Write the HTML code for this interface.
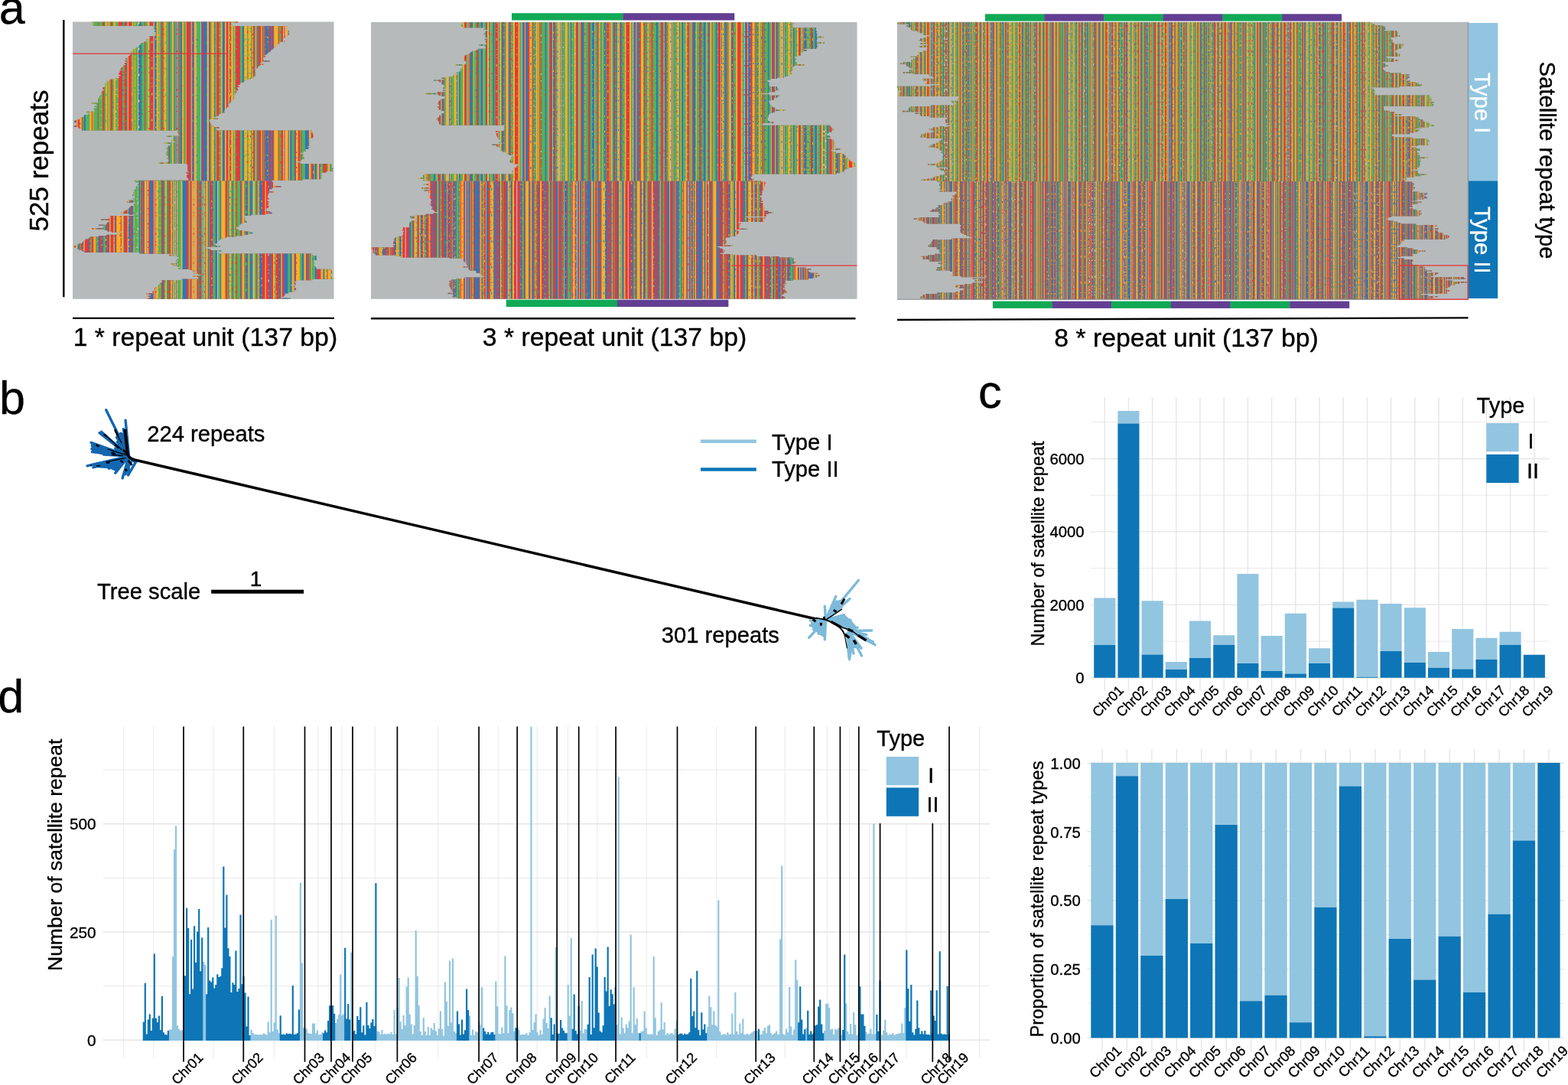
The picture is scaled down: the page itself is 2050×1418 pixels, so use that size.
<!DOCTYPE html>
<html lang="en">
<head>
<meta charset="utf-8">
<title>Satellite repeat types</title>
<style>
html,body{margin:0;padding:0;background:#fff;}
body{width:2050px;height:1418px;overflow:hidden;}
svg{display:block;font-family:'Liberation Sans', Arial, Helvetica, sans-serif;}
text{stroke-width:.35px;}
</style>
</head>
<body>
<svg width="2050" height="1418" viewBox="0 0 2050 1418">
<g>
<rect x="95" y="28.5" width="341.5" height="362.3" fill="#b6babb"/>
<clipPath id="al1"><path d="M120.3 28.3L120.3 29.8L122 29.8L122 31.2L120.8 31.2L120.8 32.7L122.3 32.7L122.3 34.1L200.6 34.1L200.6 35.6L201.3 35.6L201.3 37L200.8 37L200.8 38.5L203.7 38.5L203.7 39.9L202.1 39.9L202.1 41.4L203.6 41.4L203.6 42.8L203.8 42.8L203.8 44.3L202.9 44.3L202.9 45.7L203.2 45.7L203.2 47.2L195 47.2L195 48.6L196.1 48.6L196.1 50.1L194.4 50.1L194.4 51.5L191.5 51.5L191.5 53L194.3 53L194.3 54.4L188.1 54.4L188.1 55.9L184.6 55.9L184.6 57.3L184.2 57.3L184.2 58.8L182.3 58.8L182.3 60.2L181.6 60.2L181.6 61.7L177.7 61.7L177.7 63.1L175.9 63.1L175.9 64.6L174 64.6L174 66L173.1 66L173.1 67.5L171.9 67.5L171.9 68.9L172.6 68.9L172.6 70.4L170.8 70.4L170.8 71.8L169.5 71.8L169.5 73.3L167.3 73.3L167.3 74.7L166.8 74.7L166.8 76.2L163.9 76.2L163.9 77.6L166.6 77.6L166.6 79.1L163.5 79.1L163.5 80.5L165.6 80.5L165.6 82L162.8 82L162.8 83.4L163.9 83.4L163.9 84.9L160.9 84.9L160.9 86.3L161.1 86.3L161.1 87.8L159.1 87.8L159.1 89.2L157.5 89.2L157.5 90.7L159.6 90.7L159.6 92.1L156.8 92.1L156.8 93.6L156.7 93.6L156.7 95L155.4 95L155.4 96.5L155.7 96.5L155.7 97.9L157.5 97.9L157.5 99.4L155.2 99.4L155.2 100.8L155.9 100.8L155.9 102.3L149.6 102.3L149.6 103.7L143.2 103.7L143.2 105.2L141.9 105.2L141.9 106.6L139.3 106.6L139.3 108.1L137.6 108.1L137.6 109.5L138.3 109.5L138.3 111L137.2 111L137.2 112.4L137.1 112.4L137.1 113.9L134.4 113.9L134.4 115.3L134.6 115.3L134.6 116.8L136.2 116.8L136.2 118.2L134.3 118.2L134.3 119.7L132.4 119.7L132.4 121.1L132.8 121.1L132.8 122.6L133.1 122.6L133.1 124L131.3 124L131.3 125.5L130.1 125.5L130.1 126.9L129.6 126.9L129.6 128.4L128.8 128.4L128.8 129.8L128 129.8L128 131.3L128.3 131.3L128.3 132.7L128.6 132.7L128.6 134.2L120.2 134.2L120.2 135.6L125.4 135.6L125.4 137.1L127 137.1L127 138.5L123.7 138.5L123.7 140L125.9 140L125.9 141.4L122.7 141.4L122.7 142.9L123.2 142.9L123.2 144.3L124.1 144.3L124.1 145.8L113.3 145.8L113.3 147.2L118.1 147.2L118.1 148.7L114.9 148.7L114.9 150.1L110.4 150.1L110.4 151.6L109.5 151.6L109.5 153L105.3 153L105.3 154.5L104.1 154.5L104.1 155.9L101.4 155.9L101.4 157.4L97.5 157.4L97.5 158.8L97.3 158.8L97.3 160.3L99.9 160.3L99.9 161.7L100 161.7L100 163.2L99.1 163.2L99.1 164.6L96.8 164.6L96.8 166.1L102.5 166.1L102.5 167.5L104.6 167.5L104.6 169L106.9 169L106.9 170.4L233.2 170.4L233.2 171.9L232 171.9L232 173.3L233.7 173.3L233.7 174.8L233.2 174.8L233.2 176.2L234.9 176.2L234.9 177.7L217.6 177.7L217.6 179.1L227.4 179.1L227.4 180.6L226.8 180.6L226.8 182L225.2 182L225.2 183.5L224.5 183.5L224.5 184.9L229.3 184.9L229.3 186.4L214.7 186.4L214.7 187.8L223.1 187.8L223.1 189.3L222.3 189.3L222.3 190.7L219.5 190.7L219.5 192.2L219.7 192.2L219.7 193.6L217.7 193.6L217.7 195.1L219 195.1L219 196.5L218.3 196.5L218.3 198L218.4 198L218.4 199.4L217.3 199.4L217.3 200.9L216.9 200.9L216.9 202.3L218.5 202.3L218.5 203.8L219.6 203.8L219.6 205.2L220.3 205.2L220.3 206.7L218.4 206.7L218.4 208.1L220.5 208.1L220.5 209.6L220.9 209.6L220.9 211L219.6 211L219.6 212.5L207.9 212.5L207.9 213.9L244.6 213.9L244.6 215.4L246.2 215.4L246.2 216.8L245.2 216.8L245.2 218.3L245.6 218.3L245.6 219.7L245.1 219.7L245.1 221.2L246.6 221.2L246.6 222.6L244.9 222.6L244.9 224.1L246.9 224.1L246.9 225.5L243.7 225.5L243.7 227L246.5 227L246.5 228.4L244.4 228.4L244.4 229.9L244.3 229.9L244.3 231.3L244.8 231.3L244.8 232.8L246.1 232.8L246.1 234.2L246.8 234.2L246.8 235.7L175.5 235.7L175.5 237.1L177.1 237.1L177.1 238.6L181.9 238.6L181.9 240L180.5 240L180.5 241.5L179.8 241.5L179.8 242.9L178.6 242.9L178.6 244.4L177.2 244.4L177.2 245.8L178.2 245.8L178.2 247.3L175.9 247.3L175.9 248.7L175.3 248.7L175.3 250.2L175.2 250.2L175.2 251.6L174.2 251.6L174.2 253.1L174.8 253.1L174.8 254.5L173.3 254.5L173.3 256L176.1 256L176.1 257.4L175.8 257.4L175.8 258.9L173.7 258.9L173.7 260.3L175.8 260.3L175.8 261.8L167.6 261.8L167.6 263.2L166.2 263.2L166.2 264.7L177.3 264.7L177.3 266.1L174.9 266.1L174.9 267.6L175.2 267.6L175.2 269L170.9 269L170.9 270.5L169.3 270.5L169.3 271.9L168.2 271.9L168.2 273.4L166.2 273.4L166.2 274.8L163.8 274.8L163.8 276.3L161.5 276.3L161.5 277.7L158.4 277.7L158.4 279.2L168.6 279.2L168.6 280.6L175.7 280.6L175.7 282.1L143.5 282.1L143.5 283.5L144.5 283.5L144.5 285L142.5 285L142.5 286.4L132.3 286.4L132.3 287.9L142.7 287.9L142.7 289.3L142.8 289.3L142.8 290.8L139.9 290.8L139.9 292.2L139.2 292.2L139.2 293.7L129 293.7L129 295.1L135.8 295.1L135.8 296.6L134.8 296.6L134.8 298L120.6 298L120.6 299.5L136 299.5L136 300.9L140.4 300.9L140.4 302.4L146.2 302.4L146.2 303.8L156.4 303.8L156.4 305.3L153.8 305.3L153.8 306.7L139.4 306.7L139.4 308.2L129.3 308.2L129.3 309.6L117.3 309.6L117.3 311.1L115.8 311.1L115.8 312.5L111.8 312.5L111.8 314L110.3 314L110.3 315.4L108.4 315.4L108.4 316.9L107.3 316.9L107.3 318.3L102.8 318.3L102.8 319.8L99.6 319.8L99.6 321.2L97.1 321.2L97.1 322.7L97.4 322.7L97.4 324.1L100.2 324.1L100.2 325.6L103 325.6L103 327L107.5 327L107.5 328.5L110.5 328.5L110.5 329.9L182.5 329.9L182.5 331.4L231.3 331.4L231.3 332.8L221.3 332.8L221.3 334.3L231.5 334.3L231.5 335.7L233.7 335.7L233.7 337.2L234.5 337.2L234.5 338.6L231.5 338.6L231.5 340.1L230.2 340.1L230.2 341.5L232.2 341.5L232.2 343L230.5 343L230.5 344.4L223.5 344.4L223.5 345.9L226.5 345.9L226.5 347.3L231.9 347.3L231.9 348.8L236.2 348.8L236.2 350.2L233.1 350.2L233.1 351.7L247.8 351.7L247.8 353.1L251.4 353.1L251.4 354.6L256.8 354.6L256.8 356L252.9 356L252.9 357.5L259 357.5L259 358.9L262.7 358.9L262.7 360.4L252.1 360.4L252.1 361.8L259.2 361.8L259.2 363.3L259 363.3L259 364.7L237.3 364.7L237.3 366.2L211.7 366.2L211.7 367.6L212.1 367.6L212.1 369.1L210.5 369.1L210.5 370.5L208.9 370.5L208.9 372L207.5 372L207.5 373.4L206.5 373.4L206.5 374.9L203.8 374.9L203.8 376.3L202 376.3L202 377.8L201.9 377.8L201.9 379.2L202.3 379.2L202.3 380.7L199.5 380.7L199.5 382.1L200 382.1L200 383.6L191.1 383.6L191.1 385L197.2 385L197.2 386.5L192.5 386.5L192.5 387.9L196.1 387.9L196.1 389.4L192.5 389.4L192.5 390.8L379.8 390.8L379.8 389.4L367.9 389.4L367.9 387.9L370.9 387.9L370.9 386.5L372.2 386.5L372.2 385L372.3 385L372.3 383.6L377.2 383.6L377.2 382.1L384.5 382.1L384.5 380.7L382.1 380.7L382.1 379.2L386.7 379.2L386.7 377.8L387.2 377.8L387.2 376.3L384.5 376.3L384.5 374.9L385.6 374.9L385.6 373.4L380.3 373.4L380.3 372L386.6 372L386.6 370.5L386.2 370.5L386.2 369.1L385 369.1L385 367.6L387.3 367.6L387.3 366.2L408.4 366.2L408.4 364.7L435.5 364.7L435.5 363.3L434.5 363.3L434.5 361.8L432.9 361.8L432.9 360.4L432.9 360.4L432.9 358.9L432.6 358.9L432.6 357.5L434.5 357.5L434.5 356L435 356L435 354.6L433.4 354.6L433.4 353.1L432.2 353.1L432.2 351.7L413.7 351.7L413.7 350.2L412.8 350.2L412.8 348.8L411.7 348.8L411.7 347.3L410 347.3L410 345.9L411 345.9L411 344.4L410.2 344.4L410.2 343L410.5 343L410.5 341.5L410.2 341.5L410.2 340.1L413.6 340.1L413.6 338.6L413.6 338.6L413.6 337.2L413.6 337.2L413.6 335.7L413.6 335.7L413.6 334.3L408.9 334.3L408.9 332.8L407.6 332.8L407.6 331.4L285.8 331.4L285.8 329.9L283.3 329.9L283.3 328.5L289.7 328.5L289.7 327L275.3 327L275.3 325.6L268.9 325.6L268.9 324.1L268.6 324.1L268.6 322.7L288.1 322.7L288.1 321.2L281.9 321.2L281.9 319.8L280.2 319.8L280.2 318.3L283.7 318.3L283.7 316.9L284.8 316.9L284.8 315.4L285.4 315.4L285.4 314L287.7 314L287.7 312.5L291.7 312.5L291.7 311.1L295.9 311.1L295.9 309.6L308.9 309.6L308.9 308.2L318.5 308.2L318.5 306.7L325.2 306.7L325.2 305.3L330.6 305.3L330.6 303.8L326.4 303.8L326.4 302.4L319.5 302.4L319.5 300.9L312.1 300.9L312.1 299.5L308.8 299.5L308.8 298L308.9 298L308.9 296.6L312.3 296.6L312.3 295.1L312.9 295.1L312.9 293.7L314.4 293.7L314.4 292.2L318.3 292.2L318.3 290.8L322.5 290.8L322.5 289.3L321.7 289.3L321.7 287.9L320.1 287.9L320.1 286.4L320.2 286.4L320.2 285L320 285L320 283.5L317.7 283.5L317.7 282.1L328.3 282.1L328.3 280.6L347.6 280.6L347.6 279.2L355.8 279.2L355.8 277.7L353.2 277.7L353.2 276.3L348.7 276.3L348.7 274.8L346 274.8L346 273.4L348.5 273.4L348.5 271.9L350.4 271.9L350.4 270.5L351.5 270.5L351.5 269L349.9 269L349.9 267.6L350.8 267.6L350.8 266.1L351.3 266.1L351.3 264.7L351.7 264.7L351.7 263.2L349.6 263.2L349.6 261.8L349.3 261.8L349.3 260.3L352 260.3L352 258.9L350.2 258.9L350.2 257.4L349.4 257.4L349.4 256L350.2 256L350.2 254.5L350.4 254.5L350.4 253.1L351.7 253.1L351.7 251.6L358.7 251.6L358.7 250.2L352.1 250.2L352.1 248.7L351.9 248.7L351.9 247.3L355.2 247.3L355.2 245.8L357.4 245.8L357.4 244.4L367.9 244.4L367.9 242.9L358.2 242.9L358.2 241.5L356.7 241.5L356.7 240L357.2 240L357.2 238.6L356.2 238.6L356.2 237.1L355.3 237.1L355.3 235.7L395.6 235.7L395.6 234.2L419.7 234.2L419.7 232.8L420.2 232.8L420.2 231.3L419.4 231.3L419.4 229.9L420.8 229.9L420.8 228.4L419.4 228.4L419.4 227L420.7 227L420.7 225.5L426.8 225.5L426.8 224.1L434.6 224.1L434.6 222.6L433.8 222.6L433.8 221.2L435.3 221.2L435.3 219.7L433.3 219.7L433.3 218.3L433.8 218.3L433.8 216.8L433.8 216.8L433.8 215.4L432.7 215.4L432.7 213.9L393.1 213.9L393.1 212.5L387.7 212.5L387.7 211L392.8 211L392.8 209.6L394.7 209.6L394.7 208.1L397.4 208.1L397.4 206.7L397.8 206.7L397.8 205.2L395.8 205.2L395.8 203.8L396.3 203.8L396.3 202.3L396.2 202.3L396.2 200.9L393.4 200.9L393.4 199.4L396.8 199.4L396.8 198L399.5 198L399.5 196.5L399.2 196.5L399.2 195.1L403 195.1L403 193.6L404.4 193.6L404.4 192.2L402.3 192.2L402.3 190.7L404.8 190.7L404.8 189.3L404.4 189.3L404.4 187.8L404.6 187.8L404.6 186.4L405.2 186.4L405.2 184.9L403.7 184.9L403.7 183.5L405.1 183.5L405.1 182L406 182L406 180.6L408.9 180.6L408.9 179.1L409.8 179.1L409.8 177.7L409.9 177.7L409.9 176.2L409.1 176.2L409.1 174.8L408.5 174.8L408.5 173.3L406.3 173.3L406.3 171.9L407.3 171.9L407.3 170.4L283.3 170.4L283.3 169L282.4 169L282.4 167.5L286.9 167.5L286.9 166.1L279.3 166.1L279.3 164.6L276.2 164.6L276.2 163.2L276.1 163.2L276.1 161.7L274.9 161.7L274.9 160.3L274.3 160.3L274.3 158.8L273.2 158.8L273.2 157.4L274 157.4L274 155.9L285 155.9L285 154.5L279 154.5L279 153L282.5 153L282.5 151.6L285.9 151.6L285.9 150.1L286.6 150.1L286.6 148.7L288.9 148.7L288.9 147.2L293.4 147.2L293.4 145.8L292.4 145.8L292.4 144.3L293.9 144.3L293.9 142.9L294.8 142.9L294.8 141.4L296.9 141.4L296.9 140L298.4 140L298.4 138.5L299 138.5L299 137.1L298.1 137.1L298.1 135.6L300.4 135.6L300.4 134.2L301.6 134.2L301.6 132.7L301.8 132.7L301.8 131.3L304.6 131.3L304.6 129.8L305.2 129.8L305.2 128.4L307 128.4L307 126.9L305.4 126.9L305.4 125.5L305.5 125.5L305.5 124L307.3 124L307.3 122.6L308.1 122.6L308.1 121.1L309.5 121.1L309.5 119.7L308.1 119.7L308.1 118.2L311.2 118.2L311.2 116.8L310.8 116.8L310.8 115.3L309.8 115.3L309.8 113.9L312.8 113.9L312.8 112.4L310.8 112.4L310.8 111L313.5 111L313.5 109.5L314.7 109.5L314.7 108.1L318.3 108.1L318.3 106.6L319.6 106.6L319.6 105.2L322.3 105.2L322.3 103.7L327.5 103.7L327.5 102.3L331.3 102.3L331.3 100.8L331.4 100.8L331.4 99.4L334.5 99.4L334.5 97.9L334.5 97.9L334.5 96.5L334.1 96.5L334.1 95L334.5 95L334.5 93.6L334 93.6L334 92.1L334.4 92.1L334.4 90.7L333 90.7L333 89.2L337 89.2L337 87.8L337.5 87.8L337.5 86.3L339.6 86.3L339.6 84.9L344.4 84.9L344.4 83.4L340.2 83.4L340.2 82L342.6 82L342.6 80.5L352.5 80.5L352.5 79.1L344.5 79.1L344.5 77.6L343.7 77.6L343.7 76.2L343.8 76.2L343.8 74.7L347 74.7L347 73.3L345.6 73.3L345.6 71.8L348.2 71.8L348.2 70.4L349.9 70.4L349.9 68.9L351.7 68.9L351.7 67.5L353.7 67.5L353.7 66L354.9 66L354.9 64.6L357.1 64.6L357.1 63.1L360 63.1L360 61.7L358.9 61.7L358.9 60.2L360.6 60.2L360.6 58.8L362.6 58.8L362.6 57.3L365.3 57.3L365.3 55.9L364.9 55.9L364.9 54.4L372.8 54.4L372.8 53L369.9 53L369.9 51.5L369.7 51.5L369.7 50.1L373.7 50.1L373.7 48.6L374.2 48.6L374.2 47.2L375.5 47.2L375.5 45.7L378.5 45.7L378.5 44.3L378.1 44.3L378.1 42.8L376.6 42.8L376.6 41.4L378.2 41.4L378.2 39.9L375.6 39.9L375.6 38.5L375.1 38.5L375.1 37L374.4 37L374.4 35.6L375.7 35.6L375.7 34.1L304.4 34.1L304.4 32.7L302.3 32.7L302.3 31.2L302 31.2L302 29.8L311.1 29.8L311.1 28.3z"/></clipPath>
<g clip-path="url(#al1)">
<rect x="95" y="28.5" width="341.5" height="208.1" fill="#9d8858"/>
<path fill="#2d77be" d="M95 28.5h3.91v208.1h-3.91zM109.34 28.5h2.61v208.1h-2.61zM165.39 28.5h1.3v208.1h-1.3zM181.03 28.5h3.91v208.1h-3.91zM195.36 28.5h1.3v208.1h-1.3zM209.7 28.5h1.3v208.1h-1.3zM218.83 28.5h2.61v208.1h-2.61zM222.74 28.5h1.3v208.1h-1.3zM226.65 28.5h1.3v208.1h-1.3zM239.68 28.5h1.3v208.1h-1.3zM263.14 28.5h6.52v208.1h-6.52zM272.27 28.5h1.3v208.1h-1.3zM297.03 28.5h3.91v208.1h-3.91zM307.46 28.5h1.3v208.1h-1.3zM316.58 28.5h2.61v208.1h-2.61zM332.23 28.5h1.3v208.1h-1.3zM337.44 28.5h1.3v208.1h-1.3zM346.56 28.5h3.91v208.1h-3.91zM351.78 28.5h2.61v208.1h-2.61zM355.69 28.5h1.3v208.1h-1.3zM376.54 28.5h1.3v208.1h-1.3zM379.15 28.5h2.61v208.1h-2.61zM385.67 28.5h1.3v208.1h-1.3zM398.7 28.5h5.21v208.1h-5.21zM409.13 28.5h1.3v208.1h-1.3zM411.73 28.5h2.61v208.1h-2.61zM431.29 28.5h1.3v208.1h-1.3zM433.89 28.5h1.3v208.1h-1.3z"/>
<path fill="#ec353b" d="M98.91 28.5h1.3v208.1h-1.3zM101.52 28.5h2.61v208.1h-2.61zM106.73 28.5h1.3v208.1h-1.3zM119.77 28.5h1.3v208.1h-1.3zM127.59 28.5h1.3v208.1h-1.3zM134.1 28.5h2.61v208.1h-2.61zM144.53 28.5h2.61v208.1h-2.61zM154.96 28.5h5.21v208.1h-5.21zM162.78 28.5h2.61v208.1h-2.61zM167.99 28.5h3.91v208.1h-3.91zM188.85 28.5h1.3v208.1h-1.3zM196.67 28.5h3.91v208.1h-3.91zM234.47 28.5h1.3v208.1h-1.3zM242.29 28.5h5.21v208.1h-5.21zM269.66 28.5h1.3v208.1h-1.3zM276.18 28.5h3.91v208.1h-3.91zM287.91 28.5h2.61v208.1h-2.61zM293.12 28.5h1.3v208.1h-1.3zM300.94 28.5h1.3v208.1h-1.3zM308.76 28.5h5.21v208.1h-5.21zM330.92 28.5h1.3v208.1h-1.3zM336.14 28.5h1.3v208.1h-1.3zM338.74 28.5h2.61v208.1h-2.61zM342.65 28.5h1.3v208.1h-1.3zM345.26 28.5h1.3v208.1h-1.3zM350.47 28.5h1.3v208.1h-1.3zM354.38 28.5h1.3v208.1h-1.3zM356.99 28.5h1.3v208.1h-1.3zM363.51 28.5h1.3v208.1h-1.3zM367.42 28.5h2.61v208.1h-2.61zM371.33 28.5h1.3v208.1h-1.3zM384.36 28.5h1.3v208.1h-1.3zM389.58 28.5h2.61v208.1h-2.61zM393.49 28.5h1.3v208.1h-1.3zM406.52 28.5h2.61v208.1h-2.61zM416.95 28.5h1.3v208.1h-1.3zM422.16 28.5h5.21v208.1h-5.21z"/>
<path fill="#fbae25" d="M100.21 28.5h1.3v208.1h-1.3zM104.12 28.5h2.61v208.1h-2.61zM117.16 28.5h2.61v208.1h-2.61zM121.07 28.5h1.3v208.1h-1.3zM138.01 28.5h2.61v208.1h-2.61zM141.92 28.5h1.3v208.1h-1.3zM148.44 28.5h2.61v208.1h-2.61zM166.69 28.5h1.3v208.1h-1.3zM173.21 28.5h1.3v208.1h-1.3zM175.81 28.5h1.3v208.1h-1.3zM179.72 28.5h1.3v208.1h-1.3zM192.76 28.5h2.61v208.1h-2.61zM200.58 28.5h1.3v208.1h-1.3zM204.49 28.5h1.3v208.1h-1.3zM208.4 28.5h1.3v208.1h-1.3zM211.01 28.5h2.61v208.1h-2.61zM216.22 28.5h1.3v208.1h-1.3zM224.04 28.5h2.61v208.1h-2.61zM227.95 28.5h3.91v208.1h-3.91zM235.77 28.5h2.61v208.1h-2.61zM240.98 28.5h1.3v208.1h-1.3zM251.41 28.5h5.21v208.1h-5.21zM270.96 28.5h1.3v208.1h-1.3zM273.57 28.5h2.61v208.1h-2.61zM280.09 28.5h1.3v208.1h-1.3zM285.3 28.5h1.3v208.1h-1.3zM294.43 28.5h2.61v208.1h-2.61zM302.25 28.5h2.61v208.1h-2.61zM306.16 28.5h1.3v208.1h-1.3zM319.19 28.5h3.91v208.1h-3.91zM324.4 28.5h3.91v208.1h-3.91zM329.62 28.5h1.3v208.1h-1.3zM333.53 28.5h1.3v208.1h-1.3zM341.35 28.5h1.3v208.1h-1.3zM358.29 28.5h5.21v208.1h-5.21zM370.02 28.5h1.3v208.1h-1.3zM373.94 28.5h2.61v208.1h-2.61zM377.85 28.5h1.3v208.1h-1.3zM386.97 28.5h2.61v208.1h-2.61zM403.91 28.5h2.61v208.1h-2.61zM414.34 28.5h1.3v208.1h-1.3zM428.68 28.5h2.61v208.1h-2.61z"/>
<path fill="#4db65a" d="M108.03 28.5h1.3v208.1h-1.3zM111.94 28.5h5.21v208.1h-5.21zM122.37 28.5h5.21v208.1h-5.21zM128.89 28.5h5.21v208.1h-5.21zM136.71 28.5h1.3v208.1h-1.3zM140.62 28.5h1.3v208.1h-1.3zM143.23 28.5h1.3v208.1h-1.3zM147.14 28.5h1.3v208.1h-1.3zM151.05 28.5h3.91v208.1h-3.91zM160.17 28.5h2.61v208.1h-2.61zM171.9 28.5h1.3v208.1h-1.3zM174.51 28.5h1.3v208.1h-1.3zM177.12 28.5h2.61v208.1h-2.61zM184.94 28.5h3.91v208.1h-3.91zM190.15 28.5h2.61v208.1h-2.61zM201.88 28.5h2.61v208.1h-2.61zM205.79 28.5h2.61v208.1h-2.61zM213.61 28.5h2.61v208.1h-2.61zM217.52 28.5h1.3v208.1h-1.3zM221.43 28.5h1.3v208.1h-1.3zM231.86 28.5h2.61v208.1h-2.61zM238.38 28.5h1.3v208.1h-1.3zM250.11 28.5h1.3v208.1h-1.3zM256.63 28.5h6.52v208.1h-6.52zM281.39 28.5h3.91v208.1h-3.91zM290.52 28.5h2.61v208.1h-2.61zM304.85 28.5h1.3v208.1h-1.3zM313.98 28.5h2.61v208.1h-2.61zM323.1 28.5h1.3v208.1h-1.3zM328.31 28.5h1.3v208.1h-1.3zM334.83 28.5h1.3v208.1h-1.3zM343.96 28.5h1.3v208.1h-1.3zM364.81 28.5h2.61v208.1h-2.61zM381.76 28.5h2.61v208.1h-2.61zM392.18 28.5h1.3v208.1h-1.3zM394.79 28.5h3.91v208.1h-3.91zM410.43 28.5h1.3v208.1h-1.3zM418.25 28.5h3.91v208.1h-3.91zM427.38 28.5h1.3v208.1h-1.3zM432.59 28.5h1.3v208.1h-1.3zM435.2 28.5h1.3v208.1h-1.3z"/>
<path fill="#8a5a86" d="M247.5 28.5h2.61v208.1h-2.61z"/>
<path fill="#c4c0b4" d="M286.6 28.5h1.3v208.1h-1.3zM372.63 28.5h1.3v208.1h-1.3zM415.65 28.5h1.3v208.1h-1.3z"/>
<path fill="#c4c0b4" d="M201.23 28.5h0.69v208.1h-0.69zM231 28.5h1.23v208.1h-1.23zM253.8 28.5h1.04v208.1h-1.04zM262.09 28.5h0.94v208.1h-0.94zM270.48 28.5h1.04v208.1h-1.04z"/>
<path fill="#2d77be" d="M201.88 28.5h2.86v208.1h-2.86zM210.27 28.5h1.14v208.1h-1.14zM221.13 28.5h1.38v208.1h-1.38zM227.05 28.5h1.53v208.1h-1.53zM229.76 28.5h1.28v208.1h-1.28zM235.69 28.5h2.37v208.1h-2.37zM251.92 28.5h1.93v208.1h-1.93zM262.98 28.5h1.33v208.1h-1.33zM265.89 28.5h4.64v208.1h-4.64zM272.95 28.5h1.04v208.1h-1.04zM279.86 28.5h1.23v208.1h-1.23zM290.57 28.5h3.41v208.1h-3.41z"/>
<path fill="#fbae25" d="M204.69 28.5h2.52v208.1h-2.52zM208.29 28.5h1.14v208.1h-1.14zM214.22 28.5h3.21v208.1h-3.21zM219.4 28.5h0.99v208.1h-0.99zM224.93 28.5h2.17v208.1h-2.17zM238.01 28.5h2.42v208.1h-2.42zM242.55 28.5h1.33v208.1h-1.33zM249.51 28.5h1.48v208.1h-1.48zM254.79 28.5h2.27v208.1h-2.27zM271.47 28.5h1.53v208.1h-1.53zM276.26 28.5h3.65v208.1h-3.65zM282.43 28.5h0.94v208.1h-0.94zM288.6 28.5h2.02v208.1h-2.02zM293.93 28.5h1.88v208.1h-1.88zM298.22 28.5h1.83v208.1h-1.83z"/>
<path fill="#4db65a" d="M207.16 28.5h1.19v208.1h-1.19zM209.38 28.5h0.94v208.1h-0.94zM213.23 28.5h1.04v208.1h-1.04zM217.37 28.5h2.07v208.1h-2.07zM222.46 28.5h2.52v208.1h-2.52zM228.53 28.5h1.28v208.1h-1.28zM232.97 28.5h1.38v208.1h-1.38zM235.04 28.5h0.69v208.1h-0.69zM240.38 28.5h2.22v208.1h-2.22zM257.01 28.5h5.13v208.1h-5.13zM274.93 28.5h1.38v208.1h-1.38zM281.05 28.5h1.43v208.1h-1.43zM286.62 28.5h2.02v208.1h-2.02z"/>
<path fill="#ec353b" d="M211.35 28.5h1.93v208.1h-1.93zM220.34 28.5h0.84v208.1h-0.84zM232.18 28.5h0.84v208.1h-0.84zM234.3 28.5h0.79v208.1h-0.79zM243.83 28.5h3.6v208.1h-3.6zM250.94 28.5h1.04v208.1h-1.04zM264.26 28.5h1.68v208.1h-1.68zM273.94 28.5h1.04v208.1h-1.04zM283.32 28.5h3.36v208.1h-3.36zM295.76 28.5h2.52v208.1h-2.52z"/>
<path fill="#8a5a86" d="M247.38 28.5h2.17v208.1h-2.17z"/>
<path fill="none" stroke="#ec353b" stroke-width="1.3" stroke-dasharray="1.5 6 1 11 2 4 1 17" stroke-dashoffset="4" d="M96.96 28.5v208.1M237.73 28.5v208.1M330.27 28.5v208.1M387.62 28.5v208.1"/>
<path fill="none" stroke="#c9c4b8" stroke-width="1.3" stroke-dasharray="1 4 2 13 1 7 1.5 9" stroke-dashoffset="11" d="M98.26 28.5v208.1M287.26 28.5v208.1"/>
<path fill="none" stroke="#2d77be" stroke-width="1.3" stroke-dasharray="1.5 6 1 11 2 4 1 17" stroke-dashoffset="18" d="M104.78 28.5v208.1M160.82 28.5v208.1M385.01 28.5v208.1"/>
<path fill="none" stroke="#fbae25" stroke-width="1.3" stroke-dasharray="1 4 2 13 1 7 1.5 9" stroke-dashoffset="22" d="M132.15 28.5v208.1M203.84 28.5v208.1"/>
<path fill="none" stroke="#4db65a" stroke-width="1.3" stroke-dasharray="1 3 1 8 3 11 1 6" stroke-dashoffset="21" d="M138.67 28.5v208.1M196.02 28.5v208.1M216.87 28.5v208.1M252.06 28.5v208.1M270.31 28.5v208.1"/>
<path fill="none" stroke="#4db65a" stroke-width="1.3" stroke-dasharray="1.5 12 1 5 1 21 2 7" stroke-dashoffset="20" d="M139.97 28.5v208.1M321.15 28.5v208.1"/>
<path fill="none" stroke="#2d77be" stroke-width="1.3" stroke-dasharray="2 9 1 3 1 16 1 5" stroke-dashoffset="3" d="M147.79 28.5v208.1M327.66 28.5v208.1M418.9 28.5v208.1"/>
<path fill="none" stroke="#c9c4b8" stroke-width="1.3" stroke-dasharray="1.5 12 1 5 1 21 2 7" stroke-dashoffset="26" d="M151.7 28.5v208.1M370.68 28.5v208.1"/>
<path fill="none" stroke="#fbae25" stroke-width="1.3" stroke-dasharray="1.5 6 1 11 2 4 1 17" stroke-dashoffset="0" d="M153 28.5v208.1M349.82 28.5v208.1"/>
<path fill="none" stroke="#fbae25" stroke-width="1.3" stroke-dasharray="2 9 1 3 1 16 1 5" stroke-dashoffset="18" d="M154.31 28.5v208.1M300.29 28.5v208.1"/>
<path fill="none" stroke="#ec353b" stroke-width="1.3" stroke-dasharray="1 4 2 13 1 7 1.5 9" stroke-dashoffset="1" d="M162.13 28.5v208.1M185.59 28.5v208.1"/>
<path fill="none" stroke="#4db65a" stroke-width="1.3" stroke-dasharray="1.5 6 1 11 2 4 1 17" stroke-dashoffset="21" d="M164.73 28.5v208.1M176.46 28.5v208.1M212.96 28.5v208.1M306.81 28.5v208.1M325.06 28.5v208.1M407.17 28.5v208.1"/>
<path fill="none" stroke="#fbae25" stroke-width="1.3" stroke-dasharray="1 3 1 8 3 11 1 6" stroke-dashoffset="22" d="M172.55 28.5v208.1M198.62 28.5v208.1M301.59 28.5v208.1M409.78 28.5v208.1"/>
<path fill="none" stroke="#c9c4b8" stroke-width="1.3" stroke-dasharray="1 3 1 8 3 11 1 6" stroke-dashoffset="13" d="M181.68 28.5v208.1"/>
<path fill="none" stroke="#ec353b" stroke-width="1.3" stroke-dasharray="1.5 12 1 5 1 21 2 7" stroke-dashoffset="4" d="M194.71 28.5v208.1M214.26 28.5v208.1M231.21 28.5v208.1"/>
<path fill="none" stroke="#fbae25" stroke-width="1.3" stroke-dasharray="1.5 12 1 5 1 21 2 7" stroke-dashoffset="25" d="M207.75 28.5v208.1M420.21 28.5v208.1"/>
<path fill="none" stroke="#2d77be" stroke-width="1.3" stroke-dasharray="1.5 12 1 5 1 21 2 7" stroke-dashoffset="19" d="M257.28 28.5v208.1M355.04 28.5v208.1"/>
<path fill="none" stroke="#c9c4b8" stroke-width="1.3" stroke-dasharray="2 9 1 3 1 16 1 5" stroke-dashoffset="1" d="M279.44 28.5v208.1"/>
<path fill="none" stroke="#2d77be" stroke-width="1.3" stroke-dasharray="1 4 2 13 1 7 1.5 9" stroke-dashoffset="22" d="M280.74 28.5v208.1"/>
<path fill="none" stroke="#4db65a" stroke-width="1.3" stroke-dasharray="1 4 2 13 1 7 1.5 9" stroke-dashoffset="9" d="M309.42 28.5v208.1M347.21 28.5v208.1"/>
<path fill="none" stroke="#4db65a" stroke-width="1.3" stroke-dasharray="2 9 1 3 1 16 1 5" stroke-dashoffset="15" d="M319.84 28.5v208.1"/>
<path fill="none" stroke="#ec353b" stroke-width="1.3" stroke-dasharray="1 3 1 8 3 11 1 6" stroke-dashoffset="1" d="M323.75 28.5v208.1M366.77 28.5v208.1"/>
<path fill="none" stroke="#ec353b" stroke-width="1.3" stroke-dasharray="2 9 1 3 1 16 1 5" stroke-dashoffset="22" d="M433.24 28.5v208.1"/>
<rect x="95" y="236.6" width="341.5" height="154.2" fill="#978064"/>
<path fill="#2d77be" d="M95 236.6h2.61v154.2h-2.61zM101.52 236.6h2.61v154.2h-2.61zM108.03 236.6h1.3v154.2h-1.3zM115.85 236.6h1.3v154.2h-1.3zM128.89 236.6h2.61v154.2h-2.61zM134.1 236.6h1.3v154.2h-1.3zM138.01 236.6h1.3v154.2h-1.3zM140.62 236.6h1.3v154.2h-1.3zM149.74 236.6h1.3v154.2h-1.3zM161.48 236.6h1.3v154.2h-1.3zM167.99 236.6h2.61v154.2h-2.61zM171.9 236.6h2.61v154.2h-2.61zM181.03 236.6h3.91v154.2h-3.91zM194.06 236.6h5.21v154.2h-5.21zM203.19 236.6h1.3v154.2h-1.3zM205.79 236.6h1.3v154.2h-1.3zM209.7 236.6h3.91v154.2h-3.91zM218.83 236.6h2.61v154.2h-2.61zM226.65 236.6h1.3v154.2h-1.3zM230.56 236.6h1.3v154.2h-1.3zM234.47 236.6h1.3v154.2h-1.3zM237.07 236.6h6.52v154.2h-6.52zM246.2 236.6h1.3v154.2h-1.3zM252.72 236.6h1.3v154.2h-1.3zM255.32 236.6h1.3v154.2h-1.3zM260.54 236.6h1.3v154.2h-1.3zM267.05 236.6h5.21v154.2h-5.21zM281.39 236.6h2.61v154.2h-2.61zM287.91 236.6h1.3v154.2h-1.3zM298.34 236.6h1.3v154.2h-1.3zM303.55 236.6h1.3v154.2h-1.3zM313.98 236.6h1.3v154.2h-1.3zM321.8 236.6h2.61v154.2h-2.61zM327.01 236.6h2.61v154.2h-2.61zM338.74 236.6h3.91v154.2h-3.91zM351.78 236.6h2.61v154.2h-2.61zM364.81 236.6h2.61v154.2h-2.61zM371.33 236.6h5.21v154.2h-5.21zM379.15 236.6h2.61v154.2h-2.61zM385.67 236.6h1.3v154.2h-1.3zM394.79 236.6h2.61v154.2h-2.61zM400 236.6h1.3v154.2h-1.3zM405.22 236.6h1.3v154.2h-1.3zM411.73 236.6h2.61v154.2h-2.61zM422.16 236.6h1.3v154.2h-1.3zM432.59 236.6h1.3v154.2h-1.3z"/>
<path fill="#ec353b" d="M97.61 236.6h1.3v154.2h-1.3zM105.43 236.6h2.61v154.2h-2.61zM110.64 236.6h5.21v154.2h-5.21zM117.16 236.6h1.3v154.2h-1.3zM119.77 236.6h2.61v154.2h-2.61zM127.59 236.6h1.3v154.2h-1.3zM131.5 236.6h2.61v154.2h-2.61zM139.32 236.6h1.3v154.2h-1.3zM141.92 236.6h1.3v154.2h-1.3zM144.53 236.6h3.91v154.2h-3.91zM151.05 236.6h1.3v154.2h-1.3zM157.56 236.6h1.3v154.2h-1.3zM162.78 236.6h3.91v154.2h-3.91zM170.6 236.6h1.3v154.2h-1.3zM190.15 236.6h2.61v154.2h-2.61zM199.27 236.6h1.3v154.2h-1.3zM204.49 236.6h1.3v154.2h-1.3zM213.61 236.6h1.3v154.2h-1.3zM217.52 236.6h1.3v154.2h-1.3zM224.04 236.6h1.3v154.2h-1.3zM231.86 236.6h1.3v154.2h-1.3zM243.59 236.6h1.3v154.2h-1.3zM251.41 236.6h1.3v154.2h-1.3zM254.02 236.6h1.3v154.2h-1.3zM265.75 236.6h1.3v154.2h-1.3zM272.27 236.6h1.3v154.2h-1.3zM274.87 236.6h2.61v154.2h-2.61zM294.43 236.6h2.61v154.2h-2.61zM308.76 236.6h1.3v154.2h-1.3zM315.28 236.6h1.3v154.2h-1.3zM320.49 236.6h1.3v154.2h-1.3zM334.83 236.6h1.3v154.2h-1.3zM342.65 236.6h3.91v154.2h-3.91zM347.87 236.6h3.91v154.2h-3.91zM354.38 236.6h2.61v154.2h-2.61zM360.9 236.6h3.91v154.2h-3.91zM368.72 236.6h2.61v154.2h-2.61zM384.36 236.6h1.3v154.2h-1.3zM401.31 236.6h2.61v154.2h-2.61zM414.34 236.6h5.21v154.2h-5.21zM427.38 236.6h1.3v154.2h-1.3z"/>
<path fill="#fbae25" d="M98.91 236.6h2.61v154.2h-2.61zM109.34 236.6h1.3v154.2h-1.3zM122.37 236.6h2.61v154.2h-2.61zM143.23 236.6h1.3v154.2h-1.3zM148.44 236.6h1.3v154.2h-1.3zM152.35 236.6h5.21v154.2h-5.21zM158.87 236.6h2.61v154.2h-2.61zM166.69 236.6h1.3v154.2h-1.3zM174.51 236.6h1.3v154.2h-1.3zM184.94 236.6h2.61v154.2h-2.61zM192.76 236.6h1.3v154.2h-1.3zM200.58 236.6h2.61v154.2h-2.61zM216.22 236.6h1.3v154.2h-1.3zM225.34 236.6h1.3v154.2h-1.3zM233.16 236.6h1.3v154.2h-1.3zM235.77 236.6h1.3v154.2h-1.3zM244.9 236.6h1.3v154.2h-1.3zM247.5 236.6h2.61v154.2h-2.61zM256.63 236.6h1.3v154.2h-1.3zM264.45 236.6h1.3v154.2h-1.3zM277.48 236.6h2.61v154.2h-2.61zM289.21 236.6h5.21v154.2h-5.21zM299.64 236.6h2.61v154.2h-2.61zM306.16 236.6h1.3v154.2h-1.3zM316.58 236.6h2.61v154.2h-2.61zM324.4 236.6h1.3v154.2h-1.3zM332.23 236.6h1.3v154.2h-1.3zM337.44 236.6h1.3v154.2h-1.3zM346.56 236.6h1.3v154.2h-1.3zM356.99 236.6h2.61v154.2h-2.61zM367.42 236.6h1.3v154.2h-1.3zM381.76 236.6h2.61v154.2h-2.61zM386.97 236.6h5.21v154.2h-5.21zM397.4 236.6h2.61v154.2h-2.61zM406.52 236.6h1.3v154.2h-1.3zM419.56 236.6h2.61v154.2h-2.61zM424.77 236.6h2.61v154.2h-2.61zM428.68 236.6h3.91v154.2h-3.91zM433.89 236.6h2.61v154.2h-2.61z"/>
<path fill="#4db65a" d="M104.12 236.6h1.3v154.2h-1.3zM118.46 236.6h1.3v154.2h-1.3zM124.98 236.6h2.61v154.2h-2.61zM135.41 236.6h2.61v154.2h-2.61zM175.81 236.6h5.21v154.2h-5.21zM187.54 236.6h2.61v154.2h-2.61zM207.1 236.6h2.61v154.2h-2.61zM214.92 236.6h1.3v154.2h-1.3zM221.43 236.6h2.61v154.2h-2.61zM227.95 236.6h2.61v154.2h-2.61zM257.93 236.6h2.61v154.2h-2.61zM261.84 236.6h2.61v154.2h-2.61zM273.57 236.6h1.3v154.2h-1.3zM280.09 236.6h1.3v154.2h-1.3zM285.3 236.6h2.61v154.2h-2.61zM297.03 236.6h1.3v154.2h-1.3zM302.25 236.6h1.3v154.2h-1.3zM304.85 236.6h1.3v154.2h-1.3zM307.46 236.6h1.3v154.2h-1.3zM310.07 236.6h3.91v154.2h-3.91zM319.19 236.6h1.3v154.2h-1.3zM325.71 236.6h1.3v154.2h-1.3zM329.62 236.6h1.3v154.2h-1.3zM333.53 236.6h1.3v154.2h-1.3zM336.14 236.6h1.3v154.2h-1.3zM359.6 236.6h1.3v154.2h-1.3zM376.54 236.6h2.61v154.2h-2.61zM392.18 236.6h2.61v154.2h-2.61zM403.91 236.6h1.3v154.2h-1.3zM407.82 236.6h3.91v154.2h-3.91zM423.47 236.6h1.3v154.2h-1.3z"/>
<path fill="#c4c0b4" d="M250.11 236.6h1.3v154.2h-1.3zM284 236.6h1.3v154.2h-1.3zM330.92 236.6h1.3v154.2h-1.3z"/>
<path fill="#b9a04a" d="M180 236.6h0.94v154.2h-0.94zM246.29 236.6h2.27v154.2h-2.27z"/>
<path fill="#4db65a" d="M180.89 236.6h1.04v154.2h-1.04zM182.86 236.6h1.63v154.2h-1.63zM191.25 236.6h1.14v154.2h-1.14zM207.05 236.6h4v154.2h-4zM214.21 236.6h1.78v154.2h-1.78zM217.66 236.6h1.53v154.2h-1.53zM220.08 236.6h0.84v154.2h-0.84zM227.29 236.6h1.53v154.2h-1.53zM231.92 236.6h4.15v154.2h-4.15zM238.14 236.6h1.04v154.2h-1.04zM250.24 236.6h1.14v154.2h-1.14zM259.37 236.6h1.04v154.2h-1.04zM263.07 236.6h1.28v154.2h-1.28zM272.94 236.6h1.04v154.2h-1.04zM278.47 236.6h1.58v154.2h-1.58z"/>
<path fill="#2d77be" d="M181.88 236.6h1.04v154.2h-1.04zM186.56 236.6h1.38v154.2h-1.38zM195.94 236.6h4.25v154.2h-4.25zM212.97 236.6h1.28v154.2h-1.28zM219.14 236.6h0.99v154.2h-0.99zM224.92 236.6h1.19v154.2h-1.19zM239.13 236.6h4.99v154.2h-4.99zM258.38 236.6h1.04v154.2h-1.04zM268.25 236.6h1.04v154.2h-1.04zM271.71 236.6h1.28v154.2h-1.28z"/>
<path fill="#ec353b" d="M184.44 236.6h2.17v154.2h-2.17zM187.9 236.6h1.04v154.2h-1.04zM194.22 236.6h1.78v154.2h-1.78zM200.14 236.6h0.89v154.2h-0.89zM202.11 236.6h1.14v154.2h-1.14zM211 236.6h2.02v154.2h-2.02zM220.87 236.6h2.52v154.2h-2.52zM229.85 236.6h1.19v154.2h-1.19zM244.07 236.6h2.27v154.2h-2.27zM248.51 236.6h1.78v154.2h-1.78zM257.15 236.6h1.28v154.2h-1.28zM260.36 236.6h2.76v154.2h-2.76zM273.93 236.6h2.52v154.2h-2.52z"/>
<path fill="#fbae25" d="M188.88 236.6h1.19v154.2h-1.19zM192.34 236.6h1.93v154.2h-1.93zM200.98 236.6h1.19v154.2h-1.19zM204.33 236.6h2.76v154.2h-2.76zM215.93 236.6h1.78v154.2h-1.78zM223.34 236.6h1.63v154.2h-1.63zM226.05 236.6h1.28v154.2h-1.28zM236.76 236.6h1.43v154.2h-1.43zM251.32 236.6h2.17v154.2h-2.17zM255.67 236.6h1.53v154.2h-1.53zM267.02 236.6h1.28v154.2h-1.28zM269.24 236.6h2.52v154.2h-2.52z"/>
<path fill="#c4c0b4" d="M190.02 236.6h1.28v154.2h-1.28zM203.2 236.6h1.19v154.2h-1.19zM230.99 236.6h0.99v154.2h-0.99z"/>
<path fill="#d9b070" d="M228.77 236.6h1.14v154.2h-1.14zM253.45 236.6h2.27v154.2h-2.27z"/>
<path fill="#7fb08a" d="M236.02 236.6h0.79v154.2h-0.79zM264.3 236.6h2.76v154.2h-2.76z"/>
<path fill="#8a5a86" d="M276.4 236.6h2.12v154.2h-2.12z"/>
<path fill="none" stroke="#fbae25" stroke-width="1.3" stroke-dasharray="1 3 1 8 3 11 1 6" stroke-dashoffset="17" d="M108.69 236.6v154.2M117.81 236.6v154.2M128.24 236.6v154.2M224.69 236.6v154.2"/>
<path fill="none" stroke="#2d77be" stroke-width="1.3" stroke-dasharray="1.5 12 1 5 1 21 2 7" stroke-dashoffset="0" d="M111.29 236.6v154.2M186.89 236.6v154.2M408.48 236.6v154.2"/>
<path fill="none" stroke="#2d77be" stroke-width="1.3" stroke-dasharray="1.5 6 1 11 2 4 1 17" stroke-dashoffset="27" d="M115.2 236.6v154.2"/>
<path fill="none" stroke="#ec353b" stroke-width="1.3" stroke-dasharray="1 3 1 8 3 11 1 6" stroke-dashoffset="10" d="M125.63 236.6v154.2M304.2 236.6v154.2M328.97 236.6v154.2"/>
<path fill="none" stroke="#2d77be" stroke-width="1.3" stroke-dasharray="1 3 1 8 3 11 1 6" stroke-dashoffset="12" d="M126.93 236.6v154.2M262.49 236.6v154.2M278.13 236.6v154.2M426.72 236.6v154.2"/>
<path fill="none" stroke="#fbae25" stroke-width="1.3" stroke-dasharray="1 4 2 13 1 7 1.5 9" stroke-dashoffset="22" d="M133.45 236.6v154.2M209.05 236.6v154.2M254.67 236.6v154.2"/>
<path fill="none" stroke="#ec353b" stroke-width="1.3" stroke-dasharray="1.5 12 1 5 1 21 2 7" stroke-dashoffset="21" d="M137.36 236.6v154.2M149.09 236.6v154.2M215.57 236.6v154.2M265.1 236.6v154.2M300.29 236.6v154.2"/>
<path fill="none" stroke="#fbae25" stroke-width="1.3" stroke-dasharray="1.5 12 1 5 1 21 2 7" stroke-dashoffset="16" d="M138.67 236.6v154.2M168.64 236.6v154.2M205.14 236.6v154.2M276.83 236.6v154.2M342 236.6v154.2"/>
<path fill="none" stroke="#2d77be" stroke-width="1.3" stroke-dasharray="1 4 2 13 1 7 1.5 9" stroke-dashoffset="12" d="M145.18 236.6v154.2M156.91 236.6v154.2M416.3 236.6v154.2"/>
<path fill="none" stroke="#c9c4b8" stroke-width="1.3" stroke-dasharray="1.5 6 1 11 2 4 1 17" stroke-dashoffset="21" d="M158.22 236.6v154.2M179.07 236.6v154.2M338.09 236.6v154.2M421.51 236.6v154.2"/>
<path fill="none" stroke="#4db65a" stroke-width="1.3" stroke-dasharray="1 3 1 8 3 11 1 6" stroke-dashoffset="8" d="M167.34 236.6v154.2M184.29 236.6v154.2M321.15 236.6v154.2M322.45 236.6v154.2"/>
<path fill="none" stroke="#4db65a" stroke-width="1.3" stroke-dasharray="1 4 2 13 1 7 1.5 9" stroke-dashoffset="6" d="M173.86 236.6v154.2M339.39 236.6v154.2M365.46 236.6v154.2M430.63 236.6v154.2"/>
<path fill="none" stroke="#ec353b" stroke-width="1.3" stroke-dasharray="2 9 1 3 1 16 1 5" stroke-dashoffset="8" d="M175.16 236.6v154.2M203.84 236.6v154.2M219.48 236.6v154.2M253.37 236.6v154.2M267.71 236.6v154.2M308.11 236.6v154.2M358.95 236.6v154.2M387.62 236.6v154.2"/>
<path fill="none" stroke="#c9c4b8" stroke-width="1.3" stroke-dasharray="1 3 1 8 3 11 1 6" stroke-dashoffset="20" d="M180.38 236.6v154.2M228.6 236.6v154.2M351.12 236.6v154.2"/>
<path fill="none" stroke="#ec353b" stroke-width="1.3" stroke-dasharray="1.5 6 1 11 2 4 1 17" stroke-dashoffset="8" d="M193.41 236.6v154.2"/>
<path fill="none" stroke="#4db65a" stroke-width="1.3" stroke-dasharray="1.5 12 1 5 1 21 2 7" stroke-dashoffset="29" d="M206.44 236.6v154.2M261.19 236.6v154.2M301.59 236.6v154.2"/>
<path fill="none" stroke="#fbae25" stroke-width="1.3" stroke-dasharray="1.5 6 1 11 2 4 1 17" stroke-dashoffset="6" d="M223.39 236.6v154.2M284.65 236.6v154.2M361.55 236.6v154.2"/>
<path fill="none" stroke="#4db65a" stroke-width="1.3" stroke-dasharray="1.5 6 1 11 2 4 1 17" stroke-dashoffset="6" d="M231.21 236.6v154.2"/>
<path fill="none" stroke="#4db65a" stroke-width="1.3" stroke-dasharray="2 9 1 3 1 16 1 5" stroke-dashoffset="26" d="M433.24 236.6v154.2"/>
</g>
</g>
<path d="M95 70.2H298" stroke="#e8333a" stroke-width="1.2" fill="none"/>
<g>
<rect x="485" y="29" width="635.5" height="361.8" fill="#b6babb"/>
<clipPath id="al2"><path d="M604.6 29L604.6 30.4L605.6 30.4L605.6 31.9L602.7 31.9L602.7 33.3L603.6 33.3L603.6 34.8L605.1 34.8L605.1 36.2L634.9 36.2L634.9 37.7L632.3 37.7L632.3 39.1L639.4 39.1L639.4 40.6L634.8 40.6L634.8 42L634.5 42L634.5 43.5L632.5 43.5L632.5 44.9L634.6 44.9L634.6 46.4L634.6 46.4L634.6 47.8L634.8 47.8L634.8 49.3L638 49.3L638 50.7L633.8 50.7L633.8 52.2L635.9 52.2L635.9 53.6L634.7 53.6L634.7 55.1L635.4 55.1L635.4 56.5L636.4 56.5L636.4 58L626.4 58L626.4 59.4L634.5 59.4L634.5 60.9L634.8 60.9L634.8 62.3L634.9 62.3L634.9 63.8L625.2 63.8L625.2 65.2L622.2 65.2L622.2 66.7L617.4 66.7L617.4 68.1L615 68.1L615 69.6L613.4 69.6L613.4 71L609.5 71L609.5 72.5L607.5 72.5L607.5 73.9L605.9 73.9L605.9 75.4L606 75.4L606 76.8L605.9 76.8L605.9 78.3L607.3 78.3L607.3 79.7L609.3 79.7L609.3 81.2L609.6 81.2L609.6 82.6L609.2 82.6L609.2 84.1L595.4 84.1L595.4 85.5L605.6 85.5L605.6 87L604.1 87L604.1 88.4L604.2 88.4L604.2 89.9L601.7 89.9L601.7 91.3L603 91.3L603 92.8L600.8 92.8L600.8 94.2L597.6 94.2L597.6 95.7L595.7 95.7L595.7 97.1L595 97.1L595 98.6L592.1 98.6L592.1 100L583.3 100L583.3 101.5L577.5 101.5L577.5 102.9L580.6 102.9L580.6 104.4L567.3 104.4L567.3 105.8L574.3 105.8L574.3 107.3L577.3 107.3L577.3 108.7L576.9 108.7L576.9 110.2L579.9 110.2L579.9 111.6L580.9 111.6L580.9 113.1L581.3 113.1L581.3 114.5L579.1 114.5L579.1 116L584 116L584 117.4L579 117.4L579 118.9L583.3 118.9L583.3 120.3L571.1 120.3L571.1 121.8L556.5 121.8L556.5 123.2L573.5 123.2L573.5 124.7L577 124.7L577 126.1L582.1 126.1L582.1 127.6L581.2 127.6L581.2 129L577.1 129L577.1 130.5L574.9 130.5L574.9 131.9L573.5 131.9L573.5 133.4L573.7 133.4L573.7 134.8L572.6 134.8L572.6 136.3L573.8 136.3L573.8 137.7L574.6 137.7L574.6 139.2L571.7 139.2L571.7 140.6L573.8 140.6L573.8 142.1L573.9 142.1L573.9 143.5L576 143.5L576 145L580.5 145L580.5 146.4L580.6 146.4L580.6 147.9L577.3 147.9L577.3 149.3L577.2 149.3L577.2 150.8L574.3 150.8L574.3 152.2L574.2 152.2L574.2 153.7L571.7 153.7L571.7 155.1L570.4 155.1L570.4 156.6L572.7 156.6L572.7 158L573.6 158L573.6 159.5L574.3 159.5L574.3 160.9L574.2 160.9L574.2 162.4L576.2 162.4L576.2 163.8L659.5 163.8L659.5 165.3L659.3 165.3L659.3 166.7L659.7 166.7L659.7 168.2L659.2 168.2L659.2 169.6L658.7 169.6L658.7 171.1L647.9 171.1L647.9 172.5L651.3 172.5L651.3 174L648.7 174L648.7 175.4L649 175.4L649 176.9L649.5 176.9L649.5 178.3L650.1 178.3L650.1 179.8L650.9 179.8L650.9 181.2L652.4 181.2L652.4 182.7L654.5 182.7L654.5 184.1L654.3 184.1L654.3 185.6L652.5 185.6L652.5 187L656.7 187L656.7 188.5L643.2 188.5L643.2 189.9L649.1 189.9L649.1 191.4L652.4 191.4L652.4 192.8L654 192.8L654 194.3L653.8 194.3L653.8 195.7L653.9 195.7L653.9 197.2L657 197.2L657 198.6L661 198.6L661 200.1L662.2 200.1L662.2 201.5L665.7 201.5L665.7 203L672 203L672 204.4L668.8 204.4L668.8 205.9L668.1 205.9L668.1 207.3L668.2 207.3L668.2 208.8L667.4 208.8L667.4 210.2L666.5 210.2L666.5 211.7L667.8 211.7L667.8 213.1L670.9 213.1L670.9 214.6L677.9 214.6L677.9 216L676.3 216L676.3 217.5L675.2 217.5L675.2 218.9L672.2 218.9L672.2 220.4L672.1 220.4L672.1 221.8L671.6 221.8L671.6 223.3L669.5 223.3L669.5 224.7L672 224.7L672 226.2L670.6 226.2L670.6 227.6L554.7 227.6L554.7 229.1L552.9 229.1L552.9 230.5L553.7 230.5L553.7 232L546.8 232L546.8 233.4L555.5 233.4L555.5 234.9L553.3 234.9L553.3 236.3L562.1 236.3L562.1 237.8L561.5 237.8L561.5 239.2L560.6 239.2L560.6 240.7L553.4 240.7L553.4 242.1L561.5 242.1L561.5 243.6L560.6 243.6L560.6 245L551.3 245L551.3 246.5L562.3 246.5L562.3 247.9L554.1 247.9L554.1 249.4L560.2 249.4L560.2 250.8L560.2 250.8L560.2 252.3L562.8 252.3L562.8 253.7L562.6 253.7L562.6 255.2L561.8 255.2L561.8 256.6L560.8 256.6L560.8 258.1L561.3 258.1L561.3 259.5L563.3 259.5L563.3 261L564.3 261L564.3 262.4L563.4 262.4L563.4 263.9L563.1 263.9L563.1 265.3L563.9 265.3L563.9 266.8L562.3 266.8L562.3 268.2L563.9 268.2L563.9 269.7L564.6 269.7L564.6 271.1L565.3 271.1L565.3 272.6L564.1 272.6L564.1 274L566.8 274L566.8 275.5L568.2 275.5L568.2 276.9L573.4 276.9L573.4 278.4L566.7 278.4L566.7 279.8L556.4 279.8L556.4 281.3L543.4 281.3L543.4 282.7L535.9 282.7L535.9 284.2L537.4 284.2L537.4 285.6L544.3 285.6L544.3 287.1L543.4 287.1L543.4 288.5L537.6 288.5L537.6 290L536 290L536 291.4L535.5 291.4L535.5 292.9L535.2 292.9L535.2 294.3L535.3 294.3L535.3 295.8L535.4 295.8L535.4 297.2L526.9 297.2L526.9 298.7L527.1 298.7L527.1 300.1L525.7 300.1L525.7 301.6L528 301.6L528 303L526.9 303L526.9 304.5L527.3 304.5L527.3 305.9L527.2 305.9L527.2 307.4L525.8 307.4L525.8 308.8L520.6 308.8L520.6 310.3L517.1 310.3L517.1 311.7L514.9 311.7L514.9 313.2L516.9 313.2L516.9 314.6L514.8 314.6L514.8 316.1L514.6 316.1L514.6 317.5L514.2 317.5L514.2 319L516.5 319L516.5 320.4L514.3 320.4L514.3 321.9L514.9 321.9L514.9 323.3L485.6 323.3L485.6 324.8L485.8 324.8L485.8 326.2L487.4 326.2L487.4 327.7L488.7 327.7L488.7 329.1L487.4 329.1L487.4 330.6L489.4 330.6L489.4 332L491.1 332L491.1 333.5L517 333.5L517 334.9L524.1 334.9L524.1 336.4L587.9 336.4L587.9 337.8L605.5 337.8L605.5 339.3L606.1 339.3L606.1 340.7L606.4 340.7L606.4 342.2L609.3 342.2L609.3 343.6L609.8 343.6L609.8 345.1L610.3 345.1L610.3 346.5L611 346.5L611 348L604.8 348L604.8 349.4L612.7 349.4L612.7 350.9L612.3 350.9L612.3 352.3L613.9 352.3L613.9 353.8L622.3 353.8L622.3 355.2L622.8 355.2L622.8 356.7L627 356.7L627 358.1L628 358.1L628 359.6L630.8 359.6L630.8 361L632.2 361L632.2 362.5L607.3 362.5L607.3 363.9L596.6 363.9L596.6 365.4L590 365.4L590 366.8L587.6 366.8L587.6 368.3L588.8 368.3L588.8 369.7L587.4 369.7L587.4 371.2L586.8 371.2L586.8 372.6L588 372.6L588 374.1L587.9 374.1L587.9 375.5L589.5 375.5L589.5 377L589.3 377L589.3 378.4L591.3 378.4L591.3 379.9L590.7 379.9L590.7 381.3L592.4 381.3L592.4 382.8L585.7 382.8L585.7 384.2L592 384.2L592 385.7L592.4 385.7L592.4 387.1L591.6 387.1L591.6 388.6L597.7 388.6L597.7 390L604.4 390L604.4 390.8L1023.3 390.8L1023.3 390L1026.9 390L1026.9 388.6L1024.6 388.6L1024.6 387.1L1021.7 387.1L1021.7 385.7L1023 385.7L1023 384.2L1024.7 384.2L1024.7 382.8L1029.2 382.8L1029.2 381.3L1028.4 381.3L1028.4 379.9L1026.7 379.9L1026.7 378.4L1023.9 378.4L1023.9 377L1026.2 377L1026.2 375.5L1024.8 375.5L1024.8 374.1L1026.2 374.1L1026.2 372.6L1025 372.6L1025 371.2L1027.5 371.2L1027.5 369.7L1027 369.7L1027 368.3L1026.4 368.3L1026.4 366.8L1036.6 366.8L1036.6 365.4L1056.8 365.4L1056.8 363.9L1063.1 363.9L1063.1 362.5L1068.6 362.5L1068.6 361L1071.7 361L1071.7 359.6L1065.6 359.6L1065.6 358.1L1069.3 358.1L1069.3 356.7L1059.4 356.7L1059.4 355.2L1057 355.2L1057 353.8L1057 353.8L1057 352.3L1060.2 352.3L1060.2 350.9L1053.5 350.9L1053.5 349.4L1040.4 349.4L1040.4 348L1039.7 348L1039.7 346.5L1034.7 346.5L1034.7 345.1L1038.7 345.1L1038.7 343.6L1040.7 343.6L1040.7 342.2L1038 342.2L1038 340.7L1037.1 340.7L1037.1 339.3L1038.3 339.3L1038.3 337.8L1035.9 337.8L1035.9 336.4L1018.6 336.4L1018.6 334.9L989.1 334.9L989.1 333.5L958.8 333.5L958.8 332L941.9 332L941.9 330.6L946.1 330.6L946.1 329.1L947.5 329.1L947.5 327.7L946.5 327.7L946.5 326.2L944.4 326.2L944.4 324.8L940.9 324.8L940.9 323.3L937.8 323.3L937.8 321.9L958 321.9L958 320.4L946.9 320.4L946.9 319L948.9 319L948.9 317.5L949.5 317.5L949.5 316.1L949.6 316.1L949.6 314.6L948.5 314.6L948.5 313.2L948.2 313.2L948.2 311.7L949.5 311.7L949.5 310.3L954.6 310.3L954.6 308.8L961.6 308.8L961.6 307.4L963.1 307.4L963.1 305.9L964.9 305.9L964.9 304.5L965.6 304.5L965.6 303L965.4 303L965.4 301.6L962.9 301.6L962.9 300.1L976.6 300.1L976.6 298.7L967 298.7L967 297.2L966.4 297.2L966.4 295.8L967.2 295.8L967.2 294.3L967.9 294.3L967.9 292.9L968.5 292.9L968.5 291.4L965 291.4L965 290L998.2 290L998.2 288.5L998.4 288.5L998.4 287.1L997.2 287.1L997.2 285.6L1000.3 285.6L1000.3 284.2L975 284.2L975 282.7L1002 282.7L1002 281.3L1001.1 281.3L1001.1 279.8L1004.6 279.8L1004.6 278.4L1010.3 278.4L1010.3 276.9L1004.4 276.9L1004.4 275.5L998.4 275.5L998.4 274L999.2 274L999.2 272.6L999.1 272.6L999.1 271.1L999 271.1L999 269.7L997.6 269.7L997.6 268.2L997.9 268.2L997.9 266.8L997.9 266.8L997.9 265.3L994.6 265.3L994.6 263.9L997.3 263.9L997.3 262.4L994.9 262.4L994.9 261L995.6 261L995.6 259.5L995.5 259.5L995.5 258.1L993.5 258.1L993.5 256.6L993.8 256.6L993.8 255.2L996.4 255.2L996.4 253.7L995.4 253.7L995.4 252.3L996.8 252.3L996.8 250.8L995.7 250.8L995.7 249.4L997.7 249.4L997.7 247.9L998.4 247.9L998.4 246.5L999 246.5L999 245L998.9 245L998.9 243.6L999.6 243.6L999.6 242.1L999.4 242.1L999.4 240.7L1000.5 240.7L1000.5 239.2L1000.5 239.2L1000.5 237.8L995 237.8L995 236.3L984.4 236.3L984.4 234.9L985.3 234.9L985.3 233.4L982.2 233.4L982.2 232L981.9 232L981.9 230.5L983.4 230.5L983.4 229.1L984.5 229.1L984.5 227.6L1093.3 227.6L1093.3 226.2L1098 226.2L1098 224.7L1103.2 224.7L1103.2 223.3L1103.5 223.3L1103.5 221.8L1106.1 221.8L1106.1 220.4L1109.5 220.4L1109.5 218.9L1115.6 218.9L1115.6 217.5L1118.8 217.5L1118.8 216L1117.9 216L1117.9 214.6L1118 214.6L1118 213.1L1116.4 213.1L1116.4 211.7L1112.5 211.7L1112.5 210.2L1110.8 210.2L1110.8 208.8L1108.9 208.8L1108.9 207.3L1108.6 207.3L1108.6 205.9L1105.7 205.9L1105.7 204.4L1106.2 204.4L1106.2 203L1103.8 203L1103.8 201.5L1099.8 201.5L1099.8 200.1L1093.1 200.1L1093.1 198.6L1088.5 198.6L1088.5 197.2L1086.5 197.2L1086.5 195.7L1099.3 195.7L1099.3 194.3L1088.8 194.3L1088.8 192.8L1091.3 192.8L1091.3 191.4L1091.5 191.4L1091.5 189.9L1090.1 189.9L1090.1 188.5L1090.7 188.5L1090.7 187L1091.3 187L1091.3 185.6L1089.5 185.6L1089.5 184.1L1090 184.1L1090 182.7L1086.5 182.7L1086.5 181.2L1081.4 181.2L1081.4 179.8L1085.5 179.8L1085.5 178.3L1084.7 178.3L1084.7 176.9L1080.3 176.9L1080.3 175.4L1081.3 175.4L1081.3 174L1083.8 174L1083.8 172.5L1087.3 172.5L1087.3 171.1L1088.4 171.1L1088.4 169.6L1090.1 169.6L1090.1 168.2L1087.7 168.2L1087.7 166.7L1086.4 166.7L1086.4 165.3L1085.3 165.3L1085.3 163.8L992.8 163.8L992.8 162.4L997.6 162.4L997.6 160.9L1011.5 160.9L1011.5 159.5L1005.7 159.5L1005.7 158L1004 158L1004 156.6L1003.2 156.6L1003.2 155.1L1003.9 155.1L1003.9 153.7L1004.3 153.7L1004.3 152.2L1004.5 152.2L1004.5 150.8L1005.1 150.8L1005.1 149.3L1006.1 149.3L1006.1 147.9L1010.4 147.9L1010.4 146.4L1013.3 146.4L1013.3 145L1026.2 145L1026.2 143.5L1014.4 143.5L1014.4 142.1L1013.9 142.1L1013.9 140.6L1010 140.6L1010 139.2L1008.7 139.2L1008.7 137.7L1007.2 137.7L1007.2 136.3L1006.3 136.3L1006.3 134.8L1005.9 134.8L1005.9 133.4L1005.1 133.4L1005.1 131.9L1007.5 131.9L1007.5 130.5L1011.8 130.5L1011.8 129L1012.3 129L1012.3 127.6L1016.7 127.6L1016.7 126.1L1019.5 126.1L1019.5 124.7L1005.8 124.7L1005.8 123.2L996.1 123.2L996.1 121.8L1005.2 121.8L1005.2 120.3L1013.6 120.3L1013.6 118.9L1014.5 118.9L1014.5 117.4L1017.8 117.4L1017.8 116L1016.1 116L1016.1 114.5L1016 114.5L1016 113.1L1005.8 113.1L1005.8 111.6L1005.1 111.6L1005.1 110.2L1005.8 110.2L1005.8 108.7L1005.4 108.7L1005.4 107.3L1003.9 107.3L1003.9 105.8L1002.8 105.8L1002.8 104.4L1007.5 104.4L1007.5 102.9L1015.8 102.9L1015.8 101.5L1025 101.5L1025 100L1030.1 100L1030.1 98.6L1032.6 98.6L1032.6 97.1L1035.7 97.1L1035.7 95.7L1034 95.7L1034 94.2L1034.1 94.2L1034.1 92.8L1036 92.8L1036 91.3L1037 91.3L1037 89.9L1035.6 89.9L1035.6 88.4L1036.7 88.4L1036.7 87L1038.3 87L1038.3 85.5L1051.7 85.5L1051.7 84.1L1041.9 84.1L1041.9 82.6L1042 82.6L1042 81.2L1039.7 81.2L1039.7 79.7L1039.8 79.7L1039.8 78.3L1041.3 78.3L1041.3 76.8L1040 76.8L1040 75.4L1038.8 75.4L1038.8 73.9L1043.2 73.9L1043.2 72.5L1046.9 72.5L1046.9 71L1046.5 71L1046.5 69.6L1048.4 69.6L1048.4 68.1L1050.3 68.1L1050.3 66.7L1055 66.7L1055 65.2L1051.7 65.2L1051.7 63.8L1067.2 63.8L1067.2 62.3L1068.8 62.3L1068.8 60.9L1069.7 60.9L1069.7 59.4L1067.9 59.4L1067.9 58L1069.2 58L1069.2 56.5L1077.7 56.5L1077.7 55.1L1068 55.1L1068 53.6L1067.5 53.6L1067.5 52.2L1068.3 52.2L1068.3 50.7L1068.7 50.7L1068.7 49.3L1077 49.3L1077 47.8L1067.4 47.8L1067.4 46.4L1068.8 46.4L1068.8 44.9L1068.3 44.9L1068.3 43.5L1067.1 43.5L1067.1 42L1067.7 42L1067.7 40.6L1067 40.6L1067 39.1L1066.7 39.1L1066.7 37.7L1067.1 37.7L1067.1 36.2L1036.9 36.2L1036.9 34.8L1037 34.8L1037 33.3L1036 33.3L1036 31.9L1037.5 31.9L1037.5 30.4L1036 30.4L1036 29z"/></clipPath>
<g clip-path="url(#al2)">
<rect x="485" y="29" width="635.5" height="207.8" fill="#908d61"/>
<path fill="#2d77be" d="M485 29h1.06v207.8h-1.06zM489.25 29h1.06v207.8h-1.06zM494.56 29h1.06v207.8h-1.06zM498.82 29h2.13v207.8h-2.13zM506.25 29h1.06v207.8h-1.06zM510.51 29h2.13v207.8h-2.13zM514.76 29h1.06v207.8h-1.06zM519.01 29h2.13v207.8h-2.13zM537.07 29h2.13v207.8h-2.13zM541.32 29h3.19v207.8h-3.19zM553.01 29h1.06v207.8h-1.06zM566.83 29h2.13v207.8h-2.13zM572.14 29h1.06v207.8h-1.06zM575.33 29h1.06v207.8h-1.06zM577.46 29h2.13v207.8h-2.13zM587.02 29h1.06v207.8h-1.06zM589.15 29h1.06v207.8h-1.06zM596.58 29h1.06v207.8h-1.06zM599.77 29h2.13v207.8h-2.13zM609.34 29h1.06v207.8h-1.06zM614.65 29h3.19v207.8h-3.19zM625.28 29h1.06v207.8h-1.06zM628.47 29h3.19v207.8h-3.19zM634.84 29h1.06v207.8h-1.06zM640.16 29h1.06v207.8h-1.06zM644.41 29h2.13v207.8h-2.13zM651.85 29h1.06v207.8h-1.06zM656.1 29h2.13v207.8h-2.13zM660.35 29h1.06v207.8h-1.06zM664.6 29h2.13v207.8h-2.13zM682.66 29h2.13v207.8h-2.13zM686.91 29h3.19v207.8h-3.19zM698.6 29h1.06v207.8h-1.06zM712.42 29h2.13v207.8h-2.13zM717.73 29h1.06v207.8h-1.06zM720.92 29h1.06v207.8h-1.06zM723.05 29h2.13v207.8h-2.13zM732.61 29h1.06v207.8h-1.06zM734.74 29h1.06v207.8h-1.06zM742.18 29h1.06v207.8h-1.06zM745.36 29h2.13v207.8h-2.13zM754.93 29h1.06v207.8h-1.06zM760.24 29h3.19v207.8h-3.19zM770.87 29h1.06v207.8h-1.06zM774.06 29h3.19v207.8h-3.19zM780.43 29h1.06v207.8h-1.06zM785.75 29h1.06v207.8h-1.06zM790 29h2.13v207.8h-2.13zM797.44 29h1.06v207.8h-1.06zM801.69 29h2.13v207.8h-2.13zM805.94 29h1.06v207.8h-1.06zM810.19 29h2.13v207.8h-2.13zM828.26 29h2.13v207.8h-2.13zM832.51 29h3.19v207.8h-3.19zM844.2 29h1.06v207.8h-1.06zM858.01 29h2.13v207.8h-2.13zM863.32 29h1.06v207.8h-1.06zM866.51 29h1.06v207.8h-1.06zM868.64 29h2.13v207.8h-2.13zM878.2 29h1.06v207.8h-1.06zM880.33 29h1.06v207.8h-1.06zM887.77 29h1.06v207.8h-1.06zM890.95 29h2.13v207.8h-2.13zM900.52 29h1.06v207.8h-1.06zM905.83 29h3.19v207.8h-3.19zM916.46 29h1.06v207.8h-1.06zM919.65 29h3.19v207.8h-3.19zM926.02 29h1.06v207.8h-1.06zM931.34 29h1.06v207.8h-1.06zM935.59 29h2.13v207.8h-2.13zM943.03 29h1.06v207.8h-1.06zM947.28 29h2.13v207.8h-2.13zM951.53 29h1.06v207.8h-1.06zM955.78 29h2.13v207.8h-2.13zM973.85 29h2.13v207.8h-2.13zM978.1 29h3.19v207.8h-3.19zM989.79 29h1.06v207.8h-1.06zM1003.6 29h2.13v207.8h-2.13zM1008.92 29h1.06v207.8h-1.06zM1012.1 29h1.06v207.8h-1.06zM1014.23 29h2.13v207.8h-2.13zM1023.79 29h1.06v207.8h-1.06zM1025.92 29h1.06v207.8h-1.06zM1033.36 29h1.06v207.8h-1.06zM1036.55 29h2.13v207.8h-2.13zM1046.11 29h1.06v207.8h-1.06zM1051.42 29h3.19v207.8h-3.19zM1062.05 29h1.06v207.8h-1.06zM1065.24 29h3.19v207.8h-3.19zM1071.62 29h1.06v207.8h-1.06zM1076.93 29h1.06v207.8h-1.06zM1081.18 29h2.13v207.8h-2.13zM1088.62 29h1.06v207.8h-1.06zM1092.87 29h2.13v207.8h-2.13zM1097.12 29h1.06v207.8h-1.06zM1101.37 29h2.13v207.8h-2.13zM1119.44 29h1.06v207.8h-1.06z"/>
<path fill="#fbae25" d="M486.06 29h1.06v207.8h-1.06zM491.38 29h2.13v207.8h-2.13zM495.63 29h1.06v207.8h-1.06zM505.19 29h1.06v207.8h-1.06zM507.32 29h2.13v207.8h-2.13zM515.82 29h3.19v207.8h-3.19zM525.38 29h2.13v207.8h-2.13zM531.76 29h2.13v207.8h-2.13zM540.26 29h1.06v207.8h-1.06zM546.64 29h3.19v207.8h-3.19zM555.14 29h2.13v207.8h-2.13zM558.33 29h1.06v207.8h-1.06zM571.08 29h1.06v207.8h-1.06zM576.39 29h1.06v207.8h-1.06zM582.77 29h2.13v207.8h-2.13zM585.96 29h1.06v207.8h-1.06zM588.08 29h1.06v207.8h-1.06zM593.4 29h3.19v207.8h-3.19zM598.71 29h1.06v207.8h-1.06zM605.09 29h2.13v207.8h-2.13zM610.4 29h1.06v207.8h-1.06zM612.53 29h1.06v207.8h-1.06zM618.9 29h1.06v207.8h-1.06zM631.65 29h1.06v207.8h-1.06zM636.97 29h2.13v207.8h-2.13zM641.22 29h1.06v207.8h-1.06zM650.78 29h1.06v207.8h-1.06zM652.91 29h2.13v207.8h-2.13zM661.41 29h3.19v207.8h-3.19zM670.97 29h2.13v207.8h-2.13zM677.35 29h2.13v207.8h-2.13zM685.85 29h1.06v207.8h-1.06zM692.23 29h3.19v207.8h-3.19zM700.73 29h2.13v207.8h-2.13zM703.92 29h1.06v207.8h-1.06zM716.67 29h1.06v207.8h-1.06zM721.98 29h1.06v207.8h-1.06zM728.36 29h2.13v207.8h-2.13zM731.55 29h1.06v207.8h-1.06zM733.67 29h1.06v207.8h-1.06zM738.99 29h3.19v207.8h-3.19zM744.3 29h1.06v207.8h-1.06zM750.68 29h2.13v207.8h-2.13zM755.99 29h1.06v207.8h-1.06zM758.12 29h1.06v207.8h-1.06zM764.49 29h1.06v207.8h-1.06zM777.24 29h1.06v207.8h-1.06zM782.56 29h2.13v207.8h-2.13zM786.81 29h1.06v207.8h-1.06zM796.37 29h1.06v207.8h-1.06zM798.5 29h2.13v207.8h-2.13zM807 29h3.19v207.8h-3.19zM816.57 29h2.13v207.8h-2.13zM822.94 29h2.13v207.8h-2.13zM831.44 29h1.06v207.8h-1.06zM837.82 29h3.19v207.8h-3.19zM846.32 29h2.13v207.8h-2.13zM849.51 29h1.06v207.8h-1.06zM862.26 29h1.06v207.8h-1.06zM867.58 29h1.06v207.8h-1.06zM873.95 29h2.13v207.8h-2.13zM877.14 29h1.06v207.8h-1.06zM879.27 29h1.06v207.8h-1.06zM884.58 29h3.19v207.8h-3.19zM889.89 29h1.06v207.8h-1.06zM896.27 29h2.13v207.8h-2.13zM901.58 29h1.06v207.8h-1.06zM903.71 29h1.06v207.8h-1.06zM910.08 29h1.06v207.8h-1.06zM922.84 29h1.06v207.8h-1.06zM928.15 29h2.13v207.8h-2.13zM932.4 29h1.06v207.8h-1.06zM941.96 29h1.06v207.8h-1.06zM944.09 29h2.13v207.8h-2.13zM952.59 29h3.19v207.8h-3.19zM962.16 29h2.13v207.8h-2.13zM968.53 29h2.13v207.8h-2.13zM977.03 29h1.06v207.8h-1.06zM983.41 29h3.19v207.8h-3.19zM991.91 29h2.13v207.8h-2.13zM995.1 29h1.06v207.8h-1.06zM1007.85 29h1.06v207.8h-1.06zM1013.17 29h1.06v207.8h-1.06zM1019.54 29h2.13v207.8h-2.13zM1022.73 29h1.06v207.8h-1.06zM1024.86 29h1.06v207.8h-1.06zM1030.17 29h3.19v207.8h-3.19zM1035.48 29h1.06v207.8h-1.06zM1041.86 29h2.13v207.8h-2.13zM1047.17 29h1.06v207.8h-1.06zM1049.3 29h1.06v207.8h-1.06zM1055.67 29h1.06v207.8h-1.06zM1068.43 29h1.06v207.8h-1.06zM1073.74 29h2.13v207.8h-2.13zM1077.99 29h1.06v207.8h-1.06zM1087.56 29h1.06v207.8h-1.06zM1089.68 29h2.13v207.8h-2.13zM1098.18 29h3.19v207.8h-3.19zM1107.75 29h2.13v207.8h-2.13zM1114.12 29h2.13v207.8h-2.13z"/>
<path fill="#4db65a" d="M487.13 29h2.13v207.8h-2.13zM493.5 29h1.06v207.8h-1.06zM496.69 29h2.13v207.8h-2.13zM500.94 29h1.06v207.8h-1.06zM509.44 29h1.06v207.8h-1.06zM513.69 29h1.06v207.8h-1.06zM522.19 29h3.19v207.8h-3.19zM533.88 29h2.13v207.8h-2.13zM549.83 29h1.06v207.8h-1.06zM551.95 29h1.06v207.8h-1.06zM554.08 29h1.06v207.8h-1.06zM557.26 29h1.06v207.8h-1.06zM560.45 29h1.06v207.8h-1.06zM562.58 29h4.25v207.8h-4.25zM568.95 29h2.13v207.8h-2.13zM580.64 29h2.13v207.8h-2.13zM590.21 29h3.19v207.8h-3.19zM597.65 29h1.06v207.8h-1.06zM601.9 29h3.19v207.8h-3.19zM611.46 29h1.06v207.8h-1.06zM617.84 29h1.06v207.8h-1.06zM619.96 29h3.19v207.8h-3.19zM626.34 29h2.13v207.8h-2.13zM632.72 29h2.13v207.8h-2.13zM639.09 29h1.06v207.8h-1.06zM642.28 29h2.13v207.8h-2.13zM646.53 29h1.06v207.8h-1.06zM655.03 29h1.06v207.8h-1.06zM659.28 29h1.06v207.8h-1.06zM667.79 29h3.19v207.8h-3.19zM679.48 29h2.13v207.8h-2.13zM695.42 29h1.06v207.8h-1.06zM697.54 29h1.06v207.8h-1.06zM699.67 29h1.06v207.8h-1.06zM702.86 29h1.06v207.8h-1.06zM706.04 29h1.06v207.8h-1.06zM708.17 29h4.25v207.8h-4.25zM714.55 29h2.13v207.8h-2.13zM726.23 29h2.13v207.8h-2.13zM735.8 29h3.19v207.8h-3.19zM743.24 29h1.06v207.8h-1.06zM747.49 29h3.19v207.8h-3.19zM757.05 29h1.06v207.8h-1.06zM763.43 29h1.06v207.8h-1.06zM765.56 29h3.19v207.8h-3.19zM771.93 29h2.13v207.8h-2.13zM778.31 29h2.13v207.8h-2.13zM784.68 29h1.06v207.8h-1.06zM787.87 29h2.13v207.8h-2.13zM792.12 29h1.06v207.8h-1.06zM800.62 29h1.06v207.8h-1.06zM804.88 29h1.06v207.8h-1.06zM813.38 29h3.19v207.8h-3.19zM825.07 29h2.13v207.8h-2.13zM841.01 29h1.06v207.8h-1.06zM843.13 29h1.06v207.8h-1.06zM845.26 29h1.06v207.8h-1.06zM848.45 29h1.06v207.8h-1.06zM851.63 29h1.06v207.8h-1.06zM853.76 29h4.25v207.8h-4.25zM860.14 29h2.13v207.8h-2.13zM871.83 29h2.13v207.8h-2.13zM881.39 29h3.19v207.8h-3.19zM888.83 29h1.06v207.8h-1.06zM893.08 29h3.19v207.8h-3.19zM902.64 29h1.06v207.8h-1.06zM909.02 29h1.06v207.8h-1.06zM911.15 29h3.19v207.8h-3.19zM917.52 29h2.13v207.8h-2.13zM923.9 29h2.13v207.8h-2.13zM930.28 29h1.06v207.8h-1.06zM933.46 29h2.13v207.8h-2.13zM937.71 29h1.06v207.8h-1.06zM946.22 29h1.06v207.8h-1.06zM950.47 29h1.06v207.8h-1.06zM958.97 29h3.19v207.8h-3.19zM970.66 29h2.13v207.8h-2.13zM986.6 29h1.06v207.8h-1.06zM988.72 29h1.06v207.8h-1.06zM990.85 29h1.06v207.8h-1.06zM994.04 29h1.06v207.8h-1.06zM997.23 29h1.06v207.8h-1.06zM999.35 29h4.25v207.8h-4.25zM1005.73 29h2.13v207.8h-2.13zM1017.42 29h2.13v207.8h-2.13zM1026.98 29h3.19v207.8h-3.19zM1034.42 29h1.06v207.8h-1.06zM1038.67 29h3.19v207.8h-3.19zM1048.24 29h1.06v207.8h-1.06zM1054.61 29h1.06v207.8h-1.06zM1056.74 29h3.19v207.8h-3.19zM1063.11 29h2.13v207.8h-2.13zM1069.49 29h2.13v207.8h-2.13zM1075.87 29h1.06v207.8h-1.06zM1079.05 29h2.13v207.8h-2.13zM1083.31 29h1.06v207.8h-1.06zM1091.81 29h1.06v207.8h-1.06zM1096.06 29h1.06v207.8h-1.06zM1104.56 29h3.19v207.8h-3.19zM1116.25 29h2.13v207.8h-2.13z"/>
<path fill="#ec353b" d="M490.31 29h1.06v207.8h-1.06zM502 29h3.19v207.8h-3.19zM512.63 29h1.06v207.8h-1.06zM521.13 29h1.06v207.8h-1.06zM527.51 29h4.25v207.8h-4.25zM539.2 29h1.06v207.8h-1.06zM544.51 29h2.13v207.8h-2.13zM550.89 29h1.06v207.8h-1.06zM559.39 29h1.06v207.8h-1.06zM561.52 29h1.06v207.8h-1.06zM573.2 29h2.13v207.8h-2.13zM579.58 29h1.06v207.8h-1.06zM607.21 29h2.13v207.8h-2.13zM613.59 29h1.06v207.8h-1.06zM623.15 29h2.13v207.8h-2.13zM635.9 29h1.06v207.8h-1.06zM647.59 29h3.19v207.8h-3.19zM658.22 29h1.06v207.8h-1.06zM666.72 29h1.06v207.8h-1.06zM673.1 29h4.25v207.8h-4.25zM684.79 29h1.06v207.8h-1.06zM690.1 29h2.13v207.8h-2.13zM696.48 29h1.06v207.8h-1.06zM704.98 29h1.06v207.8h-1.06zM707.11 29h1.06v207.8h-1.06zM718.8 29h2.13v207.8h-2.13zM725.17 29h1.06v207.8h-1.06zM752.8 29h2.13v207.8h-2.13zM759.18 29h1.06v207.8h-1.06zM768.74 29h2.13v207.8h-2.13zM781.5 29h1.06v207.8h-1.06zM793.19 29h3.19v207.8h-3.19zM803.81 29h1.06v207.8h-1.06zM812.31 29h1.06v207.8h-1.06zM818.69 29h4.25v207.8h-4.25zM830.38 29h1.06v207.8h-1.06zM835.69 29h2.13v207.8h-2.13zM842.07 29h1.06v207.8h-1.06zM850.57 29h1.06v207.8h-1.06zM852.7 29h1.06v207.8h-1.06zM864.39 29h2.13v207.8h-2.13zM870.76 29h1.06v207.8h-1.06zM898.39 29h2.13v207.8h-2.13zM904.77 29h1.06v207.8h-1.06zM914.33 29h2.13v207.8h-2.13zM927.09 29h1.06v207.8h-1.06zM938.78 29h3.19v207.8h-3.19zM949.4 29h1.06v207.8h-1.06zM957.91 29h1.06v207.8h-1.06zM964.28 29h4.25v207.8h-4.25zM975.97 29h1.06v207.8h-1.06zM981.29 29h2.13v207.8h-2.13zM987.66 29h1.06v207.8h-1.06zM996.16 29h1.06v207.8h-1.06zM998.29 29h1.06v207.8h-1.06zM1009.98 29h2.13v207.8h-2.13zM1016.35 29h1.06v207.8h-1.06zM1043.98 29h2.13v207.8h-2.13zM1050.36 29h1.06v207.8h-1.06zM1059.93 29h2.13v207.8h-2.13zM1072.68 29h1.06v207.8h-1.06zM1084.37 29h3.19v207.8h-3.19zM1094.99 29h1.06v207.8h-1.06zM1103.5 29h1.06v207.8h-1.06zM1109.87 29h4.25v207.8h-4.25z"/>
<path fill="#c4c0b4" d="M536.01 29h1.06v207.8h-1.06zM584.89 29h1.06v207.8h-1.06zM681.6 29h1.06v207.8h-1.06zM730.49 29h1.06v207.8h-1.06zM827.19 29h1.06v207.8h-1.06zM876.08 29h1.06v207.8h-1.06zM972.78 29h1.06v207.8h-1.06zM1021.67 29h1.06v207.8h-1.06zM1118.37 29h1.06v207.8h-1.06z"/>
<path fill="none" stroke="#ec353b" stroke-width="1.06" stroke-dasharray="1 4 2 13 1 7 1.5 9" stroke-dashoffset="3" d="M486.59 29v207.8M488.72 29v207.8M508.91 29v207.8M617.31 29v207.8M779.9 29v207.8M841.54 29v207.8M857.48 29v207.8M1032.83 29v207.8"/>
<path fill="none" stroke="#4db65a" stroke-width="1.06" stroke-dasharray="1 3 1 8 3 11 1 6" stroke-dashoffset="26" d="M491.91 29v207.8M516.35 29v207.8M653.44 29v207.8M784.15 29v207.8M812.85 29v207.8M836.23 29v207.8M1073.21 29v207.8"/>
<path fill="none" stroke="#ec353b" stroke-width="1.06" stroke-dasharray="2 9 1 3 1 16 1 5" stroke-dashoffset="20" d="M494.03 29v207.8M522.73 29v207.8M670.44 29v207.8M712.95 29v207.8M843.66 29v207.8M862.79 29v207.8M973.31 29v207.8M977.57 29v207.8M1098.71 29v207.8"/>
<path fill="none" stroke="#fbae25" stroke-width="1.06" stroke-dasharray="2 9 1 3 1 16 1 5" stroke-dashoffset="13" d="M495.1 29v207.8M669.38 29v207.8M821.35 29v207.8M872.36 29v207.8M1058.33 29v207.8M1106.15 29v207.8"/>
<path fill="none" stroke="#c9c4b8" stroke-width="1.06" stroke-dasharray="1 3 1 8 3 11 1 6" stroke-dashoffset="29" d="M497.22 29v207.8M1079.59 29v207.8"/>
<path fill="none" stroke="#fbae25" stroke-width="1.06" stroke-dasharray="1 3 1 8 3 11 1 6" stroke-dashoffset="26" d="M498.28 29v207.8M562.05 29v207.8M649.19 29v207.8M699.14 29v207.8M748.02 29v207.8M794.78 29v207.8M1034.95 29v207.8M1051.96 29v207.8M1062.58 29v207.8M1093.4 29v207.8"/>
<path fill="none" stroke="#2d77be" stroke-width="1.06" stroke-dasharray="1.5 12 1 5 1 21 2 7" stroke-dashoffset="4" d="M509.97 29v207.8M622.62 29v207.8M728.89 29v207.8M882.98 29v207.8"/>
<path fill="none" stroke="#fbae25" stroke-width="1.06" stroke-dasharray="1 4 2 13 1 7 1.5 9" stroke-dashoffset="25" d="M514.22 29v207.8M590.74 29v207.8M658.75 29v207.8M675.76 29v207.8M700.2 29v207.8M980.75 29v207.8M990.32 29v207.8M1027.51 29v207.8"/>
<path fill="none" stroke="#c9c4b8" stroke-width="1.06" stroke-dasharray="1 4 2 13 1 7 1.5 9" stroke-dashoffset="26" d="M520.6 29v207.8M671.51 29v207.8M752.27 29v207.8M898.93 29v207.8"/>
<path fill="none" stroke="#c9c4b8" stroke-width="1.06" stroke-dasharray="2 9 1 3 1 16 1 5" stroke-dashoffset="6" d="M521.66 29v207.8M698.07 29v207.8M732.08 29v207.8M736.33 29v207.8M1102.97 29v207.8"/>
<path fill="none" stroke="#2d77be" stroke-width="1.06" stroke-dasharray="1.5 6 1 11 2 4 1 17" stroke-dashoffset="14" d="M531.23 29v207.8M1042.39 29v207.8"/>
<path fill="none" stroke="#ec353b" stroke-width="1.06" stroke-dasharray="1.5 6 1 11 2 4 1 17" stroke-dashoffset="4" d="M534.42 29v207.8M588.61 29v207.8M811.78 29v207.8M845.79 29v207.8M1070.02 29v207.8M1081.71 29v207.8M1094.46 29v207.8"/>
<path fill="none" stroke="#ec353b" stroke-width="1.06" stroke-dasharray="1 3 1 8 3 11 1 6" stroke-dashoffset="0" d="M535.48 29v207.8M541.85 29v207.8M639.62 29v207.8M668.32 29v207.8M763.96 29v207.8M776.71 29v207.8M885.11 29v207.8M960.56 29v207.8"/>
<path fill="none" stroke="#fbae25" stroke-width="1.06" stroke-dasharray="1.5 12 1 5 1 21 2 7" stroke-dashoffset="29" d="M538.67 29v207.8M723.58 29v207.8M854.29 29v207.8M909.55 29v207.8M916.99 29v207.8M1054.08 29v207.8"/>
<path fill="none" stroke="#4db65a" stroke-width="1.06" stroke-dasharray="1.5 12 1 5 1 21 2 7" stroke-dashoffset="5" d="M549.29 29v207.8M558.86 29v207.8M869.17 29v207.8M969.06 29v207.8"/>
<path fill="none" stroke="#ec353b" stroke-width="1.06" stroke-dasharray="1.5 12 1 5 1 21 2 7" stroke-dashoffset="26" d="M554.61 29v207.8M642.81 29v207.8M727.83 29v207.8M803.28 29v207.8M850.04 29v207.8M868.11 29v207.8M925.49 29v207.8M971.19 29v207.8M1118.91 29v207.8"/>
<path fill="none" stroke="#2d77be" stroke-width="1.06" stroke-dasharray="1 3 1 8 3 11 1 6" stroke-dashoffset="28" d="M557.8 29v207.8M693.82 29v207.8M726.77 29v207.8M814.97 29v207.8M886.17 29v207.8M913.8 29v207.8M995.63 29v207.8M1022.2 29v207.8M1056.21 29v207.8"/>
<path fill="none" stroke="#c9c4b8" stroke-width="1.06" stroke-dasharray="1.5 12 1 5 1 21 2 7" stroke-dashoffset="25" d="M597.12 29v207.8M707.64 29v207.8M1025.39 29v207.8M1048.77 29v207.8"/>
<path fill="none" stroke="#4db65a" stroke-width="1.06" stroke-dasharray="1 4 2 13 1 7 1.5 9" stroke-dashoffset="8" d="M609.87 29v207.8M775.65 29v207.8M827.72 29v207.8M847.92 29v207.8M931.87 29v207.8M1030.7 29v207.8"/>
<path fill="none" stroke="#2d77be" stroke-width="1.06" stroke-dasharray="1 4 2 13 1 7 1.5 9" stroke-dashoffset="19" d="M624.75 29v207.8M805.41 29v207.8M808.59 29v207.8M846.85 29v207.8M876.61 29v207.8M895.74 29v207.8M999.88 29v207.8M1000.95 29v207.8"/>
<path fill="none" stroke="#4db65a" stroke-width="1.06" stroke-dasharray="2 9 1 3 1 16 1 5" stroke-dashoffset="21" d="M718.26 29v207.8"/>
<path fill="none" stroke="#c9c4b8" stroke-width="1.06" stroke-dasharray="1.5 6 1 11 2 4 1 17" stroke-dashoffset="8" d="M739.52 29v207.8M957.37 29v207.8M1076.4 29v207.8M1077.46 29v207.8"/>
<path fill="none" stroke="#2d77be" stroke-width="1.06" stroke-dasharray="2 9 1 3 1 16 1 5" stroke-dashoffset="23" d="M765.02 29v207.8M919.12 29v207.8M945.68 29v207.8M985 29v207.8M991.38 29v207.8M1059.39 29v207.8"/>
<path fill="none" stroke="#fbae25" stroke-width="1.06" stroke-dasharray="1.5 6 1 11 2 4 1 17" stroke-dashoffset="8" d="M774.59 29v207.8M790.53 29v207.8M938.25 29v207.8M943.56 29v207.8M1116.78 29v207.8"/>
<path fill="none" stroke="#4db65a" stroke-width="1.06" stroke-dasharray="1.5 6 1 11 2 4 1 17" stroke-dashoffset="24" d="M804.34 29v207.8M817.1 29v207.8M1046.64 29v207.8M1091.28 29v207.8"/>
<rect x="485" y="236.8" width="635.5" height="154" fill="#a57660"/>
<path fill="#4db65a" d="M485 236.8h1.06v154h-1.06zM494.56 236.8h1.06v154h-1.06zM509.44 236.8h1.06v154h-1.06zM511.57 236.8h1.06v154h-1.06zM520.07 236.8h1.06v154h-1.06zM537.07 236.8h2.13v154h-2.13zM554.08 236.8h2.13v154h-2.13zM571.08 236.8h1.06v154h-1.06zM575.33 236.8h2.13v154h-2.13zM589.15 236.8h1.06v154h-1.06zM596.58 236.8h3.19v154h-3.19zM616.78 236.8h1.06v154h-1.06zM630.59 236.8h1.06v154h-1.06zM640.16 236.8h1.06v154h-1.06zM655.03 236.8h1.06v154h-1.06zM657.16 236.8h1.06v154h-1.06zM665.66 236.8h1.06v154h-1.06zM682.66 236.8h2.13v154h-2.13zM699.67 236.8h2.13v154h-2.13zM716.67 236.8h1.06v154h-1.06zM720.92 236.8h2.13v154h-2.13zM734.74 236.8h1.06v154h-1.06zM742.18 236.8h3.19v154h-3.19zM762.37 236.8h1.06v154h-1.06zM776.18 236.8h1.06v154h-1.06zM785.75 236.8h1.06v154h-1.06zM800.62 236.8h1.06v154h-1.06zM802.75 236.8h1.06v154h-1.06zM811.25 236.8h1.06v154h-1.06zM828.26 236.8h2.13v154h-2.13zM845.26 236.8h2.13v154h-2.13zM862.26 236.8h1.06v154h-1.06zM866.51 236.8h2.13v154h-2.13zM880.33 236.8h1.06v154h-1.06zM887.77 236.8h3.19v154h-3.19zM907.96 236.8h1.06v154h-1.06zM921.77 236.8h1.06v154h-1.06zM931.34 236.8h1.06v154h-1.06zM946.22 236.8h1.06v154h-1.06zM948.34 236.8h1.06v154h-1.06zM956.84 236.8h1.06v154h-1.06zM973.85 236.8h2.13v154h-2.13zM990.85 236.8h2.13v154h-2.13zM1007.85 236.8h1.06v154h-1.06zM1012.1 236.8h2.13v154h-2.13zM1025.92 236.8h1.06v154h-1.06zM1033.36 236.8h3.19v154h-3.19zM1053.55 236.8h1.06v154h-1.06zM1067.36 236.8h1.06v154h-1.06zM1076.93 236.8h1.06v154h-1.06zM1091.81 236.8h1.06v154h-1.06zM1093.93 236.8h1.06v154h-1.06zM1102.43 236.8h1.06v154h-1.06zM1119.44 236.8h1.06v154h-1.06z"/>
<path fill="#fbae25" d="M486.06 236.8h1.06v154h-1.06zM489.25 236.8h1.06v154h-1.06zM495.63 236.8h4.25v154h-4.25zM508.38 236.8h1.06v154h-1.06zM517.94 236.8h2.13v154h-2.13zM521.13 236.8h1.06v154h-1.06zM524.32 236.8h2.13v154h-2.13zM541.32 236.8h4.25v154h-4.25zM547.7 236.8h2.13v154h-2.13zM553.01 236.8h1.06v154h-1.06zM560.45 236.8h2.13v154h-2.13zM572.14 236.8h1.06v154h-1.06zM583.83 236.8h1.06v154h-1.06zM591.27 236.8h1.06v154h-1.06zM600.84 236.8h1.06v154h-1.06zM602.96 236.8h3.19v154h-3.19zM611.46 236.8h1.06v154h-1.06zM614.65 236.8h1.06v154h-1.06zM617.84 236.8h1.06v154h-1.06zM627.4 236.8h2.13v154h-2.13zM631.65 236.8h1.06v154h-1.06zM634.84 236.8h1.06v154h-1.06zM641.22 236.8h4.25v154h-4.25zM653.97 236.8h1.06v154h-1.06zM663.54 236.8h2.13v154h-2.13zM666.72 236.8h1.06v154h-1.06zM669.91 236.8h2.13v154h-2.13zM686.91 236.8h4.25v154h-4.25zM693.29 236.8h2.13v154h-2.13zM698.6 236.8h1.06v154h-1.06zM706.04 236.8h2.13v154h-2.13zM717.73 236.8h1.06v154h-1.06zM729.42 236.8h1.06v154h-1.06zM736.86 236.8h1.06v154h-1.06zM746.43 236.8h1.06v154h-1.06zM748.55 236.8h3.19v154h-3.19zM757.05 236.8h1.06v154h-1.06zM760.24 236.8h1.06v154h-1.06zM763.43 236.8h1.06v154h-1.06zM772.99 236.8h2.13v154h-2.13zM777.24 236.8h1.06v154h-1.06zM780.43 236.8h1.06v154h-1.06zM786.81 236.8h4.25v154h-4.25zM799.56 236.8h1.06v154h-1.06zM809.13 236.8h2.13v154h-2.13zM812.31 236.8h1.06v154h-1.06zM815.5 236.8h2.13v154h-2.13zM832.51 236.8h4.25v154h-4.25zM838.88 236.8h2.13v154h-2.13zM844.2 236.8h1.06v154h-1.06zM851.63 236.8h2.13v154h-2.13zM863.32 236.8h1.06v154h-1.06zM875.01 236.8h1.06v154h-1.06zM882.45 236.8h1.06v154h-1.06zM892.02 236.8h1.06v154h-1.06zM894.14 236.8h3.19v154h-3.19zM902.64 236.8h1.06v154h-1.06zM905.83 236.8h1.06v154h-1.06zM909.02 236.8h1.06v154h-1.06zM918.59 236.8h2.13v154h-2.13zM922.84 236.8h1.06v154h-1.06zM926.02 236.8h1.06v154h-1.06zM932.4 236.8h4.25v154h-4.25zM945.15 236.8h1.06v154h-1.06zM954.72 236.8h2.13v154h-2.13zM957.91 236.8h1.06v154h-1.06zM961.09 236.8h2.13v154h-2.13zM978.1 236.8h4.25v154h-4.25zM984.47 236.8h2.13v154h-2.13zM989.79 236.8h1.06v154h-1.06zM997.23 236.8h2.13v154h-2.13zM1008.92 236.8h1.06v154h-1.06zM1020.61 236.8h1.06v154h-1.06zM1028.04 236.8h1.06v154h-1.06zM1037.61 236.8h1.06v154h-1.06zM1039.73 236.8h3.19v154h-3.19zM1048.24 236.8h1.06v154h-1.06zM1051.42 236.8h1.06v154h-1.06zM1054.61 236.8h1.06v154h-1.06zM1064.18 236.8h2.13v154h-2.13zM1068.43 236.8h1.06v154h-1.06zM1071.62 236.8h1.06v154h-1.06zM1077.99 236.8h4.25v154h-4.25zM1090.74 236.8h1.06v154h-1.06zM1100.31 236.8h2.13v154h-2.13zM1103.5 236.8h1.06v154h-1.06zM1106.68 236.8h2.13v154h-2.13z"/>
<path fill="#ec353b" d="M487.13 236.8h2.13v154h-2.13zM492.44 236.8h2.13v154h-2.13zM502 236.8h1.06v154h-1.06zM504.13 236.8h2.13v154h-2.13zM507.32 236.8h1.06v154h-1.06zM510.51 236.8h1.06v154h-1.06zM512.63 236.8h3.19v154h-3.19zM526.45 236.8h3.19v154h-3.19zM530.7 236.8h3.19v154h-3.19zM534.95 236.8h1.06v154h-1.06zM539.2 236.8h1.06v154h-1.06zM546.64 236.8h1.06v154h-1.06zM551.95 236.8h1.06v154h-1.06zM556.2 236.8h2.13v154h-2.13zM559.39 236.8h1.06v154h-1.06zM562.58 236.8h2.13v154h-2.13zM565.77 236.8h1.06v154h-1.06zM567.89 236.8h2.13v154h-2.13zM574.27 236.8h1.06v154h-1.06zM577.46 236.8h3.19v154h-3.19zM584.89 236.8h2.13v154h-2.13zM588.08 236.8h1.06v154h-1.06zM590.21 236.8h1.06v154h-1.06zM594.46 236.8h1.06v154h-1.06zM601.9 236.8h1.06v154h-1.06zM606.15 236.8h1.06v154h-1.06zM610.4 236.8h1.06v154h-1.06zM615.71 236.8h1.06v154h-1.06zM618.9 236.8h1.06v154h-1.06zM621.03 236.8h1.06v154h-1.06zM626.34 236.8h1.06v154h-1.06zM632.72 236.8h2.13v154h-2.13zM638.03 236.8h2.13v154h-2.13zM647.59 236.8h1.06v154h-1.06zM649.72 236.8h2.13v154h-2.13zM652.91 236.8h1.06v154h-1.06zM656.1 236.8h1.06v154h-1.06zM658.22 236.8h3.19v154h-3.19zM672.04 236.8h3.19v154h-3.19zM676.29 236.8h3.19v154h-3.19zM680.54 236.8h1.06v154h-1.06zM684.79 236.8h1.06v154h-1.06zM692.23 236.8h1.06v154h-1.06zM697.54 236.8h1.06v154h-1.06zM701.79 236.8h2.13v154h-2.13zM704.98 236.8h1.06v154h-1.06zM708.17 236.8h2.13v154h-2.13zM711.36 236.8h1.06v154h-1.06zM713.48 236.8h2.13v154h-2.13zM719.86 236.8h1.06v154h-1.06zM723.05 236.8h3.19v154h-3.19zM730.49 236.8h2.13v154h-2.13zM733.67 236.8h1.06v154h-1.06zM735.8 236.8h1.06v154h-1.06zM740.05 236.8h1.06v154h-1.06zM747.49 236.8h1.06v154h-1.06zM751.74 236.8h1.06v154h-1.06zM755.99 236.8h1.06v154h-1.06zM761.3 236.8h1.06v154h-1.06zM764.49 236.8h1.06v154h-1.06zM766.62 236.8h1.06v154h-1.06zM771.93 236.8h1.06v154h-1.06zM778.31 236.8h2.13v154h-2.13zM783.62 236.8h2.13v154h-2.13zM793.19 236.8h1.06v154h-1.06zM795.31 236.8h2.13v154h-2.13zM798.5 236.8h1.06v154h-1.06zM801.69 236.8h1.06v154h-1.06zM803.81 236.8h3.19v154h-3.19zM817.63 236.8h3.19v154h-3.19zM821.88 236.8h3.19v154h-3.19zM826.13 236.8h1.06v154h-1.06zM830.38 236.8h1.06v154h-1.06zM837.82 236.8h1.06v154h-1.06zM843.13 236.8h1.06v154h-1.06zM847.38 236.8h2.13v154h-2.13zM850.57 236.8h1.06v154h-1.06zM853.76 236.8h2.13v154h-2.13zM856.95 236.8h1.06v154h-1.06zM859.07 236.8h2.13v154h-2.13zM865.45 236.8h1.06v154h-1.06zM868.64 236.8h3.19v154h-3.19zM876.08 236.8h2.13v154h-2.13zM879.27 236.8h1.06v154h-1.06zM881.39 236.8h1.06v154h-1.06zM885.64 236.8h1.06v154h-1.06zM893.08 236.8h1.06v154h-1.06zM897.33 236.8h1.06v154h-1.06zM901.58 236.8h1.06v154h-1.06zM906.9 236.8h1.06v154h-1.06zM910.08 236.8h1.06v154h-1.06zM912.21 236.8h1.06v154h-1.06zM917.52 236.8h1.06v154h-1.06zM923.9 236.8h2.13v154h-2.13zM929.21 236.8h2.13v154h-2.13zM938.78 236.8h1.06v154h-1.06zM940.9 236.8h2.13v154h-2.13zM944.09 236.8h1.06v154h-1.06zM947.28 236.8h1.06v154h-1.06zM949.4 236.8h3.19v154h-3.19zM963.22 236.8h3.19v154h-3.19zM967.47 236.8h3.19v154h-3.19zM971.72 236.8h1.06v154h-1.06zM975.97 236.8h1.06v154h-1.06zM983.41 236.8h1.06v154h-1.06zM988.72 236.8h1.06v154h-1.06zM992.97 236.8h2.13v154h-2.13zM996.16 236.8h1.06v154h-1.06zM999.35 236.8h2.13v154h-2.13zM1002.54 236.8h1.06v154h-1.06zM1004.66 236.8h2.13v154h-2.13zM1011.04 236.8h1.06v154h-1.06zM1014.23 236.8h3.19v154h-3.19zM1021.67 236.8h2.13v154h-2.13zM1024.86 236.8h1.06v154h-1.06zM1026.98 236.8h1.06v154h-1.06zM1031.23 236.8h1.06v154h-1.06zM1038.67 236.8h1.06v154h-1.06zM1042.92 236.8h1.06v154h-1.06zM1047.17 236.8h1.06v154h-1.06zM1052.49 236.8h1.06v154h-1.06zM1055.67 236.8h1.06v154h-1.06zM1057.8 236.8h1.06v154h-1.06zM1063.11 236.8h1.06v154h-1.06zM1069.49 236.8h2.13v154h-2.13zM1074.8 236.8h2.13v154h-2.13zM1084.37 236.8h1.06v154h-1.06zM1086.49 236.8h2.13v154h-2.13zM1089.68 236.8h1.06v154h-1.06zM1092.87 236.8h1.06v154h-1.06zM1094.99 236.8h3.19v154h-3.19zM1108.81 236.8h3.19v154h-3.19zM1113.06 236.8h3.19v154h-3.19zM1117.31 236.8h1.06v154h-1.06z"/>
<path fill="#2d77be" d="M490.31 236.8h2.13v154h-2.13zM499.88 236.8h2.13v154h-2.13zM503.07 236.8h1.06v154h-1.06zM506.25 236.8h1.06v154h-1.06zM515.82 236.8h2.13v154h-2.13zM522.19 236.8h2.13v154h-2.13zM533.88 236.8h1.06v154h-1.06zM536.01 236.8h1.06v154h-1.06zM540.26 236.8h1.06v154h-1.06zM545.57 236.8h1.06v154h-1.06zM549.83 236.8h2.13v154h-2.13zM558.33 236.8h1.06v154h-1.06zM564.7 236.8h1.06v154h-1.06zM566.83 236.8h1.06v154h-1.06zM570.02 236.8h1.06v154h-1.06zM573.2 236.8h1.06v154h-1.06zM580.64 236.8h3.19v154h-3.19zM587.02 236.8h1.06v154h-1.06zM592.33 236.8h2.13v154h-2.13zM595.52 236.8h1.06v154h-1.06zM599.77 236.8h1.06v154h-1.06zM607.21 236.8h1.06v154h-1.06zM609.34 236.8h1.06v154h-1.06zM612.53 236.8h2.13v154h-2.13zM619.96 236.8h1.06v154h-1.06zM622.09 236.8h4.25v154h-4.25zM629.53 236.8h1.06v154h-1.06zM635.9 236.8h2.13v154h-2.13zM645.47 236.8h2.13v154h-2.13zM648.66 236.8h1.06v154h-1.06zM651.85 236.8h1.06v154h-1.06zM661.41 236.8h2.13v154h-2.13zM667.79 236.8h2.13v154h-2.13zM679.48 236.8h1.06v154h-1.06zM681.6 236.8h1.06v154h-1.06zM685.85 236.8h1.06v154h-1.06zM691.17 236.8h1.06v154h-1.06zM695.42 236.8h2.13v154h-2.13zM703.92 236.8h1.06v154h-1.06zM710.29 236.8h1.06v154h-1.06zM712.42 236.8h1.06v154h-1.06zM715.61 236.8h1.06v154h-1.06zM718.8 236.8h1.06v154h-1.06zM726.23 236.8h3.19v154h-3.19zM732.61 236.8h1.06v154h-1.06zM737.92 236.8h2.13v154h-2.13zM741.11 236.8h1.06v154h-1.06zM745.36 236.8h1.06v154h-1.06zM752.8 236.8h1.06v154h-1.06zM754.93 236.8h1.06v154h-1.06zM758.12 236.8h2.13v154h-2.13zM765.56 236.8h1.06v154h-1.06zM767.68 236.8h4.25v154h-4.25zM775.12 236.8h1.06v154h-1.06zM781.5 236.8h2.13v154h-2.13zM791.06 236.8h2.13v154h-2.13zM794.25 236.8h1.06v154h-1.06zM797.44 236.8h1.06v154h-1.06zM807 236.8h2.13v154h-2.13zM813.38 236.8h2.13v154h-2.13zM825.07 236.8h1.06v154h-1.06zM827.19 236.8h1.06v154h-1.06zM831.44 236.8h1.06v154h-1.06zM836.76 236.8h1.06v154h-1.06zM841.01 236.8h2.13v154h-2.13zM849.51 236.8h1.06v154h-1.06zM855.89 236.8h1.06v154h-1.06zM858.01 236.8h1.06v154h-1.06zM861.2 236.8h1.06v154h-1.06zM864.39 236.8h1.06v154h-1.06zM871.83 236.8h3.19v154h-3.19zM878.2 236.8h1.06v154h-1.06zM883.52 236.8h2.13v154h-2.13zM886.7 236.8h1.06v154h-1.06zM890.95 236.8h1.06v154h-1.06zM898.39 236.8h1.06v154h-1.06zM900.52 236.8h1.06v154h-1.06zM903.71 236.8h2.13v154h-2.13zM911.15 236.8h1.06v154h-1.06zM913.27 236.8h4.25v154h-4.25zM920.71 236.8h1.06v154h-1.06zM927.09 236.8h2.13v154h-2.13zM936.65 236.8h2.13v154h-2.13zM939.84 236.8h1.06v154h-1.06zM943.03 236.8h1.06v154h-1.06zM952.59 236.8h2.13v154h-2.13zM958.97 236.8h2.13v154h-2.13zM970.66 236.8h1.06v154h-1.06zM972.78 236.8h1.06v154h-1.06zM977.03 236.8h1.06v154h-1.06zM982.35 236.8h1.06v154h-1.06zM986.6 236.8h2.13v154h-2.13zM995.1 236.8h1.06v154h-1.06zM1001.48 236.8h1.06v154h-1.06zM1003.6 236.8h1.06v154h-1.06zM1006.79 236.8h1.06v154h-1.06zM1009.98 236.8h1.06v154h-1.06zM1017.42 236.8h3.19v154h-3.19zM1023.79 236.8h1.06v154h-1.06zM1029.11 236.8h2.13v154h-2.13zM1032.3 236.8h1.06v154h-1.06zM1036.55 236.8h1.06v154h-1.06zM1043.98 236.8h1.06v154h-1.06zM1046.11 236.8h1.06v154h-1.06zM1049.3 236.8h2.13v154h-2.13zM1056.74 236.8h1.06v154h-1.06zM1058.86 236.8h4.25v154h-4.25zM1066.3 236.8h1.06v154h-1.06zM1072.68 236.8h2.13v154h-2.13zM1082.24 236.8h2.13v154h-2.13zM1085.43 236.8h1.06v154h-1.06zM1088.62 236.8h1.06v154h-1.06zM1098.18 236.8h2.13v154h-2.13zM1104.56 236.8h2.13v154h-2.13zM1116.25 236.8h1.06v154h-1.06zM1118.37 236.8h1.06v154h-1.06z"/>
<path fill="#c4c0b4" d="M529.63 236.8h1.06v154h-1.06zM608.27 236.8h1.06v154h-1.06zM675.22 236.8h1.06v154h-1.06zM753.87 236.8h1.06v154h-1.06zM820.82 236.8h1.06v154h-1.06zM899.46 236.8h1.06v154h-1.06zM966.41 236.8h1.06v154h-1.06zM1045.05 236.8h1.06v154h-1.06zM1112 236.8h1.06v154h-1.06z"/>
<path fill="none" stroke="#fbae25" stroke-width="1.06" stroke-dasharray="1.5 6 1 11 2 4 1 17" stroke-dashoffset="16" d="M491.91 236.8v154M517.41 236.8v154M520.6 236.8v154M556.73 236.8v154M587.55 236.8v154M630.06 236.8v154M681.07 236.8v154M753.33 236.8v154M1003.07 236.8v154M1015.82 236.8v154M1025.39 236.8v154"/>
<path fill="none" stroke="#4db65a" stroke-width="1.06" stroke-dasharray="1 4 2 13 1 7 1.5 9" stroke-dashoffset="28" d="M492.97 236.8v154M586.49 236.8v154"/>
<path fill="none" stroke="#2d77be" stroke-width="1.06" stroke-dasharray="1.5 12 1 5 1 21 2 7" stroke-dashoffset="28" d="M498.28 236.8v154M589.68 236.8v154M610.93 236.8v154M626.87 236.8v154M692.76 236.8v154M820.28 236.8v154M961.62 236.8v154M972.25 236.8v154"/>
<path fill="none" stroke="#fbae25" stroke-width="1.06" stroke-dasharray="1.5 12 1 5 1 21 2 7" stroke-dashoffset="5" d="M500.41 236.8v154M1077.46 236.8v154"/>
<path fill="none" stroke="#fbae25" stroke-width="1.06" stroke-dasharray="2 9 1 3 1 16 1 5" stroke-dashoffset="28" d="M502.53 236.8v154M600.3 236.8v154M666.19 236.8v154M683.2 236.8v154M709.76 236.8v154M739.52 236.8v154M762.9 236.8v154M791.59 236.8v154M904.24 236.8v154M908.49 236.8v154M974.38 236.8v154M1010.51 236.8v154M1024.32 236.8v154M1032.83 236.8v154M1114.66 236.8v154"/>
<path fill="none" stroke="#fbae25" stroke-width="1.06" stroke-dasharray="1 3 1 8 3 11 1 6" stroke-dashoffset="12" d="M505.72 236.8v154M551.42 236.8v154M633.25 236.8v154M701.26 236.8v154M752.27 236.8v154M825.6 236.8v154M925.49 236.8v154M953.12 236.8v154M988.19 236.8v154M993.51 236.8v154M1099.78 236.8v154"/>
<path fill="none" stroke="#2d77be" stroke-width="1.06" stroke-dasharray="2 9 1 3 1 16 1 5" stroke-dashoffset="8" d="M514.22 236.8v154M549.29 236.8v154M564.17 236.8v154M653.44 236.8v154M1081.71 236.8v154"/>
<path fill="none" stroke="#2d77be" stroke-width="1.06" stroke-dasharray="1 4 2 13 1 7 1.5 9" stroke-dashoffset="28" d="M524.85 236.8v154M621.56 236.8v154M748.02 236.8v154M785.22 236.8v154M800.09 236.8v154M839.41 236.8v154M910.61 236.8v154M945.68 236.8v154"/>
<path fill="none" stroke="#ec353b" stroke-width="1.06" stroke-dasharray="1 3 1 8 3 11 1 6" stroke-dashoffset="8" d="M543.98 236.8v154M591.8 236.8v154M641.75 236.8v154M667.25 236.8v154M726.77 236.8v154M744.83 236.8v154M899.99 236.8v154"/>
<path fill="none" stroke="#ec353b" stroke-width="1.06" stroke-dasharray="1 4 2 13 1 7 1.5 9" stroke-dashoffset="4" d="M545.04 236.8v154M546.11 236.8v154M553.54 236.8v154M644.94 236.8v154M700.2 236.8v154M735.27 236.8v154M868.11 236.8v154"/>
<path fill="none" stroke="#c9c4b8" stroke-width="1.06" stroke-dasharray="1 3 1 8 3 11 1 6" stroke-dashoffset="11" d="M555.67 236.8v154M1028.58 236.8v154"/>
<path fill="none" stroke="#4db65a" stroke-width="1.06" stroke-dasharray="1 3 1 8 3 11 1 6" stroke-dashoffset="2" d="M558.86 236.8v154M582.24 236.8v154M585.43 236.8v154M618.37 236.8v154M736.33 236.8v154M761.84 236.8v154M767.15 236.8v154M810.72 236.8v154M892.55 236.8v154"/>
<path fill="none" stroke="#2d77be" stroke-width="1.06" stroke-dasharray="1 3 1 8 3 11 1 6" stroke-dashoffset="4" d="M562.05 236.8v154M631.12 236.8v154M639.62 236.8v154M642.81 236.8v154M779.9 236.8v154M789.47 236.8v154M1090.21 236.8v154"/>
<path fill="none" stroke="#2d77be" stroke-width="1.06" stroke-dasharray="1.5 6 1 11 2 4 1 17" stroke-dashoffset="2" d="M568.42 236.8v154M749.08 236.8v154M796.91 236.8v154"/>
<path fill="none" stroke="#fbae25" stroke-width="1.06" stroke-dasharray="1 4 2 13 1 7 1.5 9" stroke-dashoffset="7" d="M576.92 236.8v154M712.95 236.8v154M888.3 236.8v154M1067.9 236.8v154"/>
<path fill="none" stroke="#4db65a" stroke-width="1.06" stroke-dasharray="2 9 1 3 1 16 1 5" stroke-dashoffset="8" d="M581.18 236.8v154M672.57 236.8v154M703.39 236.8v154M861.73 236.8v154M903.18 236.8v154M1020.07 236.8v154M1078.52 236.8v154"/>
<path fill="none" stroke="#4db65a" stroke-width="1.06" stroke-dasharray="1.5 12 1 5 1 21 2 7" stroke-dashoffset="15" d="M584.36 236.8v154M651.31 236.8v154M830.91 236.8v154M855.35 236.8v154"/>
<path fill="none" stroke="#c9c4b8" stroke-width="1.06" stroke-dasharray="1 4 2 13 1 7 1.5 9" stroke-dashoffset="21" d="M593.93 236.8v154M829.85 236.8v154M990.32 236.8v154"/>
<path fill="none" stroke="#c9c4b8" stroke-width="1.06" stroke-dasharray="2 9 1 3 1 16 1 5" stroke-dashoffset="16" d="M594.99 236.8v154M655.56 236.8v154M844.73 236.8v154M854.29 236.8v154M982.88 236.8v154M1007.32 236.8v154"/>
<path fill="none" stroke="#ec353b" stroke-width="1.06" stroke-dasharray="1.5 6 1 11 2 4 1 17" stroke-dashoffset="15" d="M604.55 236.8v154M937.18 236.8v154M1021.14 236.8v154M1072.15 236.8v154M1082.77 236.8v154"/>
<path fill="none" stroke="#ec353b" stroke-width="1.06" stroke-dasharray="2 9 1 3 1 16 1 5" stroke-dashoffset="4" d="M665.13 236.8v154M717.2 236.8v154M759.71 236.8v154M1004.13 236.8v154M1074.27 236.8v154"/>
<path fill="none" stroke="#ec353b" stroke-width="1.06" stroke-dasharray="1.5 12 1 5 1 21 2 7" stroke-dashoffset="1" d="M699.14 236.8v154M758.65 236.8v154M794.78 236.8v154M920.18 236.8v154M979.69 236.8v154M985 236.8v154M1101.9 236.8v154"/>
<path fill="none" stroke="#4db65a" stroke-width="1.06" stroke-dasharray="1.5 6 1 11 2 4 1 17" stroke-dashoffset="28" d="M711.89 236.8v154M768.21 236.8v154M795.84 236.8v154M949.94 236.8v154M955.25 236.8v154M965.88 236.8v154M1019.01 236.8v154"/>
<path fill="none" stroke="#c9c4b8" stroke-width="1.06" stroke-dasharray="1.5 6 1 11 2 4 1 17" stroke-dashoffset="18" d="M906.36 236.8v154"/>
</g>
</g>
<path d="M956.5 347.1H1120.5" stroke="#e8333a" stroke-width="1.2" fill="none"/>
<g>
<rect x="1173" y="28.8" width="746.8" height="362.7" fill="#b6babb"/>
<clipPath id="al3"><path d="M1174.7 28.7L1174.7 30.2L1173.4 30.2L1173.4 31.6L1187.6 31.6L1187.6 33.1L1185 33.1L1185 34.5L1187.4 34.5L1187.4 36L1190.3 36L1190.3 37.4L1190.6 37.4L1190.6 38.9L1192.2 38.9L1192.2 40.3L1199.6 40.3L1199.6 41.8L1202.4 41.8L1202.4 43.2L1207.4 43.2L1207.4 44.7L1207.4 44.7L1207.4 46.1L1215.5 46.1L1215.5 47.6L1211 47.6L1211 49L1207.9 49L1207.9 50.5L1203 50.5L1203 51.9L1201.6 51.9L1201.6 53.4L1205.3 53.4L1205.3 54.8L1210 54.8L1210 56.3L1203.5 56.3L1203.5 57.7L1213 57.7L1213 59.2L1204.8 59.2L1204.8 60.6L1201.7 60.6L1201.7 62.1L1212.6 62.1L1212.6 63.5L1212.1 63.5L1212.1 65L1212.3 65L1212.3 66.4L1206 66.4L1206 67.9L1200.4 67.9L1200.4 69.3L1200.9 69.3L1200.9 70.8L1202.3 70.8L1202.3 72.2L1199.3 72.2L1199.3 73.7L1190.4 73.7L1190.4 75.1L1197.1 75.1L1197.1 76.6L1193.6 76.6L1193.6 78L1191.3 78L1191.3 79.5L1192.3 79.5L1192.3 80.9L1181.3 80.9L1181.3 82.4L1177 82.4L1177 83.8L1184.2 83.8L1184.2 85.3L1185.4 85.3L1185.4 86.7L1188 86.7L1188 88.2L1189.7 88.2L1189.7 89.6L1193.8 89.6L1193.8 91.1L1189.2 91.1L1189.2 92.5L1188.9 92.5L1188.9 94L1180.8 94L1180.8 95.4L1193.5 95.4L1193.5 96.9L1214 96.9L1214 98.3L1215.2 98.3L1215.2 99.8L1219.6 99.8L1219.6 101.2L1220.9 101.2L1220.9 102.7L1206.7 102.7L1206.7 104.1L1206.8 104.1L1206.8 105.6L1212.6 105.6L1212.6 107L1211.2 107L1211.2 108.5L1210.4 108.5L1210.4 109.9L1228.6 109.9L1228.6 111.4L1217.4 111.4L1217.4 112.8L1173 112.8L1173 114.3L1174.5 114.3L1174.5 115.7L1174.2 115.7L1174.2 117.2L1174.6 117.2L1174.6 118.6L1178.4 118.6L1178.4 120.1L1175.9 120.1L1175.9 121.5L1175.2 121.5L1175.2 123L1175 123L1175 124.4L1175 124.4L1175 125.9L1253.8 125.9L1253.8 127.3L1254 127.3L1254 128.8L1252.3 128.8L1252.3 130.2L1254 130.2L1254 131.7L1243.5 131.7L1243.5 133.1L1244.6 133.1L1244.6 134.6L1250.3 134.6L1250.3 136L1246.8 136L1246.8 137.5L1216.6 137.5L1216.6 138.9L1190.5 138.9L1190.5 140.4L1188.6 140.4L1188.6 141.8L1187.7 141.8L1187.7 143.3L1188.6 143.3L1188.6 144.7L1179.6 144.7L1179.6 146.2L1203.8 146.2L1203.8 147.6L1196.3 147.6L1196.3 149.1L1202.8 149.1L1202.8 150.5L1203.9 150.5L1203.9 152L1215.2 152L1215.2 153.4L1237.2 153.4L1237.2 154.9L1237.4 154.9L1237.4 156.3L1236.1 156.3L1236.1 157.8L1236 157.8L1236 159.2L1236.5 159.2L1236.5 160.7L1239.9 160.7L1239.9 162.1L1237.4 162.1L1237.4 163.6L1243.7 163.6L1243.7 165L1228.4 165L1228.4 166.5L1219.6 166.5L1219.6 167.9L1214.1 167.9L1214.1 169.4L1217.3 169.4L1217.3 170.8L1221.5 170.8L1221.5 172.3L1218.4 172.3L1218.4 173.7L1209.3 173.7L1209.3 175.2L1204.8 175.2L1204.8 176.6L1204 176.6L1204 178.1L1203.6 178.1L1203.6 179.5L1211.7 179.5L1211.7 181L1232.8 181L1232.8 182.4L1230.1 182.4L1230.1 183.9L1227.5 183.9L1227.5 185.3L1227.3 185.3L1227.3 186.8L1223.7 186.8L1223.7 188.2L1219.1 188.2L1219.1 189.7L1215.6 189.7L1215.6 191.1L1214.4 191.1L1214.4 192.6L1222.5 192.6L1222.5 194L1227.6 194L1227.6 195.5L1228.9 195.5L1228.9 196.9L1231.5 196.9L1231.5 198.4L1230.1 198.4L1230.1 199.8L1232.5 199.8L1232.5 201.3L1233 201.3L1233 202.7L1232.9 202.7L1232.9 204.2L1232.4 204.2L1232.4 205.6L1232.4 205.6L1232.4 207.1L1233.3 207.1L1233.3 208.5L1231.4 208.5L1231.4 210L1230.6 210L1230.6 211.4L1227 211.4L1227 212.9L1224.6 212.9L1224.6 214.3L1213.2 214.3L1213.2 215.8L1224.1 215.8L1224.1 217.2L1225.2 217.2L1225.2 218.7L1239.3 218.7L1239.3 220.1L1226.9 220.1L1226.9 221.6L1230 221.6L1230 223L1234 223L1234 224.5L1234.2 224.5L1234.2 225.9L1236.3 225.9L1236.3 227.4L1234.1 227.4L1234.1 228.8L1228.6 228.8L1228.6 230.3L1221.9 230.3L1221.9 231.7L1220.4 231.7L1220.4 233.2L1212.9 233.2L1212.9 234.6L1204.7 234.6L1204.7 236.1L1225.1 236.1L1225.1 237.5L1228.8 237.5L1228.8 239L1229 239L1229 240.4L1228.1 240.4L1228.1 241.9L1228.1 241.9L1228.1 243.3L1230 243.3L1230 244.8L1229.6 244.8L1229.6 246.2L1228.6 246.2L1228.6 247.7L1230.9 247.7L1230.9 249.1L1228.4 249.1L1228.4 250.6L1250.9 250.6L1250.9 252L1250 252L1250 253.5L1248.4 253.5L1248.4 254.9L1245.5 254.9L1245.5 256.4L1245.3 256.4L1245.3 257.8L1247.4 257.8L1247.4 259.3L1243.7 259.3L1243.7 260.7L1244.6 260.7L1244.6 262.2L1244 262.2L1244 263.6L1238.9 263.6L1238.9 265.1L1234 265.1L1234 266.5L1232.8 266.5L1232.8 268L1226.7 268L1226.7 269.4L1226.8 269.4L1226.8 270.9L1224.3 270.9L1224.3 272.3L1223.5 272.3L1223.5 273.8L1218.4 273.8L1218.4 275.2L1216.2 275.2L1216.2 276.7L1227.8 276.7L1227.8 278.1L1227.2 278.1L1227.2 279.6L1229.7 279.6L1229.7 281L1227.3 281L1227.3 282.5L1227.3 282.5L1227.3 283.9L1201.8 283.9L1201.8 285.4L1194.5 285.4L1194.5 286.8L1199 286.8L1199 288.3L1205.9 288.3L1205.9 289.7L1208.2 289.7L1208.2 291.2L1211.7 291.2L1211.7 292.6L1254.2 292.6L1254.2 294.1L1256.7 294.1L1256.7 295.5L1255.6 295.5L1255.6 297L1255.5 297L1255.5 298.4L1256.4 298.4L1256.4 299.9L1255.1 299.9L1255.1 301.3L1255.8 301.3L1255.8 302.8L1256 302.8L1256 304.2L1257.9 304.2L1257.9 305.7L1260.3 305.7L1260.3 307.1L1263.4 307.1L1263.4 308.6L1267.1 308.6L1267.1 310L1270.9 310L1270.9 311.5L1244.2 311.5L1244.2 312.9L1219.6 312.9L1219.6 314.4L1219.2 314.4L1219.2 315.8L1217.3 315.8L1217.3 317.3L1217.8 317.3L1217.8 318.7L1215.1 318.7L1215.1 320.2L1213.7 320.2L1213.7 321.6L1214 321.6L1214 323.1L1224.4 323.1L1224.4 324.5L1224.9 324.5L1224.9 326L1228.2 326L1228.2 327.4L1227.3 327.4L1227.3 328.9L1228.3 328.9L1228.3 330.3L1229.9 330.3L1229.9 331.8L1222.1 331.8L1222.1 333.2L1213.5 333.2L1213.5 334.7L1204.6 334.7L1204.6 336.1L1206.9 336.1L1206.9 337.6L1206.3 337.6L1206.3 339L1214.6 339L1214.6 340.5L1215.4 340.5L1215.4 341.9L1231.1 341.9L1231.1 343.4L1226.6 343.4L1226.6 344.8L1229.8 344.8L1229.8 346.3L1234.8 346.3L1234.8 347.7L1229 347.7L1229 349.2L1224.9 349.2L1224.9 350.6L1225.1 350.6L1225.1 352.1L1224 352.1L1224 353.5L1241.9 353.5L1241.9 355L1245.6 355L1245.6 356.4L1245.4 356.4L1245.4 357.9L1245.6 357.9L1245.6 359.3L1244.9 359.3L1244.9 360.8L1256.6 360.8L1256.6 362.2L1288.5 362.2L1288.5 363.7L1271.7 363.7L1271.7 365.1L1279 365.1L1279 366.6L1274.4 366.6L1274.4 368L1284.9 368L1284.9 369.5L1271.5 369.5L1271.5 370.9L1261.1 370.9L1261.1 372.4L1250.3 372.4L1250.3 373.8L1249.1 373.8L1249.1 375.3L1253.2 375.3L1253.2 376.7L1260.6 376.7L1260.6 378.2L1258.9 378.2L1258.9 379.6L1255.1 379.6L1255.1 381.1L1249.8 381.1L1249.8 382.5L1224.9 382.5L1224.9 384L1209.9 384L1209.9 385.4L1206.1 385.4L1206.1 386.9L1204.1 386.9L1204.1 388.3L1203 388.3L1203 389.8L1208.6 389.8L1208.6 391.2L1211.9 391.2L1211.9 391.6L1869.7 391.6L1869.7 391.2L1868.2 391.2L1868.2 389.8L1873.8 389.8L1873.8 388.3L1879.7 388.3L1879.7 386.9L1867.5 386.9L1867.5 385.4L1858.1 385.4L1858.1 384L1891.8 384L1891.8 382.5L1891.4 382.5L1891.4 381.1L1895.1 381.1L1895.1 379.6L1892.3 379.6L1892.3 378.2L1890 378.2L1890 376.7L1892.5 376.7L1892.5 375.3L1895.3 375.3L1895.3 373.8L1897 373.8L1897 372.4L1902.5 372.4L1902.5 370.9L1908.1 370.9L1908.1 369.5L1918.3 369.5L1918.3 368L1899.2 368L1899.2 366.6L1890.8 366.6L1890.8 365.1L1916 365.1L1916 363.7L1914 363.7L1914 362.2L1870.3 362.2L1870.3 360.8L1873.7 360.8L1873.7 359.3L1877.8 359.3L1877.8 357.9L1880.6 357.9L1880.6 356.4L1865.4 356.4L1865.4 355L1871.6 355L1871.6 353.5L1864.9 353.5L1864.9 352.1L1862.6 352.1L1862.6 350.6L1863.1 350.6L1863.1 349.2L1860.7 349.2L1860.7 347.7L1854.5 347.7L1854.5 346.3L1847.1 346.3L1847.1 344.8L1846 344.8L1846 343.4L1846 343.4L1846 341.9L1847.8 341.9L1847.8 340.5L1846.9 340.5L1846.9 339L1835.4 339L1835.4 337.6L1827.7 337.6L1827.7 336.1L1831.2 336.1L1831.2 334.7L1847.6 334.7L1847.6 333.2L1846.1 333.2L1846.1 331.8L1852.7 331.8L1852.7 330.3L1855.5 330.3L1855.5 328.9L1863.5 328.9L1863.5 327.4L1854 327.4L1854 326L1847.7 326L1847.7 324.5L1839.7 324.5L1839.7 323.1L1826 323.1L1826 321.6L1828.1 321.6L1828.1 320.2L1830.3 320.2L1830.3 318.7L1830.9 318.7L1830.9 317.3L1832.6 317.3L1832.6 315.8L1832.3 315.8L1832.3 314.4L1835.9 314.4L1835.9 312.9L1890.3 312.9L1890.3 311.5L1893.3 311.5L1893.3 310L1895 310L1895 308.6L1893.2 308.6L1893.2 307.1L1887.9 307.1L1887.9 305.7L1885.6 305.7L1885.6 304.2L1880.8 304.2L1880.8 302.8L1879.3 302.8L1879.3 301.3L1874.5 301.3L1874.5 299.9L1880.8 299.9L1880.8 298.4L1873.1 298.4L1873.1 297L1874.6 297L1874.6 295.5L1878.4 295.5L1878.4 294.1L1851.4 294.1L1851.4 292.6L1831 292.6L1831 291.2L1827 291.2L1827 289.7L1821.4 289.7L1821.4 288.3L1815 288.3L1815 286.8L1812.9 286.8L1812.9 285.4L1815.3 285.4L1815.3 283.9L1819.1 283.9L1819.1 282.5L1855.8 282.5L1855.8 281L1858 281L1858 279.6L1858.2 279.6L1858.2 278.1L1856 278.1L1856 276.7L1857.7 276.7L1857.7 275.2L1852.2 275.2L1852.2 273.8L1847.3 273.8L1847.3 272.3L1842.3 272.3L1842.3 270.9L1847 270.9L1847 269.4L1845.6 269.4L1845.6 268L1847.7 268L1847.7 266.5L1853.8 266.5L1853.8 265.1L1858.4 265.1L1858.4 263.6L1845.3 263.6L1845.3 262.2L1852.4 262.2L1852.4 260.7L1861.3 260.7L1861.3 259.3L1866 259.3L1866 257.8L1864.1 257.8L1864.1 256.4L1861.7 256.4L1861.7 254.9L1864.5 254.9L1864.5 253.5L1866.1 253.5L1866.1 252L1855.4 252L1855.4 250.6L1846 250.6L1846 249.1L1847.2 249.1L1847.2 247.7L1848 247.7L1848 246.2L1849.9 246.2L1849.9 244.8L1847.3 244.8L1847.3 243.3L1847.7 243.3L1847.7 241.9L1848.5 241.9L1848.5 240.4L1848.4 240.4L1848.4 239L1846.4 239L1846.4 237.5L1836.6 237.5L1836.6 236.1L1839.1 236.1L1839.1 234.6L1833.9 234.6L1833.9 233.2L1839 233.2L1839 231.7L1848.9 231.7L1848.9 230.3L1857.5 230.3L1857.5 228.8L1865.6 228.8L1865.6 227.4L1854.5 227.4L1854.5 225.9L1853.4 225.9L1853.4 224.5L1853.9 224.5L1853.9 223L1846.7 223L1846.7 221.6L1852.9 221.6L1852.9 220.1L1852.4 220.1L1852.4 218.7L1855.9 218.7L1855.9 217.2L1856.2 217.2L1856.2 215.8L1856.4 215.8L1856.4 214.3L1856.8 214.3L1856.8 212.9L1856 212.9L1856 211.4L1857.3 211.4L1857.3 210L1857.2 210L1857.2 208.5L1856.6 208.5L1856.6 207.1L1866.3 207.1L1866.3 205.6L1855.4 205.6L1855.4 204.2L1856.3 204.2L1856.3 202.7L1853 202.7L1853 201.3L1855.1 201.3L1855.1 199.8L1852.9 199.8L1852.9 198.4L1852.4 198.4L1852.4 196.9L1856.4 196.9L1856.4 195.5L1855.9 195.5L1855.9 194L1851.6 194L1851.6 192.6L1845.2 192.6L1845.2 191.1L1853.3 191.1L1853.3 189.7L1867.3 189.7L1867.3 188.2L1866.6 188.2L1866.6 186.8L1866.2 186.8L1866.2 185.3L1868.7 185.3L1868.7 183.9L1867.7 183.9L1867.7 182.4L1865.6 182.4L1865.6 181L1846.5 181L1846.5 179.5L1822.3 179.5L1822.3 178.1L1819.8 178.1L1819.8 176.6L1820.2 176.6L1820.2 175.2L1842.9 175.2L1842.9 173.7L1848 173.7L1848 172.3L1854 172.3L1854 170.8L1855.3 170.8L1855.3 169.4L1850.3 169.4L1850.3 167.9L1858.2 167.9L1858.2 166.5L1867.9 166.5L1867.9 165L1875 165L1875 163.6L1870.1 163.6L1870.1 162.1L1869.5 162.1L1869.5 160.7L1865.9 160.7L1865.9 159.2L1861.2 159.2L1861.2 157.8L1860 157.8L1860 156.3L1856.6 156.3L1856.6 154.9L1854.6 154.9L1854.6 153.4L1851 153.4L1851 152L1824.3 152L1824.3 150.5L1832.8 150.5L1832.8 149.1L1822.1 149.1L1822.1 147.6L1824.1 147.6L1824.1 146.2L1816.4 146.2L1816.4 144.7L1809.8 144.7L1809.8 143.3L1809.2 143.3L1809.2 141.8L1809.3 141.8L1809.3 140.4L1808.5 140.4L1808.5 138.9L1872.8 138.9L1872.8 137.5L1874.7 137.5L1874.7 136L1872.2 136L1872.2 134.6L1874.7 134.6L1874.7 133.1L1871.4 133.1L1871.4 131.7L1870.9 131.7L1870.9 130.2L1871.5 130.2L1871.5 128.8L1869.5 128.8L1869.5 127.3L1870.5 127.3L1870.5 125.9L1869.1 125.9L1869.1 124.4L1799.2 124.4L1799.2 123L1797.9 123L1797.9 121.5L1795.9 121.5L1795.9 120.1L1797.8 120.1L1797.8 118.6L1796.6 118.6L1796.6 117.2L1795.9 117.2L1795.9 115.7L1790 115.7L1790 114.3L1829.9 114.3L1829.9 112.8L1857.5 112.8L1857.5 111.4L1858.9 111.4L1858.9 109.9L1854.4 109.9L1854.4 108.5L1850.9 108.5L1850.9 107L1843.4 107L1843.4 105.6L1837.9 105.6L1837.9 104.1L1840 104.1L1840 102.7L1841.3 102.7L1841.3 101.2L1842.7 101.2L1842.7 99.8L1840.4 99.8L1840.4 98.3L1842.5 98.3L1842.5 96.9L1831.8 96.9L1831.8 95.4L1816.9 95.4L1816.9 94L1811.3 94L1811.3 92.5L1809.2 92.5L1809.2 91.1L1808.2 91.1L1808.2 89.6L1807.8 89.6L1807.8 88.2L1810.5 88.2L1810.5 86.7L1814.9 86.7L1814.9 85.3L1811.5 85.3L1811.5 83.8L1810.8 83.8L1810.8 82.4L1807.6 82.4L1807.6 80.9L1821.5 80.9L1821.5 79.5L1828.7 79.5L1828.7 78L1822.1 78L1822.1 76.6L1813.7 76.6L1813.7 75.1L1812.3 75.1L1812.3 73.7L1829.9 73.7L1829.9 72.2L1830.2 72.2L1830.2 70.8L1827.2 70.8L1827.2 69.3L1825.6 69.3L1825.6 67.9L1823.9 67.9L1823.9 66.4L1825.4 66.4L1825.4 65L1827.4 65L1827.4 63.5L1832.3 63.5L1832.3 62.1L1833.2 62.1L1833.2 60.6L1832.4 60.6L1832.4 59.2L1834.6 59.2L1834.6 57.7L1822.8 57.7L1822.8 56.3L1821 56.3L1821 54.8L1818.9 54.8L1818.9 53.4L1820.6 53.4L1820.6 51.9L1818.5 51.9L1818.5 50.5L1818.2 50.5L1818.2 49L1824.7 49L1824.7 47.6L1830.1 47.6L1830.1 46.1L1827.1 46.1L1827.1 44.7L1826.4 44.7L1826.4 43.2L1827.6 43.2L1827.6 41.8L1826.1 41.8L1826.1 40.3L1809.8 40.3L1809.8 38.9L1811.6 38.9L1811.6 37.4L1811.1 37.4L1811.1 36L1810.5 36L1810.5 34.5L1807.4 34.5L1807.4 33.1L1797.9 33.1L1797.9 31.6L1794 31.6L1794 30.2L1792.1 30.2L1792.1 28.7z"/></clipPath>
<g clip-path="url(#al3)">
<rect x="1173" y="28.8" width="746.8" height="208.2" fill="#8f8d61"/>
<path fill="#2d77be" d="M1173 28.8h1.13v208.2h-1.13zM1178.1 28.8h0.57v208.2h-0.57zM1180.94 28.8h1.7v208.2h-1.7zM1186.61 28.8h0.57v208.2h-0.57zM1188.31 28.8h1.7v208.2h-1.7zM1191.71 28.8h0.57v208.2h-0.57zM1194.55 28.8h0.57v208.2h-0.57zM1196.82 28.8h1.13v208.2h-1.13zM1200.79 28.8h0.57v208.2h-0.57zM1203.05 28.8h1.13v208.2h-1.13zM1205.32 28.8h0.57v208.2h-0.57zM1207.59 28.8h1.13v208.2h-1.13zM1217.23 28.8h1.13v208.2h-1.13zM1219.5 28.8h1.7v208.2h-1.7zM1225.74 28.8h0.57v208.2h-0.57zM1233.11 28.8h1.13v208.2h-1.13zM1235.94 28.8h0.57v208.2h-0.57zM1237.64 28.8h0.57v208.2h-0.57zM1238.78 28.8h1.13v208.2h-1.13zM1243.88 28.8h0.57v208.2h-0.57zM1245.01 28.8h0.57v208.2h-0.57zM1248.98 28.8h0.57v208.2h-0.57zM1250.69 28.8h1.13v208.2h-1.13zM1255.79 28.8h0.57v208.2h-0.57zM1258.62 28.8h1.7v208.2h-1.7zM1264.29 28.8h0.57v208.2h-0.57zM1266 28.8h1.7v208.2h-1.7zM1269.4 28.8h0.57v208.2h-0.57zM1272.23 28.8h0.57v208.2h-0.57zM1274.5 28.8h1.13v208.2h-1.13zM1278.47 28.8h0.57v208.2h-0.57zM1280.74 28.8h1.13v208.2h-1.13zM1283.01 28.8h0.57v208.2h-0.57zM1285.28 28.8h1.13v208.2h-1.13zM1294.91 28.8h1.13v208.2h-1.13zM1297.18 28.8h1.7v208.2h-1.7zM1303.42 28.8h0.57v208.2h-0.57zM1310.79 28.8h1.13v208.2h-1.13zM1313.63 28.8h0.57v208.2h-0.57zM1315.33 28.8h0.57v208.2h-0.57zM1316.46 28.8h1.13v208.2h-1.13zM1321.57 28.8h0.57v208.2h-0.57zM1322.7 28.8h0.57v208.2h-0.57zM1326.67 28.8h0.57v208.2h-0.57zM1328.37 28.8h1.13v208.2h-1.13zM1333.47 28.8h0.57v208.2h-0.57zM1336.31 28.8h1.7v208.2h-1.7zM1341.98 28.8h0.57v208.2h-0.57zM1343.68 28.8h1.7v208.2h-1.7zM1347.08 28.8h0.57v208.2h-0.57zM1349.92 28.8h0.57v208.2h-0.57zM1352.19 28.8h1.13v208.2h-1.13zM1356.16 28.8h0.57v208.2h-0.57zM1358.42 28.8h1.13v208.2h-1.13zM1360.69 28.8h0.57v208.2h-0.57zM1362.96 28.8h1.13v208.2h-1.13zM1372.6 28.8h1.13v208.2h-1.13zM1374.87 28.8h1.7v208.2h-1.7zM1381.11 28.8h0.57v208.2h-0.57zM1388.48 28.8h1.13v208.2h-1.13zM1391.31 28.8h0.57v208.2h-0.57zM1393.01 28.8h0.57v208.2h-0.57zM1394.15 28.8h1.13v208.2h-1.13zM1399.25 28.8h0.57v208.2h-0.57zM1400.39 28.8h0.57v208.2h-0.57zM1404.35 28.8h0.57v208.2h-0.57zM1406.06 28.8h1.13v208.2h-1.13zM1411.16 28.8h0.57v208.2h-0.57zM1413.99 28.8h1.7v208.2h-1.7zM1419.67 28.8h0.57v208.2h-0.57zM1421.37 28.8h1.7v208.2h-1.7zM1424.77 28.8h0.57v208.2h-0.57zM1427.6 28.8h0.57v208.2h-0.57zM1429.87 28.8h1.13v208.2h-1.13zM1433.84 28.8h0.57v208.2h-0.57zM1436.11 28.8h1.13v208.2h-1.13zM1438.38 28.8h0.57v208.2h-0.57zM1440.65 28.8h1.13v208.2h-1.13zM1450.29 28.8h1.13v208.2h-1.13zM1452.55 28.8h1.7v208.2h-1.7zM1458.79 28.8h0.57v208.2h-0.57zM1466.16 28.8h1.13v208.2h-1.13zM1469 28.8h0.57v208.2h-0.57zM1470.7 28.8h0.57v208.2h-0.57zM1471.83 28.8h1.13v208.2h-1.13zM1476.94 28.8h0.57v208.2h-0.57zM1478.07 28.8h0.57v208.2h-0.57zM1482.04 28.8h0.57v208.2h-0.57zM1483.74 28.8h1.13v208.2h-1.13zM1488.84 28.8h0.57v208.2h-0.57zM1491.68 28.8h1.7v208.2h-1.7zM1497.35 28.8h0.57v208.2h-0.57zM1499.05 28.8h1.7v208.2h-1.7zM1502.45 28.8h0.57v208.2h-0.57zM1505.29 28.8h0.57v208.2h-0.57zM1507.56 28.8h1.13v208.2h-1.13zM1511.53 28.8h0.57v208.2h-0.57zM1513.79 28.8h1.13v208.2h-1.13zM1516.06 28.8h0.57v208.2h-0.57zM1518.33 28.8h1.13v208.2h-1.13zM1527.97 28.8h1.13v208.2h-1.13zM1530.24 28.8h1.7v208.2h-1.7zM1536.48 28.8h0.57v208.2h-0.57zM1543.85 28.8h1.13v208.2h-1.13zM1546.68 28.8h0.57v208.2h-0.57zM1548.38 28.8h0.57v208.2h-0.57zM1549.52 28.8h1.13v208.2h-1.13zM1554.62 28.8h0.57v208.2h-0.57zM1555.76 28.8h0.57v208.2h-0.57zM1559.73 28.8h0.57v208.2h-0.57zM1561.43 28.8h1.13v208.2h-1.13zM1566.53 28.8h0.57v208.2h-0.57zM1569.37 28.8h1.7v208.2h-1.7zM1575.04 28.8h0.57v208.2h-0.57zM1576.74 28.8h1.7v208.2h-1.7zM1580.14 28.8h0.57v208.2h-0.57zM1582.97 28.8h0.57v208.2h-0.57zM1585.24 28.8h1.13v208.2h-1.13zM1589.21 28.8h0.57v208.2h-0.57zM1591.48 28.8h1.13v208.2h-1.13zM1593.75 28.8h0.57v208.2h-0.57zM1596.02 28.8h1.13v208.2h-1.13zM1605.66 28.8h1.13v208.2h-1.13zM1607.92 28.8h1.7v208.2h-1.7zM1614.16 28.8h0.57v208.2h-0.57zM1621.53 28.8h1.13v208.2h-1.13zM1624.37 28.8h0.57v208.2h-0.57zM1626.07 28.8h0.57v208.2h-0.57zM1627.2 28.8h1.13v208.2h-1.13zM1632.31 28.8h0.57v208.2h-0.57zM1633.44 28.8h0.57v208.2h-0.57zM1637.41 28.8h0.57v208.2h-0.57zM1639.11 28.8h1.13v208.2h-1.13zM1644.22 28.8h0.57v208.2h-0.57zM1647.05 28.8h1.7v208.2h-1.7zM1652.72 28.8h0.57v208.2h-0.57zM1654.42 28.8h1.7v208.2h-1.7zM1657.82 28.8h0.57v208.2h-0.57zM1660.66 28.8h0.57v208.2h-0.57zM1662.93 28.8h1.13v208.2h-1.13zM1666.9 28.8h0.57v208.2h-0.57zM1669.17 28.8h1.13v208.2h-1.13zM1671.43 28.8h0.57v208.2h-0.57zM1673.7 28.8h1.13v208.2h-1.13zM1683.34 28.8h1.13v208.2h-1.13zM1685.61 28.8h1.7v208.2h-1.7zM1691.85 28.8h0.57v208.2h-0.57zM1699.22 28.8h1.13v208.2h-1.13zM1702.05 28.8h0.57v208.2h-0.57zM1703.76 28.8h0.57v208.2h-0.57zM1704.89 28.8h1.13v208.2h-1.13zM1709.99 28.8h0.57v208.2h-0.57zM1711.13 28.8h0.57v208.2h-0.57zM1715.1 28.8h0.57v208.2h-0.57zM1716.8 28.8h1.13v208.2h-1.13zM1721.9 28.8h0.57v208.2h-0.57zM1724.74 28.8h1.7v208.2h-1.7zM1730.41 28.8h0.57v208.2h-0.57zM1732.11 28.8h1.7v208.2h-1.7zM1735.51 28.8h0.57v208.2h-0.57zM1738.35 28.8h0.57v208.2h-0.57zM1740.61 28.8h1.13v208.2h-1.13zM1744.58 28.8h0.57v208.2h-0.57zM1746.85 28.8h1.13v208.2h-1.13zM1749.12 28.8h0.57v208.2h-0.57zM1751.39 28.8h1.13v208.2h-1.13zM1761.03 28.8h1.13v208.2h-1.13zM1763.3 28.8h1.7v208.2h-1.7zM1769.53 28.8h0.57v208.2h-0.57zM1776.9 28.8h1.13v208.2h-1.13zM1779.74 28.8h0.57v208.2h-0.57zM1781.44 28.8h0.57v208.2h-0.57zM1782.57 28.8h1.13v208.2h-1.13zM1787.68 28.8h0.57v208.2h-0.57zM1788.81 28.8h0.57v208.2h-0.57zM1792.78 28.8h0.57v208.2h-0.57zM1794.48 28.8h1.13v208.2h-1.13zM1799.59 28.8h0.57v208.2h-0.57zM1802.42 28.8h1.7v208.2h-1.7zM1808.09 28.8h0.57v208.2h-0.57zM1809.79 28.8h1.7v208.2h-1.7zM1813.2 28.8h0.57v208.2h-0.57zM1816.03 28.8h0.57v208.2h-0.57zM1818.3 28.8h1.13v208.2h-1.13zM1822.27 28.8h0.57v208.2h-0.57zM1824.54 28.8h1.13v208.2h-1.13zM1826.8 28.8h0.57v208.2h-0.57zM1829.07 28.8h1.13v208.2h-1.13zM1838.71 28.8h1.13v208.2h-1.13zM1840.98 28.8h1.7v208.2h-1.7zM1847.22 28.8h0.57v208.2h-0.57zM1854.59 28.8h1.13v208.2h-1.13zM1857.42 28.8h0.57v208.2h-0.57zM1859.13 28.8h0.57v208.2h-0.57zM1860.26 28.8h1.13v208.2h-1.13zM1865.36 28.8h0.57v208.2h-0.57zM1866.5 28.8h0.57v208.2h-0.57zM1870.47 28.8h0.57v208.2h-0.57zM1872.17 28.8h1.13v208.2h-1.13zM1877.27 28.8h0.57v208.2h-0.57zM1880.11 28.8h1.7v208.2h-1.7zM1885.78 28.8h0.57v208.2h-0.57zM1887.48 28.8h1.7v208.2h-1.7zM1890.88 28.8h0.57v208.2h-0.57zM1893.72 28.8h0.57v208.2h-0.57zM1895.98 28.8h1.13v208.2h-1.13zM1899.95 28.8h0.57v208.2h-0.57zM1902.22 28.8h1.13v208.2h-1.13zM1904.49 28.8h0.57v208.2h-0.57zM1906.76 28.8h1.13v208.2h-1.13zM1916.4 28.8h1.13v208.2h-1.13zM1918.67 28.8h1.13v208.2h-1.13z"/>
<path fill="#4db65a" d="M1174.13 28.8h1.7v208.2h-1.7zM1179.24 28.8h0.57v208.2h-0.57zM1182.64 28.8h0.57v208.2h-0.57zM1183.77 28.8h1.7v208.2h-1.7zM1187.18 28.8h1.13v208.2h-1.13zM1190.58 28.8h1.13v208.2h-1.13zM1193.98 28.8h0.57v208.2h-0.57zM1195.68 28.8h1.13v208.2h-1.13zM1197.95 28.8h0.57v208.2h-0.57zM1202.49 28.8h0.57v208.2h-0.57zM1204.75 28.8h0.57v208.2h-0.57zM1209.29 28.8h1.7v208.2h-1.7zM1215.53 28.8h1.13v208.2h-1.13zM1224.03 28.8h0.57v208.2h-0.57zM1225.17 28.8h0.57v208.2h-0.57zM1226.3 28.8h0.57v208.2h-0.57zM1228 28.8h0.57v208.2h-0.57zM1229.7 28.8h0.57v208.2h-0.57zM1230.84 28.8h2.27v208.2h-2.27zM1234.24 28.8h1.13v208.2h-1.13zM1240.48 28.8h1.13v208.2h-1.13zM1245.58 28.8h1.7v208.2h-1.7zM1249.55 28.8h0.57v208.2h-0.57zM1251.82 28.8h1.7v208.2h-1.7zM1256.92 28.8h0.57v208.2h-0.57zM1260.33 28.8h0.57v208.2h-0.57zM1261.46 28.8h1.7v208.2h-1.7zM1264.86 28.8h1.13v208.2h-1.13zM1268.26 28.8h1.13v208.2h-1.13zM1271.67 28.8h0.57v208.2h-0.57zM1273.37 28.8h1.13v208.2h-1.13zM1275.64 28.8h0.57v208.2h-0.57zM1280.17 28.8h0.57v208.2h-0.57zM1282.44 28.8h0.57v208.2h-0.57zM1286.98 28.8h1.7v208.2h-1.7zM1293.21 28.8h1.13v208.2h-1.13zM1301.72 28.8h0.57v208.2h-0.57zM1302.85 28.8h0.57v208.2h-0.57zM1303.99 28.8h0.57v208.2h-0.57zM1305.69 28.8h0.57v208.2h-0.57zM1307.39 28.8h0.57v208.2h-0.57zM1308.52 28.8h2.27v208.2h-2.27zM1311.93 28.8h1.13v208.2h-1.13zM1318.16 28.8h1.13v208.2h-1.13zM1323.27 28.8h1.7v208.2h-1.7zM1327.24 28.8h0.57v208.2h-0.57zM1329.5 28.8h1.7v208.2h-1.7zM1334.61 28.8h0.57v208.2h-0.57zM1338.01 28.8h0.57v208.2h-0.57zM1339.14 28.8h1.7v208.2h-1.7zM1342.55 28.8h1.13v208.2h-1.13zM1345.95 28.8h1.13v208.2h-1.13zM1349.35 28.8h0.57v208.2h-0.57zM1351.05 28.8h1.13v208.2h-1.13zM1353.32 28.8h0.57v208.2h-0.57zM1357.86 28.8h0.57v208.2h-0.57zM1360.13 28.8h0.57v208.2h-0.57zM1364.66 28.8h1.7v208.2h-1.7zM1370.9 28.8h1.13v208.2h-1.13zM1379.4 28.8h0.57v208.2h-0.57zM1380.54 28.8h0.57v208.2h-0.57zM1381.67 28.8h0.57v208.2h-0.57zM1383.37 28.8h0.57v208.2h-0.57zM1385.08 28.8h0.57v208.2h-0.57zM1386.21 28.8h2.27v208.2h-2.27zM1389.61 28.8h1.13v208.2h-1.13zM1395.85 28.8h1.13v208.2h-1.13zM1400.95 28.8h1.7v208.2h-1.7zM1404.92 28.8h0.57v208.2h-0.57zM1407.19 28.8h1.7v208.2h-1.7zM1412.29 28.8h0.57v208.2h-0.57zM1415.7 28.8h0.57v208.2h-0.57zM1416.83 28.8h1.7v208.2h-1.7zM1420.23 28.8h1.13v208.2h-1.13zM1423.63 28.8h1.13v208.2h-1.13zM1427.04 28.8h0.57v208.2h-0.57zM1428.74 28.8h1.13v208.2h-1.13zM1431.01 28.8h0.57v208.2h-0.57zM1435.54 28.8h0.57v208.2h-0.57zM1437.81 28.8h0.57v208.2h-0.57zM1442.35 28.8h1.7v208.2h-1.7zM1448.58 28.8h1.13v208.2h-1.13zM1457.09 28.8h0.57v208.2h-0.57zM1458.22 28.8h0.57v208.2h-0.57zM1459.36 28.8h0.57v208.2h-0.57zM1461.06 28.8h0.57v208.2h-0.57zM1462.76 28.8h0.57v208.2h-0.57zM1463.89 28.8h2.27v208.2h-2.27zM1467.3 28.8h1.13v208.2h-1.13zM1473.53 28.8h1.13v208.2h-1.13zM1478.64 28.8h1.7v208.2h-1.7zM1482.61 28.8h0.57v208.2h-0.57zM1484.88 28.8h1.7v208.2h-1.7zM1489.98 28.8h0.57v208.2h-0.57zM1493.38 28.8h0.57v208.2h-0.57zM1494.52 28.8h1.7v208.2h-1.7zM1497.92 28.8h1.13v208.2h-1.13zM1501.32 28.8h1.13v208.2h-1.13zM1504.72 28.8h0.57v208.2h-0.57zM1506.42 28.8h1.13v208.2h-1.13zM1508.69 28.8h0.57v208.2h-0.57zM1513.23 28.8h0.57v208.2h-0.57zM1515.5 28.8h0.57v208.2h-0.57zM1520.03 28.8h1.7v208.2h-1.7zM1526.27 28.8h1.13v208.2h-1.13zM1534.78 28.8h0.57v208.2h-0.57zM1535.91 28.8h0.57v208.2h-0.57zM1537.04 28.8h0.57v208.2h-0.57zM1538.74 28.8h0.57v208.2h-0.57zM1540.45 28.8h0.57v208.2h-0.57zM1541.58 28.8h2.27v208.2h-2.27zM1544.98 28.8h1.13v208.2h-1.13zM1551.22 28.8h1.13v208.2h-1.13zM1556.32 28.8h1.7v208.2h-1.7zM1560.29 28.8h0.57v208.2h-0.57zM1562.56 28.8h1.7v208.2h-1.7zM1567.66 28.8h0.57v208.2h-0.57zM1571.07 28.8h0.57v208.2h-0.57zM1572.2 28.8h1.7v208.2h-1.7zM1575.6 28.8h1.13v208.2h-1.13zM1579.01 28.8h1.13v208.2h-1.13zM1582.41 28.8h0.57v208.2h-0.57zM1584.11 28.8h1.13v208.2h-1.13zM1586.38 28.8h0.57v208.2h-0.57zM1590.91 28.8h0.57v208.2h-0.57zM1593.18 28.8h0.57v208.2h-0.57zM1597.72 28.8h1.7v208.2h-1.7zM1603.96 28.8h1.13v208.2h-1.13zM1612.46 28.8h0.57v208.2h-0.57zM1613.59 28.8h0.57v208.2h-0.57zM1614.73 28.8h0.57v208.2h-0.57zM1616.43 28.8h0.57v208.2h-0.57zM1618.13 28.8h0.57v208.2h-0.57zM1619.27 28.8h2.27v208.2h-2.27zM1622.67 28.8h1.13v208.2h-1.13zM1628.91 28.8h1.13v208.2h-1.13zM1634.01 28.8h1.7v208.2h-1.7zM1637.98 28.8h0.57v208.2h-0.57zM1640.25 28.8h1.7v208.2h-1.7zM1645.35 28.8h0.57v208.2h-0.57zM1648.75 28.8h0.57v208.2h-0.57zM1649.89 28.8h1.7v208.2h-1.7zM1653.29 28.8h1.13v208.2h-1.13zM1656.69 28.8h1.13v208.2h-1.13zM1660.09 28.8h0.57v208.2h-0.57zM1661.79 28.8h1.13v208.2h-1.13zM1664.06 28.8h0.57v208.2h-0.57zM1668.6 28.8h0.57v208.2h-0.57zM1670.87 28.8h0.57v208.2h-0.57zM1675.4 28.8h1.7v208.2h-1.7zM1681.64 28.8h1.13v208.2h-1.13zM1690.15 28.8h0.57v208.2h-0.57zM1691.28 28.8h0.57v208.2h-0.57zM1692.41 28.8h0.57v208.2h-0.57zM1694.12 28.8h0.57v208.2h-0.57zM1695.82 28.8h0.57v208.2h-0.57zM1696.95 28.8h2.27v208.2h-2.27zM1700.35 28.8h1.13v208.2h-1.13zM1706.59 28.8h1.13v208.2h-1.13zM1711.69 28.8h1.7v208.2h-1.7zM1715.66 28.8h0.57v208.2h-0.57zM1717.93 28.8h1.7v208.2h-1.7zM1723.03 28.8h0.57v208.2h-0.57zM1726.44 28.8h0.57v208.2h-0.57zM1727.57 28.8h1.7v208.2h-1.7zM1730.97 28.8h1.13v208.2h-1.13zM1734.38 28.8h1.13v208.2h-1.13zM1737.78 28.8h0.57v208.2h-0.57zM1739.48 28.8h1.13v208.2h-1.13zM1741.75 28.8h0.57v208.2h-0.57zM1746.28 28.8h0.57v208.2h-0.57zM1748.55 28.8h0.57v208.2h-0.57zM1753.09 28.8h1.7v208.2h-1.7zM1759.33 28.8h1.13v208.2h-1.13zM1767.83 28.8h0.57v208.2h-0.57zM1768.97 28.8h0.57v208.2h-0.57zM1770.1 28.8h0.57v208.2h-0.57zM1771.8 28.8h0.57v208.2h-0.57zM1773.5 28.8h0.57v208.2h-0.57zM1774.64 28.8h2.27v208.2h-2.27zM1778.04 28.8h1.13v208.2h-1.13zM1784.28 28.8h1.13v208.2h-1.13zM1789.38 28.8h1.7v208.2h-1.7zM1793.35 28.8h0.57v208.2h-0.57zM1795.62 28.8h1.7v208.2h-1.7zM1800.72 28.8h0.57v208.2h-0.57zM1804.12 28.8h0.57v208.2h-0.57zM1805.26 28.8h1.7v208.2h-1.7zM1808.66 28.8h1.13v208.2h-1.13zM1812.06 28.8h1.13v208.2h-1.13zM1815.46 28.8h0.57v208.2h-0.57zM1817.16 28.8h1.13v208.2h-1.13zM1819.43 28.8h0.57v208.2h-0.57zM1823.97 28.8h0.57v208.2h-0.57zM1826.24 28.8h0.57v208.2h-0.57zM1830.77 28.8h1.7v208.2h-1.7zM1837.01 28.8h1.13v208.2h-1.13zM1845.52 28.8h0.57v208.2h-0.57zM1846.65 28.8h0.57v208.2h-0.57zM1847.79 28.8h0.57v208.2h-0.57zM1849.49 28.8h0.57v208.2h-0.57zM1851.19 28.8h0.57v208.2h-0.57zM1852.32 28.8h2.27v208.2h-2.27zM1855.72 28.8h1.13v208.2h-1.13zM1861.96 28.8h1.13v208.2h-1.13zM1867.06 28.8h1.7v208.2h-1.7zM1871.03 28.8h0.57v208.2h-0.57zM1873.3 28.8h1.7v208.2h-1.7zM1878.41 28.8h0.57v208.2h-0.57zM1881.81 28.8h0.57v208.2h-0.57zM1882.94 28.8h1.7v208.2h-1.7zM1886.34 28.8h1.13v208.2h-1.13zM1889.75 28.8h1.13v208.2h-1.13zM1893.15 28.8h0.57v208.2h-0.57zM1894.85 28.8h1.13v208.2h-1.13zM1897.12 28.8h0.57v208.2h-0.57zM1901.65 28.8h0.57v208.2h-0.57zM1903.92 28.8h0.57v208.2h-0.57zM1908.46 28.8h1.7v208.2h-1.7zM1914.7 28.8h1.13v208.2h-1.13z"/>
<path fill="#fbae25" d="M1175.84 28.8h1.13v208.2h-1.13zM1178.67 28.8h0.57v208.2h-0.57zM1179.8 28.8h0.57v208.2h-0.57zM1183.21 28.8h0.57v208.2h-0.57zM1190.01 28.8h0.57v208.2h-0.57zM1192.85 28.8h1.13v208.2h-1.13zM1195.11 28.8h0.57v208.2h-0.57zM1200.22 28.8h0.57v208.2h-0.57zM1201.35 28.8h1.13v208.2h-1.13zM1205.89 28.8h1.7v208.2h-1.7zM1210.99 28.8h1.13v208.2h-1.13zM1214.39 28.8h1.13v208.2h-1.13zM1218.93 28.8h0.57v208.2h-0.57zM1222.33 28.8h1.7v208.2h-1.7zM1226.87 28.8h1.13v208.2h-1.13zM1228.57 28.8h0.57v208.2h-0.57zM1235.38 28.8h0.57v208.2h-0.57zM1238.21 28.8h0.57v208.2h-0.57zM1241.61 28.8h1.13v208.2h-1.13zM1243.31 28.8h0.57v208.2h-0.57zM1244.45 28.8h0.57v208.2h-0.57zM1247.28 28.8h1.7v208.2h-1.7zM1250.12 28.8h0.57v208.2h-0.57zM1253.52 28.8h1.13v208.2h-1.13zM1256.36 28.8h0.57v208.2h-0.57zM1257.49 28.8h0.57v208.2h-0.57zM1260.89 28.8h0.57v208.2h-0.57zM1267.7 28.8h0.57v208.2h-0.57zM1270.53 28.8h1.13v208.2h-1.13zM1272.8 28.8h0.57v208.2h-0.57zM1277.9 28.8h0.57v208.2h-0.57zM1279.04 28.8h1.13v208.2h-1.13zM1283.57 28.8h1.7v208.2h-1.7zM1288.68 28.8h1.13v208.2h-1.13zM1292.08 28.8h1.13v208.2h-1.13zM1296.62 28.8h0.57v208.2h-0.57zM1300.02 28.8h1.7v208.2h-1.7zM1304.55 28.8h1.13v208.2h-1.13zM1306.26 28.8h0.57v208.2h-0.57zM1313.06 28.8h0.57v208.2h-0.57zM1315.9 28.8h0.57v208.2h-0.57zM1319.3 28.8h1.13v208.2h-1.13zM1321 28.8h0.57v208.2h-0.57zM1322.13 28.8h0.57v208.2h-0.57zM1324.97 28.8h1.7v208.2h-1.7zM1327.8 28.8h0.57v208.2h-0.57zM1331.21 28.8h1.13v208.2h-1.13zM1334.04 28.8h0.57v208.2h-0.57zM1335.18 28.8h0.57v208.2h-0.57zM1338.58 28.8h0.57v208.2h-0.57zM1345.38 28.8h0.57v208.2h-0.57zM1348.22 28.8h1.13v208.2h-1.13zM1350.49 28.8h0.57v208.2h-0.57zM1355.59 28.8h0.57v208.2h-0.57zM1356.72 28.8h1.13v208.2h-1.13zM1361.26 28.8h1.7v208.2h-1.7zM1366.36 28.8h1.13v208.2h-1.13zM1369.77 28.8h1.13v208.2h-1.13zM1374.3 28.8h0.57v208.2h-0.57zM1377.7 28.8h1.7v208.2h-1.7zM1382.24 28.8h1.13v208.2h-1.13zM1383.94 28.8h0.57v208.2h-0.57zM1390.75 28.8h0.57v208.2h-0.57zM1393.58 28.8h0.57v208.2h-0.57zM1396.98 28.8h1.13v208.2h-1.13zM1398.68 28.8h0.57v208.2h-0.57zM1399.82 28.8h0.57v208.2h-0.57zM1402.65 28.8h1.7v208.2h-1.7zM1405.49 28.8h0.57v208.2h-0.57zM1408.89 28.8h1.13v208.2h-1.13zM1411.73 28.8h0.57v208.2h-0.57zM1412.86 28.8h0.57v208.2h-0.57zM1416.26 28.8h0.57v208.2h-0.57zM1423.07 28.8h0.57v208.2h-0.57zM1425.9 28.8h1.13v208.2h-1.13zM1428.17 28.8h0.57v208.2h-0.57zM1433.27 28.8h0.57v208.2h-0.57zM1434.41 28.8h1.13v208.2h-1.13zM1438.94 28.8h1.7v208.2h-1.7zM1444.05 28.8h1.13v208.2h-1.13zM1447.45 28.8h1.13v208.2h-1.13zM1451.99 28.8h0.57v208.2h-0.57zM1455.39 28.8h1.7v208.2h-1.7zM1459.93 28.8h1.13v208.2h-1.13zM1461.63 28.8h0.57v208.2h-0.57zM1468.43 28.8h0.57v208.2h-0.57zM1471.27 28.8h0.57v208.2h-0.57zM1474.67 28.8h1.13v208.2h-1.13zM1476.37 28.8h0.57v208.2h-0.57zM1477.5 28.8h0.57v208.2h-0.57zM1480.34 28.8h1.7v208.2h-1.7zM1483.17 28.8h0.57v208.2h-0.57zM1486.58 28.8h1.13v208.2h-1.13zM1489.41 28.8h0.57v208.2h-0.57zM1490.55 28.8h0.57v208.2h-0.57zM1493.95 28.8h0.57v208.2h-0.57zM1500.75 28.8h0.57v208.2h-0.57zM1503.59 28.8h1.13v208.2h-1.13zM1505.86 28.8h0.57v208.2h-0.57zM1510.96 28.8h0.57v208.2h-0.57zM1512.09 28.8h1.13v208.2h-1.13zM1516.63 28.8h1.7v208.2h-1.7zM1521.73 28.8h1.13v208.2h-1.13zM1525.14 28.8h1.13v208.2h-1.13zM1529.67 28.8h0.57v208.2h-0.57zM1533.07 28.8h1.7v208.2h-1.7zM1537.61 28.8h1.13v208.2h-1.13zM1539.31 28.8h0.57v208.2h-0.57zM1546.12 28.8h0.57v208.2h-0.57zM1548.95 28.8h0.57v208.2h-0.57zM1552.35 28.8h1.13v208.2h-1.13zM1554.06 28.8h0.57v208.2h-0.57zM1555.19 28.8h0.57v208.2h-0.57zM1558.02 28.8h1.7v208.2h-1.7zM1560.86 28.8h0.57v208.2h-0.57zM1564.26 28.8h1.13v208.2h-1.13zM1567.1 28.8h0.57v208.2h-0.57zM1568.23 28.8h0.57v208.2h-0.57zM1571.63 28.8h0.57v208.2h-0.57zM1578.44 28.8h0.57v208.2h-0.57zM1581.27 28.8h1.13v208.2h-1.13zM1583.54 28.8h0.57v208.2h-0.57zM1588.64 28.8h0.57v208.2h-0.57zM1589.78 28.8h1.13v208.2h-1.13zM1594.32 28.8h1.7v208.2h-1.7zM1599.42 28.8h1.13v208.2h-1.13zM1602.82 28.8h1.13v208.2h-1.13zM1607.36 28.8h0.57v208.2h-0.57zM1610.76 28.8h1.7v208.2h-1.7zM1615.3 28.8h1.13v208.2h-1.13zM1617 28.8h0.57v208.2h-0.57zM1623.8 28.8h0.57v208.2h-0.57zM1626.64 28.8h0.57v208.2h-0.57zM1630.04 28.8h1.13v208.2h-1.13zM1631.74 28.8h0.57v208.2h-0.57zM1632.87 28.8h0.57v208.2h-0.57zM1635.71 28.8h1.7v208.2h-1.7zM1638.55 28.8h0.57v208.2h-0.57zM1641.95 28.8h1.13v208.2h-1.13zM1644.78 28.8h0.57v208.2h-0.57zM1645.92 28.8h0.57v208.2h-0.57zM1649.32 28.8h0.57v208.2h-0.57zM1656.12 28.8h0.57v208.2h-0.57zM1658.96 28.8h1.13v208.2h-1.13zM1661.23 28.8h0.57v208.2h-0.57zM1666.33 28.8h0.57v208.2h-0.57zM1667.46 28.8h1.13v208.2h-1.13zM1672 28.8h1.7v208.2h-1.7zM1677.1 28.8h1.13v208.2h-1.13zM1680.51 28.8h1.13v208.2h-1.13zM1685.04 28.8h0.57v208.2h-0.57zM1688.45 28.8h1.7v208.2h-1.7zM1692.98 28.8h1.13v208.2h-1.13zM1694.68 28.8h0.57v208.2h-0.57zM1701.49 28.8h0.57v208.2h-0.57zM1704.32 28.8h0.57v208.2h-0.57zM1707.72 28.8h1.13v208.2h-1.13zM1709.43 28.8h0.57v208.2h-0.57zM1710.56 28.8h0.57v208.2h-0.57zM1713.4 28.8h1.7v208.2h-1.7zM1716.23 28.8h0.57v208.2h-0.57zM1719.63 28.8h1.13v208.2h-1.13zM1722.47 28.8h0.57v208.2h-0.57zM1723.6 28.8h0.57v208.2h-0.57zM1727 28.8h0.57v208.2h-0.57zM1733.81 28.8h0.57v208.2h-0.57zM1736.64 28.8h1.13v208.2h-1.13zM1738.91 28.8h0.57v208.2h-0.57zM1744.02 28.8h0.57v208.2h-0.57zM1745.15 28.8h1.13v208.2h-1.13zM1749.69 28.8h1.7v208.2h-1.7zM1754.79 28.8h1.13v208.2h-1.13zM1758.19 28.8h1.13v208.2h-1.13zM1762.73 28.8h0.57v208.2h-0.57zM1766.13 28.8h1.7v208.2h-1.7zM1770.67 28.8h1.13v208.2h-1.13zM1772.37 28.8h0.57v208.2h-0.57zM1779.17 28.8h0.57v208.2h-0.57zM1782.01 28.8h0.57v208.2h-0.57zM1785.41 28.8h1.13v208.2h-1.13zM1787.11 28.8h0.57v208.2h-0.57zM1788.25 28.8h0.57v208.2h-0.57zM1791.08 28.8h1.7v208.2h-1.7zM1793.92 28.8h0.57v208.2h-0.57zM1797.32 28.8h1.13v208.2h-1.13zM1800.15 28.8h0.57v208.2h-0.57zM1801.29 28.8h0.57v208.2h-0.57zM1804.69 28.8h0.57v208.2h-0.57zM1811.49 28.8h0.57v208.2h-0.57zM1814.33 28.8h1.13v208.2h-1.13zM1816.6 28.8h0.57v208.2h-0.57zM1821.7 28.8h0.57v208.2h-0.57zM1822.84 28.8h1.13v208.2h-1.13zM1827.37 28.8h1.7v208.2h-1.7zM1832.47 28.8h1.13v208.2h-1.13zM1835.88 28.8h1.13v208.2h-1.13zM1840.41 28.8h0.57v208.2h-0.57zM1843.82 28.8h1.7v208.2h-1.7zM1848.35 28.8h1.13v208.2h-1.13zM1850.05 28.8h0.57v208.2h-0.57zM1856.86 28.8h0.57v208.2h-0.57zM1859.69 28.8h0.57v208.2h-0.57zM1863.1 28.8h1.13v208.2h-1.13zM1864.8 28.8h0.57v208.2h-0.57zM1865.93 28.8h0.57v208.2h-0.57zM1868.77 28.8h1.7v208.2h-1.7zM1871.6 28.8h0.57v208.2h-0.57zM1875 28.8h1.13v208.2h-1.13zM1877.84 28.8h0.57v208.2h-0.57zM1878.97 28.8h0.57v208.2h-0.57zM1882.37 28.8h0.57v208.2h-0.57zM1889.18 28.8h0.57v208.2h-0.57zM1892.01 28.8h1.13v208.2h-1.13zM1894.28 28.8h0.57v208.2h-0.57zM1899.39 28.8h0.57v208.2h-0.57zM1900.52 28.8h1.13v208.2h-1.13zM1905.06 28.8h1.7v208.2h-1.7zM1910.16 28.8h1.13v208.2h-1.13zM1913.56 28.8h1.13v208.2h-1.13zM1918.1 28.8h0.57v208.2h-0.57z"/>
<path fill="#ec353b" d="M1176.97 28.8h1.13v208.2h-1.13zM1180.37 28.8h0.57v208.2h-0.57zM1185.48 28.8h1.13v208.2h-1.13zM1192.28 28.8h0.57v208.2h-0.57zM1198.52 28.8h1.7v208.2h-1.7zM1204.19 28.8h0.57v208.2h-0.57zM1208.72 28.8h0.57v208.2h-0.57zM1212.13 28.8h2.27v208.2h-2.27zM1218.36 28.8h0.57v208.2h-0.57zM1221.2 28.8h1.13v208.2h-1.13zM1224.6 28.8h0.57v208.2h-0.57zM1229.14 28.8h0.57v208.2h-0.57zM1230.27 28.8h0.57v208.2h-0.57zM1236.51 28.8h1.13v208.2h-1.13zM1239.91 28.8h0.57v208.2h-0.57zM1254.65 28.8h1.13v208.2h-1.13zM1258.06 28.8h0.57v208.2h-0.57zM1263.16 28.8h1.13v208.2h-1.13zM1269.96 28.8h0.57v208.2h-0.57zM1276.2 28.8h1.7v208.2h-1.7zM1281.87 28.8h0.57v208.2h-0.57zM1286.41 28.8h0.57v208.2h-0.57zM1289.81 28.8h2.27v208.2h-2.27zM1296.05 28.8h0.57v208.2h-0.57zM1298.88 28.8h1.13v208.2h-1.13zM1302.29 28.8h0.57v208.2h-0.57zM1306.82 28.8h0.57v208.2h-0.57zM1307.96 28.8h0.57v208.2h-0.57zM1314.19 28.8h1.13v208.2h-1.13zM1317.6 28.8h0.57v208.2h-0.57zM1332.34 28.8h1.13v208.2h-1.13zM1335.74 28.8h0.57v208.2h-0.57zM1340.85 28.8h1.13v208.2h-1.13zM1347.65 28.8h0.57v208.2h-0.57zM1353.89 28.8h1.7v208.2h-1.7zM1359.56 28.8h0.57v208.2h-0.57zM1364.09 28.8h0.57v208.2h-0.57zM1367.5 28.8h2.27v208.2h-2.27zM1373.73 28.8h0.57v208.2h-0.57zM1376.57 28.8h1.13v208.2h-1.13zM1379.97 28.8h0.57v208.2h-0.57zM1384.51 28.8h0.57v208.2h-0.57zM1385.64 28.8h0.57v208.2h-0.57zM1391.88 28.8h1.13v208.2h-1.13zM1395.28 28.8h0.57v208.2h-0.57zM1410.03 28.8h1.13v208.2h-1.13zM1413.43 28.8h0.57v208.2h-0.57zM1418.53 28.8h1.13v208.2h-1.13zM1425.34 28.8h0.57v208.2h-0.57zM1431.57 28.8h1.7v208.2h-1.7zM1437.24 28.8h0.57v208.2h-0.57zM1441.78 28.8h0.57v208.2h-0.57zM1445.18 28.8h2.27v208.2h-2.27zM1451.42 28.8h0.57v208.2h-0.57zM1454.25 28.8h1.13v208.2h-1.13zM1457.66 28.8h0.57v208.2h-0.57zM1462.19 28.8h0.57v208.2h-0.57zM1463.33 28.8h0.57v208.2h-0.57zM1469.57 28.8h1.13v208.2h-1.13zM1472.97 28.8h0.57v208.2h-0.57zM1487.71 28.8h1.13v208.2h-1.13zM1491.11 28.8h0.57v208.2h-0.57zM1496.22 28.8h1.13v208.2h-1.13zM1503.02 28.8h0.57v208.2h-0.57zM1509.26 28.8h1.7v208.2h-1.7zM1514.93 28.8h0.57v208.2h-0.57zM1519.47 28.8h0.57v208.2h-0.57zM1522.87 28.8h2.27v208.2h-2.27zM1529.11 28.8h0.57v208.2h-0.57zM1531.94 28.8h1.13v208.2h-1.13zM1535.34 28.8h0.57v208.2h-0.57zM1539.88 28.8h0.57v208.2h-0.57zM1541.01 28.8h0.57v208.2h-0.57zM1547.25 28.8h1.13v208.2h-1.13zM1550.65 28.8h0.57v208.2h-0.57zM1565.4 28.8h1.13v208.2h-1.13zM1568.8 28.8h0.57v208.2h-0.57zM1573.9 28.8h1.13v208.2h-1.13zM1580.71 28.8h0.57v208.2h-0.57zM1586.94 28.8h1.7v208.2h-1.7zM1592.61 28.8h0.57v208.2h-0.57zM1597.15 28.8h0.57v208.2h-0.57zM1600.55 28.8h2.27v208.2h-2.27zM1606.79 28.8h0.57v208.2h-0.57zM1609.63 28.8h1.13v208.2h-1.13zM1613.03 28.8h0.57v208.2h-0.57zM1617.56 28.8h0.57v208.2h-0.57zM1618.7 28.8h0.57v208.2h-0.57zM1624.94 28.8h1.13v208.2h-1.13zM1628.34 28.8h0.57v208.2h-0.57zM1643.08 28.8h1.13v208.2h-1.13zM1646.48 28.8h0.57v208.2h-0.57zM1651.59 28.8h1.13v208.2h-1.13zM1658.39 28.8h0.57v208.2h-0.57zM1664.63 28.8h1.7v208.2h-1.7zM1670.3 28.8h0.57v208.2h-0.57zM1674.84 28.8h0.57v208.2h-0.57zM1678.24 28.8h2.27v208.2h-2.27zM1684.48 28.8h0.57v208.2h-0.57zM1687.31 28.8h1.13v208.2h-1.13zM1690.71 28.8h0.57v208.2h-0.57zM1695.25 28.8h0.57v208.2h-0.57zM1696.38 28.8h0.57v208.2h-0.57zM1702.62 28.8h1.13v208.2h-1.13zM1706.02 28.8h0.57v208.2h-0.57zM1720.77 28.8h1.13v208.2h-1.13zM1724.17 28.8h0.57v208.2h-0.57zM1729.27 28.8h1.13v208.2h-1.13zM1736.08 28.8h0.57v208.2h-0.57zM1742.31 28.8h1.7v208.2h-1.7zM1747.98 28.8h0.57v208.2h-0.57zM1752.52 28.8h0.57v208.2h-0.57zM1755.92 28.8h2.27v208.2h-2.27zM1762.16 28.8h0.57v208.2h-0.57zM1765 28.8h1.13v208.2h-1.13zM1768.4 28.8h0.57v208.2h-0.57zM1772.94 28.8h0.57v208.2h-0.57zM1774.07 28.8h0.57v208.2h-0.57zM1780.31 28.8h1.13v208.2h-1.13zM1783.71 28.8h0.57v208.2h-0.57zM1798.45 28.8h1.13v208.2h-1.13zM1801.85 28.8h0.57v208.2h-0.57zM1806.96 28.8h1.13v208.2h-1.13zM1813.76 28.8h0.57v208.2h-0.57zM1820 28.8h1.7v208.2h-1.7zM1825.67 28.8h0.57v208.2h-0.57zM1830.21 28.8h0.57v208.2h-0.57zM1833.61 28.8h2.27v208.2h-2.27zM1839.85 28.8h0.57v208.2h-0.57zM1842.68 28.8h1.13v208.2h-1.13zM1846.08 28.8h0.57v208.2h-0.57zM1850.62 28.8h0.57v208.2h-0.57zM1851.75 28.8h0.57v208.2h-0.57zM1857.99 28.8h1.13v208.2h-1.13zM1861.39 28.8h0.57v208.2h-0.57zM1876.14 28.8h1.13v208.2h-1.13zM1879.54 28.8h0.57v208.2h-0.57zM1884.64 28.8h1.13v208.2h-1.13zM1891.45 28.8h0.57v208.2h-0.57zM1897.69 28.8h1.7v208.2h-1.7zM1903.36 28.8h0.57v208.2h-0.57zM1907.89 28.8h0.57v208.2h-0.57zM1911.29 28.8h2.27v208.2h-2.27zM1917.53 28.8h0.57v208.2h-0.57z"/>
<path fill="#c4c0b4" d="M1216.66 28.8h0.57v208.2h-0.57zM1242.75 28.8h0.57v208.2h-0.57zM1294.35 28.8h0.57v208.2h-0.57zM1320.43 28.8h0.57v208.2h-0.57zM1372.03 28.8h0.57v208.2h-0.57zM1398.12 28.8h0.57v208.2h-0.57zM1449.72 28.8h0.57v208.2h-0.57zM1475.8 28.8h0.57v208.2h-0.57zM1527.4 28.8h0.57v208.2h-0.57zM1553.49 28.8h0.57v208.2h-0.57zM1605.09 28.8h0.57v208.2h-0.57zM1631.17 28.8h0.57v208.2h-0.57zM1682.77 28.8h0.57v208.2h-0.57zM1708.86 28.8h0.57v208.2h-0.57zM1760.46 28.8h0.57v208.2h-0.57zM1786.54 28.8h0.57v208.2h-0.57zM1838.15 28.8h0.57v208.2h-0.57zM1864.23 28.8h0.57v208.2h-0.57zM1915.83 28.8h0.57v208.2h-0.57z"/>
<path fill="none" stroke="#ec353b" stroke-width="1" stroke-dasharray="1.5 12 1 5 1 21 2 7" stroke-dashoffset="27" d="M1173.85 28.8v208.2M1181.79 28.8v208.2M1193.13 28.8v208.2M1237.93 28.8v208.2M1265.15 28.8v208.2M1345.1 28.8v208.2M1358.14 28.8v208.2M1551.5 28.8v208.2M1604.81 28.8v208.2M1628.05 28.8v208.2M1634.29 28.8v208.2M1637.69 28.8v208.2M1687.03 28.8v208.2M1758.48 28.8v208.2M1779.46 28.8v208.2M1785.69 28.8v208.2M1812.91 28.8v208.2M1816.31 28.8v208.2M1831.62 28.8v208.2M1909.88 28.8v208.2"/>
<path fill="none" stroke="#2d77be" stroke-width="1" stroke-dasharray="2 9 1 3 1 16 1 5" stroke-dashoffset="0" d="M1187.46 28.8v208.2M1240.76 28.8v208.2M1262.88 28.8v208.2M1291.23 28.8v208.2M1310.51 28.8v208.2M1354.74 28.8v208.2M1401.8 28.8v208.2M1407.47 28.8v208.2M1465.88 28.8v208.2M1582.69 28.8v208.2M1611.04 28.8v208.2M1659.24 28.8v208.2M1711.98 28.8v208.2M1790.23 28.8v208.2M1800.44 28.8v208.2M1820.85 28.8v208.2M1834.46 28.8v208.2"/>
<path fill="none" stroke="#ec353b" stroke-width="1" stroke-dasharray="1 4 2 13 1 7 1.5 9" stroke-dashoffset="1" d="M1190.29 28.8v208.2M1232.26 28.8v208.2M1334.32 28.8v208.2M1343.4 28.8v208.2M1411.44 28.8v208.2M1471.55 28.8v208.2M1499.34 28.8v208.2M1513.51 28.8v208.2M1516.91 28.8v208.2M1536.19 28.8v208.2M1545.27 28.8v208.2M1648.47 28.8v208.2M1663.21 28.8v208.2M1772.08 28.8v208.2M1772.65 28.8v208.2M1846.93 28.8v208.2M1880.96 28.8v208.2M1907.61 28.8v208.2"/>
<path fill="none" stroke="#4db65a" stroke-width="1" stroke-dasharray="1 3 1 8 3 11 1 6" stroke-dashoffset="2" d="M1195.4 28.8v208.2M1279.89 28.8v208.2M1608.21 28.8v208.2M1630.89 28.8v208.2M1709.14 28.8v208.2M1764.71 28.8v208.2M1839.56 28.8v208.2"/>
<path fill="none" stroke="#c9c4b8" stroke-width="1" stroke-dasharray="1.5 12 1 5 1 21 2 7" stroke-dashoffset="7" d="M1196.53 28.8v208.2M1307.11 28.8v208.2M1353.6 28.8v208.2M1419.95 28.8v208.2M1457.37 28.8v208.2M1463.61 28.8v208.2M1591.2 28.8v208.2M1722.18 28.8v208.2M1759.04 28.8v208.2M1798.17 28.8v208.2"/>
<path fill="none" stroke="#fbae25" stroke-width="1" stroke-dasharray="2 9 1 3 1 16 1 5" stroke-dashoffset="25" d="M1199.37 28.8v208.2M1260.61 28.8v208.2M1266.28 28.8v208.2M1269.11 28.8v208.2M1276.49 28.8v208.2M1320.72 28.8v208.2M1322.98 28.8v208.2M1333.19 28.8v208.2M1450 28.8v208.2M1710.28 28.8v208.2M1747.13 28.8v208.2M1763.58 28.8v208.2M1770.38 28.8v208.2M1776.05 28.8v208.2M1887.19 28.8v208.2M1888.9 28.8v208.2M1903.64 28.8v208.2"/>
<path fill="none" stroke="#2d77be" stroke-width="1" stroke-dasharray="1.5 6 1 11 2 4 1 17" stroke-dashoffset="21" d="M1199.93 28.8v208.2M1243.6 28.8v208.2M1291.8 28.8v208.2M1346.8 28.8v208.2M1456.81 28.8v208.2M1473.25 28.8v208.2M1540.16 28.8v208.2M1572.48 28.8v208.2M1701.2 28.8v208.2M1714.25 28.8v208.2M1718.22 28.8v208.2M1756.21 28.8v208.2M1821.42 28.8v208.2M1838.43 28.8v208.2M1876.42 28.8v208.2"/>
<path fill="none" stroke="#fbae25" stroke-width="1" stroke-dasharray="1 4 2 13 1 7 1.5 9" stroke-dashoffset="14" d="M1202.77 28.8v208.2M1230.56 28.8v208.2M1258.34 28.8v208.2M1321.85 28.8v208.2M1330.92 28.8v208.2M1342.83 28.8v208.2M1621.25 28.8v208.2M1622.38 28.8v208.2M1634.86 28.8v208.2M1671.72 28.8v208.2M1724.45 28.8v208.2M1880.39 28.8v208.2"/>
<path fill="none" stroke="#ec353b" stroke-width="1" stroke-dasharray="1.5 6 1 11 2 4 1 17" stroke-dashoffset="15" d="M1205.61 28.8v208.2M1275.35 28.8v208.2M1320.15 28.8v208.2M1351.9 28.8v208.2M1363.81 28.8v208.2M1396.7 28.8v208.2M1412.01 28.8v208.2M1427.89 28.8v208.2M1459.07 28.8v208.2M1473.82 28.8v208.2M1474.39 28.8v208.2M1483.46 28.8v208.2M1501.04 28.8v208.2M1518.61 28.8v208.2M1533.92 28.8v208.2M1691.56 28.8v208.2M1782.29 28.8v208.2M1793.63 28.8v208.2M1894 28.8v208.2"/>
<path fill="none" stroke="#4db65a" stroke-width="1" stroke-dasharray="1.5 6 1 11 2 4 1 17" stroke-dashoffset="5" d="M1207.87 28.8v208.2M1366.65 28.8v208.2M1391.6 28.8v208.2M1522.58 28.8v208.2M1528.25 28.8v208.2M1566.81 28.8v208.2M1637.13 28.8v208.2M1797.6 28.8v208.2"/>
<path fill="none" stroke="#4db65a" stroke-width="1" stroke-dasharray="1 4 2 13 1 7 1.5 9" stroke-dashoffset="2" d="M1208.44 28.8v208.2M1220.92 28.8v208.2M1222.62 28.8v208.2M1250.4 28.8v208.2M1270.82 28.8v208.2M1322.42 28.8v208.2M1332.62 28.8v208.2M1336.59 28.8v208.2M1493.1 28.8v208.2M1511.24 28.8v208.2M1548.1 28.8v208.2M1577.59 28.8v208.2M1582.12 28.8v208.2M1618.98 28.8v208.2M1744.87 28.8v208.2M1762.44 28.8v208.2M1803.84 28.8v208.2M1844.67 28.8v208.2"/>
<path fill="none" stroke="#c9c4b8" stroke-width="1" stroke-dasharray="2 9 1 3 1 16 1 5" stroke-dashoffset="27" d="M1218.08 28.8v208.2M1236.79 28.8v208.2M1237.36 28.8v208.2M1285.56 28.8v208.2M1295.2 28.8v208.2M1401.24 28.8v208.2M1520.88 28.8v208.2M1684.76 28.8v208.2M1736.93 28.8v208.2M1782.86 28.8v208.2"/>
<path fill="none" stroke="#fbae25" stroke-width="1" stroke-dasharray="1.5 12 1 5 1 21 2 7" stroke-dashoffset="14" d="M1222.05 28.8v208.2M1263.44 28.8v208.2M1329.22 28.8v208.2M1521.45 28.8v208.2M1529.39 28.8v208.2M1547.53 28.8v208.2M1580.42 28.8v208.2M1783.99 28.8v208.2M1842.4 28.8v208.2M1855.44 28.8v208.2"/>
<path fill="none" stroke="#4db65a" stroke-width="1" stroke-dasharray="1.5 12 1 5 1 21 2 7" stroke-dashoffset="15" d="M1223.18 28.8v208.2M1300.3 28.8v208.2M1311.08 28.8v208.2M1410.31 28.8v208.2M1531.09 28.8v208.2M1566.25 28.8v208.2M1667.75 28.8v208.2M1708.01 28.8v208.2M1841.83 28.8v208.2M1872.45 28.8v208.2M1878.12 28.8v208.2"/>
<path fill="none" stroke="#c9c4b8" stroke-width="1" stroke-dasharray="1 4 2 13 1 7 1.5 9" stroke-dashoffset="13" d="M1224.88 28.8v208.2M1245.3 28.8v208.2M1287.83 28.8v208.2M1294.06 28.8v208.2M1351.34 28.8v208.2M1405.21 28.8v208.2M1453.97 28.8v208.2M1524.85 28.8v208.2M1558.31 28.8v208.2M1785.13 28.8v208.2"/>
<path fill="none" stroke="#2d77be" stroke-width="1" stroke-dasharray="1.5 12 1 5 1 21 2 7" stroke-dashoffset="27" d="M1225.45 28.8v208.2M1277.62 28.8v208.2M1397.83 28.8v208.2M1418.81 28.8v208.2M1451.7 28.8v208.2M1461.91 28.8v208.2M1463.04 28.8v208.2M1476.65 28.8v208.2M1616.71 28.8v208.2M1796.47 28.8v208.2M1849.2 28.8v208.2M1884.93 28.8v208.2M1895.7 28.8v208.2M1918.38 28.8v208.2"/>
<path fill="none" stroke="#fbae25" stroke-width="1" stroke-dasharray="1 3 1 8 3 11 1 6" stroke-dashoffset="3" d="M1226.02 28.8v208.2M1274.22 28.8v208.2M1317.88 28.8v208.2M1447.17 28.8v208.2M1485.16 28.8v208.2M1586.09 28.8v208.2M1596.3 28.8v208.2M1605.94 28.8v208.2M1660.94 28.8v208.2M1688.16 28.8v208.2M1698.94 28.8v208.2M1789.66 28.8v208.2M1857.71 28.8v208.2M1904.21 28.8v208.2"/>
<path fill="none" stroke="#2d77be" stroke-width="1" stroke-dasharray="1 3 1 8 3 11 1 6" stroke-dashoffset="29" d="M1227.15 28.8v208.2M1498.2 28.8v208.2M1533.36 28.8v208.2M1557.74 28.8v208.2M1579.86 28.8v208.2M1638.26 28.8v208.2M1835.59 28.8v208.2M1890.6 28.8v208.2"/>
<path fill="none" stroke="#fbae25" stroke-width="1" stroke-dasharray="1.5 6 1 11 2 4 1 17" stroke-dashoffset="13" d="M1231.69 28.8v208.2M1275.92 28.8v208.2M1465.31 28.8v208.2M1499.9 28.8v208.2M1700.64 28.8v208.2M1753.37 28.8v208.2M1789.1 28.8v208.2M1802.7 28.8v208.2M1835.03 28.8v208.2M1841.26 28.8v208.2M1888.33 28.8v208.2M1919.52 28.8v208.2"/>
<path fill="none" stroke="#c9c4b8" stroke-width="1" stroke-dasharray="1 3 1 8 3 11 1 6" stroke-dashoffset="27" d="M1234.52 28.8v208.2M1238.49 28.8v208.2M1353.04 28.8v208.2M1417.68 28.8v208.2M1429.59 28.8v208.2M1467.01 28.8v208.2M1519.75 28.8v208.2M1544.13 28.8v208.2M1584.39 28.8v208.2M1655.84 28.8v208.2M1875.85 28.8v208.2M1896.83 28.8v208.2"/>
<path fill="none" stroke="#ec353b" stroke-width="1" stroke-dasharray="1 3 1 8 3 11 1 6" stroke-dashoffset="10" d="M1235.66 28.8v208.2M1261.74 28.8v208.2M1315.61 28.8v208.2M1332.06 28.8v208.2M1421.65 28.8v208.2M1482.32 28.8v208.2M1487.43 28.8v208.2M1505.01 28.8v208.2M1561.14 28.8v208.2M1588.93 28.8v208.2M1632.02 28.8v208.2M1636.56 28.8v208.2M1663.78 28.8v208.2M1668.88 28.8v208.2M1680.79 28.8v208.2M1728.42 28.8v208.2M1730.69 28.8v208.2M1813.48 28.8v208.2M1877.56 28.8v208.2"/>
<path fill="none" stroke="#c9c4b8" stroke-width="1" stroke-dasharray="1.5 6 1 11 2 4 1 17" stroke-dashoffset="15" d="M1248.7 28.8v208.2M1416.55 28.8v208.2M1449.44 28.8v208.2M1481.19 28.8v208.2M1689.86 28.8v208.2M1725.02 28.8v208.2M1745.43 28.8v208.2M1747.7 28.8v208.2M1818.02 28.8v208.2"/>
<path fill="none" stroke="#ec353b" stroke-width="1" stroke-dasharray="2 9 1 3 1 16 1 5" stroke-dashoffset="24" d="M1250.97 28.8v208.2M1328.09 28.8v208.2M1380.82 28.8v208.2M1469.28 28.8v208.2M1575.89 28.8v208.2M1594.6 28.8v208.2M1595.73 28.8v208.2M1666.61 28.8v208.2M1683.63 28.8v208.2M1719.92 28.8v208.2M1731.26 28.8v208.2M1739.76 28.8v208.2M1783.43 28.8v208.2M1845.23 28.8v208.2M1869.05 28.8v208.2M1871.32 28.8v208.2M1882.09 28.8v208.2M1903.07 28.8v208.2"/>
<path fill="none" stroke="#4db65a" stroke-width="1" stroke-dasharray="2 9 1 3 1 16 1 5" stroke-dashoffset="16" d="M1258.91 28.8v208.2M1298.6 28.8v208.2M1337.16 28.8v208.2M1370.05 28.8v208.2M1430.72 28.8v208.2M1523.72 28.8v208.2M1565.68 28.8v208.2M1814.05 28.8v208.2"/>
<path fill="none" stroke="#2d77be" stroke-width="1" stroke-dasharray="1 4 2 13 1 7 1.5 9" stroke-dashoffset="11" d="M1395.57 28.8v208.2M1431.86 28.8v208.2M1468.15 28.8v208.2M1571.35 28.8v208.2M1662.64 28.8v208.2M1672.85 28.8v208.2M1681.36 28.8v208.2M1683.06 28.8v208.2M1727.29 28.8v208.2M1743.17 28.8v208.2M1744.3 28.8v208.2M1825.95 28.8v208.2M1866.21 28.8v208.2"/>
<rect x="1173" y="237" width="746.8" height="154.5" fill="#a57660"/>
<path fill="#ec353b" d="M1173 237h1.13v154.5h-1.13zM1178.1 237h0.57v154.5h-0.57zM1179.24 237h1.13v154.5h-1.13zM1180.94 237h0.57v154.5h-0.57zM1182.64 237h0.57v154.5h-0.57zM1183.77 237h1.7v154.5h-1.7zM1191.15 237h1.7v154.5h-1.7zM1193.41 237h1.7v154.5h-1.7zM1195.68 237h0.57v154.5h-0.57zM1197.95 237h0.57v154.5h-0.57zM1201.92 237h0.57v154.5h-0.57zM1204.75 237h0.57v154.5h-0.57zM1207.02 237h1.13v154.5h-1.13zM1208.72 237h0.57v154.5h-0.57zM1210.43 237h1.13v154.5h-1.13zM1212.13 237h0.57v154.5h-0.57zM1213.26 237h1.13v154.5h-1.13zM1216.66 237h0.57v154.5h-0.57zM1218.36 237h1.7v154.5h-1.7zM1222.33 237h1.13v154.5h-1.13zM1224.03 237h0.57v154.5h-0.57zM1225.17 237h0.57v154.5h-0.57zM1227.44 237h0.57v154.5h-0.57zM1231.41 237h0.57v154.5h-0.57zM1233.67 237h0.57v154.5h-0.57zM1235.94 237h0.57v154.5h-0.57zM1238.78 237h0.57v154.5h-0.57zM1240.48 237h0.57v154.5h-0.57zM1241.61 237h0.57v154.5h-0.57zM1244.45 237h0.57v154.5h-0.57zM1247.85 237h1.13v154.5h-1.13zM1250.69 237h1.13v154.5h-1.13zM1255.79 237h0.57v154.5h-0.57zM1256.92 237h1.13v154.5h-1.13zM1258.62 237h0.57v154.5h-0.57zM1260.33 237h0.57v154.5h-0.57zM1261.46 237h1.7v154.5h-1.7zM1268.83 237h1.7v154.5h-1.7zM1271.1 237h1.7v154.5h-1.7zM1273.37 237h0.57v154.5h-0.57zM1275.64 237h0.57v154.5h-0.57zM1279.6 237h0.57v154.5h-0.57zM1282.44 237h0.57v154.5h-0.57zM1284.71 237h1.13v154.5h-1.13zM1286.41 237h0.57v154.5h-0.57zM1288.11 237h1.13v154.5h-1.13zM1289.81 237h0.57v154.5h-0.57zM1290.95 237h1.13v154.5h-1.13zM1294.35 237h0.57v154.5h-0.57zM1296.05 237h1.7v154.5h-1.7zM1300.02 237h1.13v154.5h-1.13zM1301.72 237h0.57v154.5h-0.57zM1302.85 237h0.57v154.5h-0.57zM1305.12 237h0.57v154.5h-0.57zM1309.09 237h0.57v154.5h-0.57zM1311.36 237h0.57v154.5h-0.57zM1313.63 237h0.57v154.5h-0.57zM1316.46 237h0.57v154.5h-0.57zM1318.16 237h0.57v154.5h-0.57zM1319.3 237h0.57v154.5h-0.57zM1322.13 237h0.57v154.5h-0.57zM1325.54 237h1.13v154.5h-1.13zM1328.37 237h1.13v154.5h-1.13zM1333.47 237h0.57v154.5h-0.57zM1334.61 237h1.13v154.5h-1.13zM1336.31 237h0.57v154.5h-0.57zM1338.01 237h0.57v154.5h-0.57zM1339.14 237h1.7v154.5h-1.7zM1346.52 237h1.7v154.5h-1.7zM1348.78 237h1.7v154.5h-1.7zM1351.05 237h0.57v154.5h-0.57zM1353.32 237h0.57v154.5h-0.57zM1357.29 237h0.57v154.5h-0.57zM1360.13 237h0.57v154.5h-0.57zM1362.39 237h1.13v154.5h-1.13zM1364.09 237h0.57v154.5h-0.57zM1365.8 237h1.13v154.5h-1.13zM1367.5 237h0.57v154.5h-0.57zM1368.63 237h1.13v154.5h-1.13zM1372.03 237h0.57v154.5h-0.57zM1373.73 237h1.7v154.5h-1.7zM1377.7 237h1.13v154.5h-1.13zM1379.4 237h0.57v154.5h-0.57zM1380.54 237h0.57v154.5h-0.57zM1382.81 237h0.57v154.5h-0.57zM1386.78 237h0.57v154.5h-0.57zM1389.04 237h0.57v154.5h-0.57zM1391.31 237h0.57v154.5h-0.57zM1394.15 237h0.57v154.5h-0.57zM1395.85 237h0.57v154.5h-0.57zM1396.98 237h0.57v154.5h-0.57zM1399.82 237h0.57v154.5h-0.57zM1403.22 237h1.13v154.5h-1.13zM1406.06 237h1.13v154.5h-1.13zM1411.16 237h0.57v154.5h-0.57zM1412.29 237h1.13v154.5h-1.13zM1413.99 237h0.57v154.5h-0.57zM1415.7 237h0.57v154.5h-0.57zM1416.83 237h1.7v154.5h-1.7zM1424.2 237h1.7v154.5h-1.7zM1426.47 237h1.7v154.5h-1.7zM1428.74 237h0.57v154.5h-0.57zM1431.01 237h0.57v154.5h-0.57zM1434.98 237h0.57v154.5h-0.57zM1437.81 237h0.57v154.5h-0.57zM1440.08 237h1.13v154.5h-1.13zM1441.78 237h0.57v154.5h-0.57zM1443.48 237h1.13v154.5h-1.13zM1445.18 237h0.57v154.5h-0.57zM1446.32 237h1.13v154.5h-1.13zM1449.72 237h0.57v154.5h-0.57zM1451.42 237h1.7v154.5h-1.7zM1455.39 237h1.13v154.5h-1.13zM1457.09 237h0.57v154.5h-0.57zM1458.22 237h0.57v154.5h-0.57zM1460.49 237h0.57v154.5h-0.57zM1464.46 237h0.57v154.5h-0.57zM1466.73 237h0.57v154.5h-0.57zM1469 237h0.57v154.5h-0.57zM1471.83 237h0.57v154.5h-0.57zM1473.53 237h0.57v154.5h-0.57zM1474.67 237h0.57v154.5h-0.57zM1477.5 237h0.57v154.5h-0.57zM1480.91 237h1.13v154.5h-1.13zM1483.74 237h1.13v154.5h-1.13zM1488.84 237h0.57v154.5h-0.57zM1489.98 237h1.13v154.5h-1.13zM1491.68 237h0.57v154.5h-0.57zM1493.38 237h0.57v154.5h-0.57zM1494.52 237h1.7v154.5h-1.7zM1501.89 237h1.7v154.5h-1.7zM1504.16 237h1.7v154.5h-1.7zM1506.42 237h0.57v154.5h-0.57zM1508.69 237h0.57v154.5h-0.57zM1512.66 237h0.57v154.5h-0.57zM1515.5 237h0.57v154.5h-0.57zM1517.76 237h1.13v154.5h-1.13zM1519.47 237h0.57v154.5h-0.57zM1521.17 237h1.13v154.5h-1.13zM1522.87 237h0.57v154.5h-0.57zM1524 237h1.13v154.5h-1.13zM1527.4 237h0.57v154.5h-0.57zM1529.11 237h1.7v154.5h-1.7zM1533.07 237h1.13v154.5h-1.13zM1534.78 237h0.57v154.5h-0.57zM1535.91 237h0.57v154.5h-0.57zM1538.18 237h0.57v154.5h-0.57zM1542.15 237h0.57v154.5h-0.57zM1544.42 237h0.57v154.5h-0.57zM1546.68 237h0.57v154.5h-0.57zM1549.52 237h0.57v154.5h-0.57zM1551.22 237h0.57v154.5h-0.57zM1552.35 237h0.57v154.5h-0.57zM1555.19 237h0.57v154.5h-0.57zM1558.59 237h1.13v154.5h-1.13zM1561.43 237h1.13v154.5h-1.13zM1566.53 237h0.57v154.5h-0.57zM1567.66 237h1.13v154.5h-1.13zM1569.37 237h0.57v154.5h-0.57zM1571.07 237h0.57v154.5h-0.57zM1572.2 237h1.7v154.5h-1.7zM1579.57 237h1.7v154.5h-1.7zM1581.84 237h1.7v154.5h-1.7zM1584.11 237h0.57v154.5h-0.57zM1586.38 237h0.57v154.5h-0.57zM1590.35 237h0.57v154.5h-0.57zM1593.18 237h0.57v154.5h-0.57zM1595.45 237h1.13v154.5h-1.13zM1597.15 237h0.57v154.5h-0.57zM1598.85 237h1.13v154.5h-1.13zM1600.55 237h0.57v154.5h-0.57zM1601.69 237h1.13v154.5h-1.13zM1605.09 237h0.57v154.5h-0.57zM1606.79 237h1.7v154.5h-1.7zM1610.76 237h1.13v154.5h-1.13zM1612.46 237h0.57v154.5h-0.57zM1613.59 237h0.57v154.5h-0.57zM1615.86 237h0.57v154.5h-0.57zM1619.83 237h0.57v154.5h-0.57zM1622.1 237h0.57v154.5h-0.57zM1624.37 237h0.57v154.5h-0.57zM1627.2 237h0.57v154.5h-0.57zM1628.91 237h0.57v154.5h-0.57zM1630.04 237h0.57v154.5h-0.57zM1632.87 237h0.57v154.5h-0.57zM1636.28 237h1.13v154.5h-1.13zM1639.11 237h1.13v154.5h-1.13zM1644.22 237h0.57v154.5h-0.57zM1645.35 237h1.13v154.5h-1.13zM1647.05 237h0.57v154.5h-0.57zM1648.75 237h0.57v154.5h-0.57zM1649.89 237h1.7v154.5h-1.7zM1657.26 237h1.7v154.5h-1.7zM1659.53 237h1.7v154.5h-1.7zM1661.79 237h0.57v154.5h-0.57zM1664.06 237h0.57v154.5h-0.57zM1668.03 237h0.57v154.5h-0.57zM1670.87 237h0.57v154.5h-0.57zM1673.13 237h1.13v154.5h-1.13zM1674.84 237h0.57v154.5h-0.57zM1676.54 237h1.13v154.5h-1.13zM1678.24 237h0.57v154.5h-0.57zM1679.37 237h1.13v154.5h-1.13zM1682.77 237h0.57v154.5h-0.57zM1684.48 237h1.7v154.5h-1.7zM1688.45 237h1.13v154.5h-1.13zM1690.15 237h0.57v154.5h-0.57zM1691.28 237h0.57v154.5h-0.57zM1693.55 237h0.57v154.5h-0.57zM1697.52 237h0.57v154.5h-0.57zM1699.79 237h0.57v154.5h-0.57zM1702.05 237h0.57v154.5h-0.57zM1704.89 237h0.57v154.5h-0.57zM1706.59 237h0.57v154.5h-0.57zM1707.72 237h0.57v154.5h-0.57zM1710.56 237h0.57v154.5h-0.57zM1713.96 237h1.13v154.5h-1.13zM1716.8 237h1.13v154.5h-1.13zM1721.9 237h0.57v154.5h-0.57zM1723.03 237h1.13v154.5h-1.13zM1724.74 237h0.57v154.5h-0.57zM1726.44 237h0.57v154.5h-0.57zM1727.57 237h1.7v154.5h-1.7zM1734.94 237h1.7v154.5h-1.7zM1737.21 237h1.7v154.5h-1.7zM1739.48 237h0.57v154.5h-0.57zM1741.75 237h0.57v154.5h-0.57zM1745.72 237h0.57v154.5h-0.57zM1748.55 237h0.57v154.5h-0.57zM1750.82 237h1.13v154.5h-1.13zM1752.52 237h0.57v154.5h-0.57zM1754.22 237h1.13v154.5h-1.13zM1755.92 237h0.57v154.5h-0.57zM1757.06 237h1.13v154.5h-1.13zM1760.46 237h0.57v154.5h-0.57zM1762.16 237h1.7v154.5h-1.7zM1766.13 237h1.13v154.5h-1.13zM1767.83 237h0.57v154.5h-0.57zM1768.97 237h0.57v154.5h-0.57zM1771.23 237h0.57v154.5h-0.57zM1775.2 237h0.57v154.5h-0.57zM1777.47 237h0.57v154.5h-0.57zM1779.74 237h0.57v154.5h-0.57zM1782.57 237h0.57v154.5h-0.57zM1784.28 237h0.57v154.5h-0.57zM1785.41 237h0.57v154.5h-0.57zM1788.25 237h0.57v154.5h-0.57zM1791.65 237h1.13v154.5h-1.13zM1794.48 237h1.13v154.5h-1.13zM1799.59 237h0.57v154.5h-0.57zM1800.72 237h1.13v154.5h-1.13zM1802.42 237h0.57v154.5h-0.57zM1804.12 237h0.57v154.5h-0.57zM1805.26 237h1.7v154.5h-1.7zM1812.63 237h1.7v154.5h-1.7zM1814.9 237h1.7v154.5h-1.7zM1817.16 237h0.57v154.5h-0.57zM1819.43 237h0.57v154.5h-0.57zM1823.4 237h0.57v154.5h-0.57zM1826.24 237h0.57v154.5h-0.57zM1828.51 237h1.13v154.5h-1.13zM1830.21 237h0.57v154.5h-0.57zM1831.91 237h1.13v154.5h-1.13zM1833.61 237h0.57v154.5h-0.57zM1834.74 237h1.13v154.5h-1.13zM1838.15 237h0.57v154.5h-0.57zM1839.85 237h1.7v154.5h-1.7zM1843.82 237h1.13v154.5h-1.13zM1845.52 237h0.57v154.5h-0.57zM1846.65 237h0.57v154.5h-0.57zM1848.92 237h0.57v154.5h-0.57zM1852.89 237h0.57v154.5h-0.57zM1855.16 237h0.57v154.5h-0.57zM1857.42 237h0.57v154.5h-0.57zM1860.26 237h0.57v154.5h-0.57zM1861.96 237h0.57v154.5h-0.57zM1863.1 237h0.57v154.5h-0.57zM1865.93 237h0.57v154.5h-0.57zM1869.33 237h1.13v154.5h-1.13zM1872.17 237h1.13v154.5h-1.13zM1877.27 237h0.57v154.5h-0.57zM1878.41 237h1.13v154.5h-1.13zM1880.11 237h0.57v154.5h-0.57zM1881.81 237h0.57v154.5h-0.57zM1882.94 237h1.7v154.5h-1.7zM1890.31 237h1.7v154.5h-1.7zM1892.58 237h1.7v154.5h-1.7zM1894.85 237h0.57v154.5h-0.57zM1897.12 237h0.57v154.5h-0.57zM1901.09 237h0.57v154.5h-0.57zM1903.92 237h0.57v154.5h-0.57zM1906.19 237h1.13v154.5h-1.13zM1907.89 237h0.57v154.5h-0.57zM1909.59 237h1.13v154.5h-1.13zM1911.29 237h0.57v154.5h-0.57zM1912.43 237h1.13v154.5h-1.13zM1915.83 237h0.57v154.5h-0.57zM1917.53 237h1.7v154.5h-1.7z"/>
<path fill="#4db65a" d="M1174.13 237h0.57v154.5h-0.57zM1182.07 237h0.57v154.5h-0.57zM1183.21 237h0.57v154.5h-0.57zM1187.74 237h0.57v154.5h-0.57zM1196.82 237h1.13v154.5h-1.13zM1205.89 237h1.13v154.5h-1.13zM1214.96 237h0.57v154.5h-0.57zM1217.23 237h1.13v154.5h-1.13zM1224.6 237h0.57v154.5h-0.57zM1228.57 237h1.7v154.5h-1.7zM1239.34 237h0.57v154.5h-0.57zM1246.72 237h0.57v154.5h-0.57zM1251.82 237h0.57v154.5h-0.57zM1259.76 237h0.57v154.5h-0.57zM1260.89 237h0.57v154.5h-0.57zM1265.43 237h0.57v154.5h-0.57zM1274.5 237h1.13v154.5h-1.13zM1283.57 237h1.13v154.5h-1.13zM1292.65 237h0.57v154.5h-0.57zM1294.91 237h1.13v154.5h-1.13zM1302.29 237h0.57v154.5h-0.57zM1306.26 237h1.7v154.5h-1.7zM1317.03 237h0.57v154.5h-0.57zM1324.4 237h0.57v154.5h-0.57zM1329.5 237h0.57v154.5h-0.57zM1337.44 237h0.57v154.5h-0.57zM1338.58 237h0.57v154.5h-0.57zM1343.11 237h0.57v154.5h-0.57zM1352.19 237h1.13v154.5h-1.13zM1361.26 237h1.13v154.5h-1.13zM1370.33 237h0.57v154.5h-0.57zM1372.6 237h1.13v154.5h-1.13zM1379.97 237h0.57v154.5h-0.57zM1383.94 237h1.7v154.5h-1.7zM1394.72 237h0.57v154.5h-0.57zM1402.09 237h0.57v154.5h-0.57zM1407.19 237h0.57v154.5h-0.57zM1415.13 237h0.57v154.5h-0.57zM1416.26 237h0.57v154.5h-0.57zM1420.8 237h0.57v154.5h-0.57zM1429.87 237h1.13v154.5h-1.13zM1438.94 237h1.13v154.5h-1.13zM1448.02 237h0.57v154.5h-0.57zM1450.29 237h1.13v154.5h-1.13zM1457.66 237h0.57v154.5h-0.57zM1461.63 237h1.7v154.5h-1.7zM1472.4 237h0.57v154.5h-0.57zM1479.77 237h0.57v154.5h-0.57zM1484.88 237h0.57v154.5h-0.57zM1492.81 237h0.57v154.5h-0.57zM1493.95 237h0.57v154.5h-0.57zM1498.48 237h0.57v154.5h-0.57zM1507.56 237h1.13v154.5h-1.13zM1516.63 237h1.13v154.5h-1.13zM1525.7 237h0.57v154.5h-0.57zM1527.97 237h1.13v154.5h-1.13zM1535.34 237h0.57v154.5h-0.57zM1539.31 237h1.7v154.5h-1.7zM1550.09 237h0.57v154.5h-0.57zM1557.46 237h0.57v154.5h-0.57zM1562.56 237h0.57v154.5h-0.57zM1570.5 237h0.57v154.5h-0.57zM1571.63 237h0.57v154.5h-0.57zM1576.17 237h0.57v154.5h-0.57zM1585.24 237h1.13v154.5h-1.13zM1594.32 237h1.13v154.5h-1.13zM1603.39 237h0.57v154.5h-0.57zM1605.66 237h1.13v154.5h-1.13zM1613.03 237h0.57v154.5h-0.57zM1617 237h1.7v154.5h-1.7zM1627.77 237h0.57v154.5h-0.57zM1635.14 237h0.57v154.5h-0.57zM1640.25 237h0.57v154.5h-0.57zM1648.18 237h0.57v154.5h-0.57zM1649.32 237h0.57v154.5h-0.57zM1653.86 237h0.57v154.5h-0.57zM1662.93 237h1.13v154.5h-1.13zM1672 237h1.13v154.5h-1.13zM1681.07 237h0.57v154.5h-0.57zM1683.34 237h1.13v154.5h-1.13zM1690.71 237h0.57v154.5h-0.57zM1694.68 237h1.7v154.5h-1.7zM1705.46 237h0.57v154.5h-0.57zM1712.83 237h0.57v154.5h-0.57zM1717.93 237h0.57v154.5h-0.57zM1725.87 237h0.57v154.5h-0.57zM1727 237h0.57v154.5h-0.57zM1731.54 237h0.57v154.5h-0.57zM1740.61 237h1.13v154.5h-1.13zM1749.69 237h1.13v154.5h-1.13zM1758.76 237h0.57v154.5h-0.57zM1761.03 237h1.13v154.5h-1.13zM1768.4 237h0.57v154.5h-0.57zM1772.37 237h1.7v154.5h-1.7zM1783.14 237h0.57v154.5h-0.57zM1790.51 237h0.57v154.5h-0.57zM1795.62 237h0.57v154.5h-0.57zM1803.56 237h0.57v154.5h-0.57zM1804.69 237h0.57v154.5h-0.57zM1809.23 237h0.57v154.5h-0.57zM1818.3 237h1.13v154.5h-1.13zM1827.37 237h1.13v154.5h-1.13zM1836.44 237h0.57v154.5h-0.57zM1838.71 237h1.13v154.5h-1.13zM1846.08 237h0.57v154.5h-0.57zM1850.05 237h1.7v154.5h-1.7zM1860.83 237h0.57v154.5h-0.57zM1868.2 237h0.57v154.5h-0.57zM1873.3 237h0.57v154.5h-0.57zM1881.24 237h0.57v154.5h-0.57zM1882.37 237h0.57v154.5h-0.57zM1886.91 237h0.57v154.5h-0.57zM1895.98 237h1.13v154.5h-1.13zM1905.06 237h1.13v154.5h-1.13zM1914.13 237h0.57v154.5h-0.57zM1916.4 237h1.13v154.5h-1.13z"/>
<path fill="#fbae25" d="M1174.7 237h2.27v154.5h-2.27zM1181.51 237h0.57v154.5h-0.57zM1186.61 237h1.13v154.5h-1.13zM1188.31 237h0.57v154.5h-0.57zM1190.01 237h1.13v154.5h-1.13zM1199.08 237h2.27v154.5h-2.27zM1202.49 237h1.13v154.5h-1.13zM1205.32 237h0.57v154.5h-0.57zM1209.29 237h1.13v154.5h-1.13zM1215.53 237h0.57v154.5h-0.57zM1221.77 237h0.57v154.5h-0.57zM1225.74 237h0.57v154.5h-0.57zM1230.84 237h0.57v154.5h-0.57zM1231.97 237h1.7v154.5h-1.7zM1236.51 237h0.57v154.5h-0.57zM1238.21 237h0.57v154.5h-0.57zM1239.91 237h0.57v154.5h-0.57zM1245.01 237h1.13v154.5h-1.13zM1247.28 237h0.57v154.5h-0.57zM1248.98 237h0.57v154.5h-0.57zM1252.39 237h2.27v154.5h-2.27zM1259.19 237h0.57v154.5h-0.57zM1264.29 237h1.13v154.5h-1.13zM1266 237h0.57v154.5h-0.57zM1267.7 237h1.13v154.5h-1.13zM1276.77 237h2.27v154.5h-2.27zM1280.17 237h1.13v154.5h-1.13zM1283.01 237h0.57v154.5h-0.57zM1286.98 237h1.13v154.5h-1.13zM1293.21 237h0.57v154.5h-0.57zM1299.45 237h0.57v154.5h-0.57zM1303.42 237h0.57v154.5h-0.57zM1308.52 237h0.57v154.5h-0.57zM1309.66 237h1.7v154.5h-1.7zM1314.19 237h0.57v154.5h-0.57zM1315.9 237h0.57v154.5h-0.57zM1317.6 237h0.57v154.5h-0.57zM1322.7 237h1.13v154.5h-1.13zM1324.97 237h0.57v154.5h-0.57zM1326.67 237h0.57v154.5h-0.57zM1330.07 237h2.27v154.5h-2.27zM1336.88 237h0.57v154.5h-0.57zM1341.98 237h1.13v154.5h-1.13zM1343.68 237h0.57v154.5h-0.57zM1345.38 237h1.13v154.5h-1.13zM1354.45 237h2.27v154.5h-2.27zM1357.86 237h1.13v154.5h-1.13zM1360.69 237h0.57v154.5h-0.57zM1364.66 237h1.13v154.5h-1.13zM1370.9 237h0.57v154.5h-0.57zM1377.14 237h0.57v154.5h-0.57zM1381.11 237h0.57v154.5h-0.57zM1386.21 237h0.57v154.5h-0.57zM1387.34 237h1.7v154.5h-1.7zM1391.88 237h0.57v154.5h-0.57zM1393.58 237h0.57v154.5h-0.57zM1395.28 237h0.57v154.5h-0.57zM1400.39 237h1.13v154.5h-1.13zM1402.65 237h0.57v154.5h-0.57zM1404.35 237h0.57v154.5h-0.57zM1407.76 237h2.27v154.5h-2.27zM1414.56 237h0.57v154.5h-0.57zM1419.67 237h1.13v154.5h-1.13zM1421.37 237h0.57v154.5h-0.57zM1423.07 237h1.13v154.5h-1.13zM1432.14 237h2.27v154.5h-2.27zM1435.54 237h1.13v154.5h-1.13zM1438.38 237h0.57v154.5h-0.57zM1442.35 237h1.13v154.5h-1.13zM1448.58 237h0.57v154.5h-0.57zM1454.82 237h0.57v154.5h-0.57zM1458.79 237h0.57v154.5h-0.57zM1463.89 237h0.57v154.5h-0.57zM1465.03 237h1.7v154.5h-1.7zM1469.57 237h0.57v154.5h-0.57zM1471.27 237h0.57v154.5h-0.57zM1472.97 237h0.57v154.5h-0.57zM1478.07 237h1.13v154.5h-1.13zM1480.34 237h0.57v154.5h-0.57zM1482.04 237h0.57v154.5h-0.57zM1485.44 237h2.27v154.5h-2.27zM1492.25 237h0.57v154.5h-0.57zM1497.35 237h1.13v154.5h-1.13zM1499.05 237h0.57v154.5h-0.57zM1500.75 237h1.13v154.5h-1.13zM1509.83 237h2.27v154.5h-2.27zM1513.23 237h1.13v154.5h-1.13zM1516.06 237h0.57v154.5h-0.57zM1520.03 237h1.13v154.5h-1.13zM1526.27 237h0.57v154.5h-0.57zM1532.51 237h0.57v154.5h-0.57zM1536.48 237h0.57v154.5h-0.57zM1541.58 237h0.57v154.5h-0.57zM1542.71 237h1.7v154.5h-1.7zM1547.25 237h0.57v154.5h-0.57zM1548.95 237h0.57v154.5h-0.57zM1550.65 237h0.57v154.5h-0.57zM1555.76 237h1.13v154.5h-1.13zM1558.02 237h0.57v154.5h-0.57zM1559.73 237h0.57v154.5h-0.57zM1563.13 237h2.27v154.5h-2.27zM1569.93 237h0.57v154.5h-0.57zM1575.04 237h1.13v154.5h-1.13zM1576.74 237h0.57v154.5h-0.57zM1578.44 237h1.13v154.5h-1.13zM1587.51 237h2.27v154.5h-2.27zM1590.91 237h1.13v154.5h-1.13zM1593.75 237h0.57v154.5h-0.57zM1597.72 237h1.13v154.5h-1.13zM1603.96 237h0.57v154.5h-0.57zM1610.19 237h0.57v154.5h-0.57zM1614.16 237h0.57v154.5h-0.57zM1619.27 237h0.57v154.5h-0.57zM1620.4 237h1.7v154.5h-1.7zM1624.94 237h0.57v154.5h-0.57zM1626.64 237h0.57v154.5h-0.57zM1628.34 237h0.57v154.5h-0.57zM1633.44 237h1.13v154.5h-1.13zM1635.71 237h0.57v154.5h-0.57zM1637.41 237h0.57v154.5h-0.57zM1640.81 237h2.27v154.5h-2.27zM1647.62 237h0.57v154.5h-0.57zM1652.72 237h1.13v154.5h-1.13zM1654.42 237h0.57v154.5h-0.57zM1656.12 237h1.13v154.5h-1.13zM1665.2 237h2.27v154.5h-2.27zM1668.6 237h1.13v154.5h-1.13zM1671.43 237h0.57v154.5h-0.57zM1675.4 237h1.13v154.5h-1.13zM1681.64 237h0.57v154.5h-0.57zM1687.88 237h0.57v154.5h-0.57zM1691.85 237h0.57v154.5h-0.57zM1696.95 237h0.57v154.5h-0.57zM1698.08 237h1.7v154.5h-1.7zM1702.62 237h0.57v154.5h-0.57zM1704.32 237h0.57v154.5h-0.57zM1706.02 237h0.57v154.5h-0.57zM1711.13 237h1.13v154.5h-1.13zM1713.4 237h0.57v154.5h-0.57zM1715.1 237h0.57v154.5h-0.57zM1718.5 237h2.27v154.5h-2.27zM1725.3 237h0.57v154.5h-0.57zM1730.41 237h1.13v154.5h-1.13zM1732.11 237h0.57v154.5h-0.57zM1733.81 237h1.13v154.5h-1.13zM1742.88 237h2.27v154.5h-2.27zM1746.28 237h1.13v154.5h-1.13zM1749.12 237h0.57v154.5h-0.57zM1753.09 237h1.13v154.5h-1.13zM1759.33 237h0.57v154.5h-0.57zM1765.56 237h0.57v154.5h-0.57zM1769.53 237h0.57v154.5h-0.57zM1774.64 237h0.57v154.5h-0.57zM1775.77 237h1.7v154.5h-1.7zM1780.31 237h0.57v154.5h-0.57zM1782.01 237h0.57v154.5h-0.57zM1783.71 237h0.57v154.5h-0.57zM1788.81 237h1.13v154.5h-1.13zM1791.08 237h0.57v154.5h-0.57zM1792.78 237h0.57v154.5h-0.57zM1796.18 237h2.27v154.5h-2.27zM1802.99 237h0.57v154.5h-0.57zM1808.09 237h1.13v154.5h-1.13zM1809.79 237h0.57v154.5h-0.57zM1811.49 237h1.13v154.5h-1.13zM1820.57 237h2.27v154.5h-2.27zM1823.97 237h1.13v154.5h-1.13zM1826.8 237h0.57v154.5h-0.57zM1830.77 237h1.13v154.5h-1.13zM1837.01 237h0.57v154.5h-0.57zM1843.25 237h0.57v154.5h-0.57zM1847.22 237h0.57v154.5h-0.57zM1852.32 237h0.57v154.5h-0.57zM1853.46 237h1.7v154.5h-1.7zM1857.99 237h0.57v154.5h-0.57zM1859.69 237h0.57v154.5h-0.57zM1861.39 237h0.57v154.5h-0.57zM1866.5 237h1.13v154.5h-1.13zM1868.77 237h0.57v154.5h-0.57zM1870.47 237h0.57v154.5h-0.57zM1873.87 237h2.27v154.5h-2.27zM1880.67 237h0.57v154.5h-0.57zM1885.78 237h1.13v154.5h-1.13zM1887.48 237h0.57v154.5h-0.57zM1889.18 237h1.13v154.5h-1.13zM1898.25 237h2.27v154.5h-2.27zM1901.65 237h1.13v154.5h-1.13zM1904.49 237h0.57v154.5h-0.57zM1908.46 237h1.13v154.5h-1.13zM1914.7 237h0.57v154.5h-0.57z"/>
<path fill="#2d77be" d="M1176.97 237h1.13v154.5h-1.13zM1178.67 237h0.57v154.5h-0.57zM1180.37 237h0.57v154.5h-0.57zM1185.48 237h1.13v154.5h-1.13zM1188.88 237h1.13v154.5h-1.13zM1195.11 237h0.57v154.5h-0.57zM1196.25 237h0.57v154.5h-0.57zM1198.52 237h0.57v154.5h-0.57zM1201.35 237h0.57v154.5h-0.57zM1203.62 237h1.13v154.5h-1.13zM1208.16 237h0.57v154.5h-0.57zM1211.56 237h0.57v154.5h-0.57zM1212.69 237h0.57v154.5h-0.57zM1214.39 237h0.57v154.5h-0.57zM1216.1 237h0.57v154.5h-0.57zM1220.06 237h1.7v154.5h-1.7zM1223.47 237h0.57v154.5h-0.57zM1226.3 237h1.13v154.5h-1.13zM1228 237h0.57v154.5h-0.57zM1230.27 237h0.57v154.5h-0.57zM1234.24 237h0.57v154.5h-0.57zM1235.38 237h0.57v154.5h-0.57zM1237.08 237h1.13v154.5h-1.13zM1241.05 237h0.57v154.5h-0.57zM1242.18 237h2.27v154.5h-2.27zM1246.15 237h0.57v154.5h-0.57zM1249.55 237h1.13v154.5h-1.13zM1254.65 237h1.13v154.5h-1.13zM1256.36 237h0.57v154.5h-0.57zM1258.06 237h0.57v154.5h-0.57zM1263.16 237h1.13v154.5h-1.13zM1266.56 237h1.13v154.5h-1.13zM1272.8 237h0.57v154.5h-0.57zM1273.93 237h0.57v154.5h-0.57zM1276.2 237h0.57v154.5h-0.57zM1279.04 237h0.57v154.5h-0.57zM1281.31 237h1.13v154.5h-1.13zM1285.84 237h0.57v154.5h-0.57zM1289.24 237h0.57v154.5h-0.57zM1290.38 237h0.57v154.5h-0.57zM1292.08 237h0.57v154.5h-0.57zM1293.78 237h0.57v154.5h-0.57zM1297.75 237h1.7v154.5h-1.7zM1301.15 237h0.57v154.5h-0.57zM1303.99 237h1.13v154.5h-1.13zM1305.69 237h0.57v154.5h-0.57zM1307.96 237h0.57v154.5h-0.57zM1311.93 237h0.57v154.5h-0.57zM1313.06 237h0.57v154.5h-0.57zM1314.76 237h1.13v154.5h-1.13zM1318.73 237h0.57v154.5h-0.57zM1319.86 237h2.27v154.5h-2.27zM1323.83 237h0.57v154.5h-0.57zM1327.24 237h1.13v154.5h-1.13zM1332.34 237h1.13v154.5h-1.13zM1334.04 237h0.57v154.5h-0.57zM1335.74 237h0.57v154.5h-0.57zM1340.85 237h1.13v154.5h-1.13zM1344.25 237h1.13v154.5h-1.13zM1350.49 237h0.57v154.5h-0.57zM1351.62 237h0.57v154.5h-0.57zM1353.89 237h0.57v154.5h-0.57zM1356.72 237h0.57v154.5h-0.57zM1358.99 237h1.13v154.5h-1.13zM1363.53 237h0.57v154.5h-0.57zM1366.93 237h0.57v154.5h-0.57zM1368.06 237h0.57v154.5h-0.57zM1369.77 237h0.57v154.5h-0.57zM1371.47 237h0.57v154.5h-0.57zM1375.44 237h1.7v154.5h-1.7zM1378.84 237h0.57v154.5h-0.57zM1381.67 237h1.13v154.5h-1.13zM1383.37 237h0.57v154.5h-0.57zM1385.64 237h0.57v154.5h-0.57zM1389.61 237h0.57v154.5h-0.57zM1390.75 237h0.57v154.5h-0.57zM1392.45 237h1.13v154.5h-1.13zM1396.42 237h0.57v154.5h-0.57zM1397.55 237h2.27v154.5h-2.27zM1401.52 237h0.57v154.5h-0.57zM1404.92 237h1.13v154.5h-1.13zM1410.03 237h1.13v154.5h-1.13zM1411.73 237h0.57v154.5h-0.57zM1413.43 237h0.57v154.5h-0.57zM1418.53 237h1.13v154.5h-1.13zM1421.93 237h1.13v154.5h-1.13zM1428.17 237h0.57v154.5h-0.57zM1429.3 237h0.57v154.5h-0.57zM1431.57 237h0.57v154.5h-0.57zM1434.41 237h0.57v154.5h-0.57zM1436.68 237h1.13v154.5h-1.13zM1441.21 237h0.57v154.5h-0.57zM1444.62 237h0.57v154.5h-0.57zM1445.75 237h0.57v154.5h-0.57zM1447.45 237h0.57v154.5h-0.57zM1449.15 237h0.57v154.5h-0.57zM1453.12 237h1.7v154.5h-1.7zM1456.52 237h0.57v154.5h-0.57zM1459.36 237h1.13v154.5h-1.13zM1461.06 237h0.57v154.5h-0.57zM1463.33 237h0.57v154.5h-0.57zM1467.3 237h0.57v154.5h-0.57zM1468.43 237h0.57v154.5h-0.57zM1470.13 237h1.13v154.5h-1.13zM1474.1 237h0.57v154.5h-0.57zM1475.24 237h2.27v154.5h-2.27zM1479.21 237h0.57v154.5h-0.57zM1482.61 237h1.13v154.5h-1.13zM1487.71 237h1.13v154.5h-1.13zM1489.41 237h0.57v154.5h-0.57zM1491.11 237h0.57v154.5h-0.57zM1496.22 237h1.13v154.5h-1.13zM1499.62 237h1.13v154.5h-1.13zM1505.86 237h0.57v154.5h-0.57zM1506.99 237h0.57v154.5h-0.57zM1509.26 237h0.57v154.5h-0.57zM1512.09 237h0.57v154.5h-0.57zM1514.36 237h1.13v154.5h-1.13zM1518.9 237h0.57v154.5h-0.57zM1522.3 237h0.57v154.5h-0.57zM1523.43 237h0.57v154.5h-0.57zM1525.14 237h0.57v154.5h-0.57zM1526.84 237h0.57v154.5h-0.57zM1530.81 237h1.7v154.5h-1.7zM1534.21 237h0.57v154.5h-0.57zM1537.04 237h1.13v154.5h-1.13zM1538.74 237h0.57v154.5h-0.57zM1541.01 237h0.57v154.5h-0.57zM1544.98 237h0.57v154.5h-0.57zM1546.12 237h0.57v154.5h-0.57zM1547.82 237h1.13v154.5h-1.13zM1551.79 237h0.57v154.5h-0.57zM1552.92 237h2.27v154.5h-2.27zM1556.89 237h0.57v154.5h-0.57zM1560.29 237h1.13v154.5h-1.13zM1565.4 237h1.13v154.5h-1.13zM1567.1 237h0.57v154.5h-0.57zM1568.8 237h0.57v154.5h-0.57zM1573.9 237h1.13v154.5h-1.13zM1577.3 237h1.13v154.5h-1.13zM1583.54 237h0.57v154.5h-0.57zM1584.68 237h0.57v154.5h-0.57zM1586.94 237h0.57v154.5h-0.57zM1589.78 237h0.57v154.5h-0.57zM1592.05 237h1.13v154.5h-1.13zM1596.58 237h0.57v154.5h-0.57zM1599.99 237h0.57v154.5h-0.57zM1601.12 237h0.57v154.5h-0.57zM1602.82 237h0.57v154.5h-0.57zM1604.52 237h0.57v154.5h-0.57zM1608.49 237h1.7v154.5h-1.7zM1611.89 237h0.57v154.5h-0.57zM1614.73 237h1.13v154.5h-1.13zM1616.43 237h0.57v154.5h-0.57zM1618.7 237h0.57v154.5h-0.57zM1622.67 237h0.57v154.5h-0.57zM1623.8 237h0.57v154.5h-0.57zM1625.5 237h1.13v154.5h-1.13zM1629.47 237h0.57v154.5h-0.57zM1630.61 237h2.27v154.5h-2.27zM1634.58 237h0.57v154.5h-0.57zM1637.98 237h1.13v154.5h-1.13zM1643.08 237h1.13v154.5h-1.13zM1644.78 237h0.57v154.5h-0.57zM1646.48 237h0.57v154.5h-0.57zM1651.59 237h1.13v154.5h-1.13zM1654.99 237h1.13v154.5h-1.13zM1661.23 237h0.57v154.5h-0.57zM1662.36 237h0.57v154.5h-0.57zM1664.63 237h0.57v154.5h-0.57zM1667.46 237h0.57v154.5h-0.57zM1669.73 237h1.13v154.5h-1.13zM1674.27 237h0.57v154.5h-0.57zM1677.67 237h0.57v154.5h-0.57zM1678.81 237h0.57v154.5h-0.57zM1680.51 237h0.57v154.5h-0.57zM1682.21 237h0.57v154.5h-0.57zM1686.18 237h1.7v154.5h-1.7zM1689.58 237h0.57v154.5h-0.57zM1692.41 237h1.13v154.5h-1.13zM1694.12 237h0.57v154.5h-0.57zM1696.38 237h0.57v154.5h-0.57zM1700.35 237h0.57v154.5h-0.57zM1701.49 237h0.57v154.5h-0.57zM1703.19 237h1.13v154.5h-1.13zM1707.16 237h0.57v154.5h-0.57zM1708.29 237h2.27v154.5h-2.27zM1712.26 237h0.57v154.5h-0.57zM1715.66 237h1.13v154.5h-1.13zM1720.77 237h1.13v154.5h-1.13zM1722.47 237h0.57v154.5h-0.57zM1724.17 237h0.57v154.5h-0.57zM1729.27 237h1.13v154.5h-1.13zM1732.67 237h1.13v154.5h-1.13zM1738.91 237h0.57v154.5h-0.57zM1740.05 237h0.57v154.5h-0.57zM1742.31 237h0.57v154.5h-0.57zM1745.15 237h0.57v154.5h-0.57zM1747.42 237h1.13v154.5h-1.13zM1751.95 237h0.57v154.5h-0.57zM1755.36 237h0.57v154.5h-0.57zM1756.49 237h0.57v154.5h-0.57zM1758.19 237h0.57v154.5h-0.57zM1759.89 237h0.57v154.5h-0.57zM1763.86 237h1.7v154.5h-1.7zM1767.26 237h0.57v154.5h-0.57zM1770.1 237h1.13v154.5h-1.13zM1771.8 237h0.57v154.5h-0.57zM1774.07 237h0.57v154.5h-0.57zM1778.04 237h0.57v154.5h-0.57zM1779.17 237h0.57v154.5h-0.57zM1780.87 237h1.13v154.5h-1.13zM1784.84 237h0.57v154.5h-0.57zM1785.98 237h2.27v154.5h-2.27zM1789.95 237h0.57v154.5h-0.57zM1793.35 237h1.13v154.5h-1.13zM1798.45 237h1.13v154.5h-1.13zM1800.15 237h0.57v154.5h-0.57zM1801.85 237h0.57v154.5h-0.57zM1806.96 237h1.13v154.5h-1.13zM1810.36 237h1.13v154.5h-1.13zM1816.6 237h0.57v154.5h-0.57zM1817.73 237h0.57v154.5h-0.57zM1820 237h0.57v154.5h-0.57zM1822.84 237h0.57v154.5h-0.57zM1825.1 237h1.13v154.5h-1.13zM1829.64 237h0.57v154.5h-0.57zM1833.04 237h0.57v154.5h-0.57zM1834.18 237h0.57v154.5h-0.57zM1835.88 237h0.57v154.5h-0.57zM1837.58 237h0.57v154.5h-0.57zM1841.55 237h1.7v154.5h-1.7zM1844.95 237h0.57v154.5h-0.57zM1847.79 237h1.13v154.5h-1.13zM1849.49 237h0.57v154.5h-0.57zM1851.75 237h0.57v154.5h-0.57zM1855.72 237h0.57v154.5h-0.57zM1856.86 237h0.57v154.5h-0.57zM1858.56 237h1.13v154.5h-1.13zM1862.53 237h0.57v154.5h-0.57zM1863.66 237h2.27v154.5h-2.27zM1867.63 237h0.57v154.5h-0.57zM1871.03 237h1.13v154.5h-1.13zM1876.14 237h1.13v154.5h-1.13zM1877.84 237h0.57v154.5h-0.57zM1879.54 237h0.57v154.5h-0.57zM1884.64 237h1.13v154.5h-1.13zM1888.05 237h1.13v154.5h-1.13zM1894.28 237h0.57v154.5h-0.57zM1895.42 237h0.57v154.5h-0.57zM1897.69 237h0.57v154.5h-0.57zM1900.52 237h0.57v154.5h-0.57zM1902.79 237h1.13v154.5h-1.13zM1907.32 237h0.57v154.5h-0.57zM1910.73 237h0.57v154.5h-0.57zM1911.86 237h0.57v154.5h-0.57zM1913.56 237h0.57v154.5h-0.57zM1915.26 237h0.57v154.5h-0.57zM1919.23 237h0.57v154.5h-0.57z"/>
<path fill="#c4c0b4" d="M1192.85 237h0.57v154.5h-0.57zM1234.81 237h0.57v154.5h-0.57zM1270.53 237h0.57v154.5h-0.57zM1312.49 237h0.57v154.5h-0.57zM1348.22 237h0.57v154.5h-0.57zM1390.18 237h0.57v154.5h-0.57zM1425.9 237h0.57v154.5h-0.57zM1467.86 237h0.57v154.5h-0.57zM1503.59 237h0.57v154.5h-0.57zM1545.55 237h0.57v154.5h-0.57zM1581.27 237h0.57v154.5h-0.57zM1623.23 237h0.57v154.5h-0.57zM1658.96 237h0.57v154.5h-0.57zM1700.92 237h0.57v154.5h-0.57zM1736.64 237h0.57v154.5h-0.57zM1778.61 237h0.57v154.5h-0.57zM1814.33 237h0.57v154.5h-0.57zM1856.29 237h0.57v154.5h-0.57zM1892.01 237h0.57v154.5h-0.57z"/>
<path fill="none" stroke="#ec353b" stroke-width="1" stroke-dasharray="1 3 1 8 3 11 1 6" stroke-dashoffset="15" d="M1174.98 237v154.5M1220.35 237v154.5M1283.29 237v154.5M1284.42 237v154.5M1453.4 237v154.5M1468.71 237v154.5M1550.94 237v154.5M1630.89 237v154.5M1656.41 237v154.5M1715.38 237v154.5M1865.65 237v154.5M1905.34 237v154.5"/>
<path fill="none" stroke="#ec353b" stroke-width="1" stroke-dasharray="1 4 2 13 1 7 1.5 9" stroke-dashoffset="5" d="M1177.25 237v154.5M1314.48 237v154.5M1341.13 237v154.5M1386.49 237v154.5M1531.66 237v154.5M1687.59 237v154.5M1781.16 237v154.5"/>
<path fill="none" stroke="#fbae25" stroke-width="1" stroke-dasharray="1 3 1 8 3 11 1 6" stroke-dashoffset="18" d="M1178.95 237v154.5M1305.41 237v154.5M1384.79 237v154.5M1413.14 237v154.5M1418.25 237v154.5M1470.42 237v154.5M1472.68 237v154.5M1559.44 237v154.5M1592.9 237v154.5M1617.85 237v154.5M1658.11 237v154.5M1709.14 237v154.5M1773.22 237v154.5M1800.44 237v154.5M1846.93 237v154.5"/>
<path fill="none" stroke="#2d77be" stroke-width="1" stroke-dasharray="2 9 1 3 1 16 1 5" stroke-dashoffset="14" d="M1179.52 237v154.5M1259.47 237v154.5M1265.71 237v154.5M1277.05 237v154.5M1366.65 237v154.5M1462.48 237v154.5M1586.09 237v154.5M1768.68 237v154.5M1827.09 237v154.5M1835.59 237v154.5"/>
<path fill="none" stroke="#ec353b" stroke-width="1" stroke-dasharray="1.5 12 1 5 1 21 2 7" stroke-dashoffset="4" d="M1180.66 237v154.5M1306.54 237v154.5M1387.63 237v154.5M1402.37 237v154.5M1455.11 237v154.5M1532.22 237v154.5M1571.92 237v154.5M1603.1 237v154.5"/>
<path fill="none" stroke="#fbae25" stroke-width="1" stroke-dasharray="1 4 2 13 1 7 1.5 9" stroke-dashoffset="19" d="M1186.33 237v154.5M1324.68 237v154.5M1387.06 237v154.5M1447.73 237v154.5M1740.9 237v154.5M1803.84 237v154.5"/>
<path fill="none" stroke="#2d77be" stroke-width="1" stroke-dasharray="1.5 6 1 11 2 4 1 17" stroke-dashoffset="20" d="M1192 237v154.5M1303.7 237v154.5M1366.08 237v154.5M1427.32 237v154.5M1484.59 237v154.5M1535.63 237v154.5M1588.36 237v154.5M1608.21 237v154.5M1752.8 237v154.5M1754.51 237v154.5"/>
<path fill="none" stroke="#4db65a" stroke-width="1" stroke-dasharray="1.5 6 1 11 2 4 1 17" stroke-dashoffset="12" d="M1193.7 237v154.5M1247.57 237v154.5M1277.62 237v154.5M1301.44 237v154.5M1353.6 237v154.5M1397.27 237v154.5M1464.18 237v154.5M1573.62 237v154.5M1633.73 237v154.5M1679.66 237v154.5M1685.89 237v154.5M1716.51 237v154.5M1723.89 237v154.5M1726.72 237v154.5M1785.69 237v154.5M1893.43 237v154.5M1915.55 237v154.5M1917.82 237v154.5"/>
<path fill="none" stroke="#c9c4b8" stroke-width="1" stroke-dasharray="1 4 2 13 1 7 1.5 9" stroke-dashoffset="5" d="M1198.8 237v154.5M1274.78 237v154.5M1298.6 237v154.5M1326.95 237v154.5M1549.24 237v154.5M1563.41 237v154.5M1676.25 237v154.5M1914.98 237v154.5"/>
<path fill="none" stroke="#ec353b" stroke-width="1" stroke-dasharray="1.5 6 1 11 2 4 1 17" stroke-dashoffset="21" d="M1201.07 237v154.5M1391.03 237v154.5M1413.71 237v154.5M1565.11 237v154.5M1625.79 237v154.5M1637.69 237v154.5M1638.83 237v154.5M1686.46 237v154.5M1882.66 237v154.5M1903.64 237v154.5M1914.41 237v154.5"/>
<path fill="none" stroke="#4db65a" stroke-width="1" stroke-dasharray="2 9 1 3 1 16 1 5" stroke-dashoffset="15" d="M1209.01 237v154.5M1226.02 237v154.5M1294.06 237v154.5M1320.15 237v154.5M1368.35 237v154.5M1475.52 237v154.5M1476.65 237v154.5M1494.8 237v154.5M1709.71 237v154.5M1720.48 237v154.5M1743.73 237v154.5M1746 237v154.5M1753.37 237v154.5M1825.95 237v154.5M1880.39 237v154.5M1897.97 237v154.5"/>
<path fill="none" stroke="#4db65a" stroke-width="1" stroke-dasharray="1.5 12 1 5 1 21 2 7" stroke-dashoffset="7" d="M1211.28 237v154.5M1279.32 237v154.5M1315.61 237v154.5M1421.65 237v154.5M1432.99 237v154.5M1453.97 237v154.5M1486.86 237v154.5M1504.44 237v154.5M1552.07 237v154.5M1615.58 237v154.5M1630.32 237v154.5M1808.38 237v154.5M1833.89 237v154.5"/>
<path fill="none" stroke="#c9c4b8" stroke-width="1" stroke-dasharray="1.5 12 1 5 1 21 2 7" stroke-dashoffset="27" d="M1212.41 237v154.5M1234.52 237v154.5M1403.5 237v154.5M1533.92 237v154.5M1621.82 237v154.5M1631.46 237v154.5M1770.95 237v154.5M1773.79 237v154.5M1793.07 237v154.5M1863.95 237v154.5"/>
<path fill="none" stroke="#2d77be" stroke-width="1" stroke-dasharray="1 4 2 13 1 7 1.5 9" stroke-dashoffset="15" d="M1213.54 237v154.5M1231.12 237v154.5M1287.83 237v154.5M1329.22 237v154.5M1377.99 237v154.5M1425.62 237v154.5M1455.67 237v154.5M1494.23 237v154.5M1560.01 237v154.5M1595.73 237v154.5M1605.37 237v154.5M1645.63 237v154.5M1726.15 237v154.5M1763.01 237v154.5M1821.98 237v154.5M1824.82 237v154.5M1896.27 237v154.5"/>
<path fill="none" stroke="#c9c4b8" stroke-width="1" stroke-dasharray="1 3 1 8 3 11 1 6" stroke-dashoffset="26" d="M1227.72 237v154.5M1254.37 237v154.5M1288.96 237v154.5M1322.98 237v154.5M1336.03 237v154.5M1427.89 237v154.5M1431.29 237v154.5M1493.66 237v154.5M1546.4 237v154.5M1616.15 237v154.5M1651.3 237v154.5M1858.28 237v154.5M1876.99 237v154.5"/>
<path fill="none" stroke="#c9c4b8" stroke-width="1" stroke-dasharray="2 9 1 3 1 16 1 5" stroke-dashoffset="22" d="M1235.09 237v154.5M1268.55 237v154.5M1424.49 237v154.5M1480.62 237v154.5M1528.25 237v154.5M1802.14 237v154.5M1918.95 237v154.5"/>
<path fill="none" stroke="#4db65a" stroke-width="1" stroke-dasharray="1 4 2 13 1 7 1.5 9" stroke-dashoffset="12" d="M1235.66 237v154.5M1241.33 237v154.5M1258.34 237v154.5M1264.58 237v154.5M1304.84 237v154.5M1315.05 237v154.5M1338.29 237v154.5M1388.19 237v154.5M1397.83 237v154.5M1444.9 237v154.5M1513.51 237v154.5M1567.38 237v154.5M1670.02 237v154.5M1751.1 237v154.5M1806.67 237v154.5M1858.84 237v154.5"/>
<path fill="none" stroke="#ec353b" stroke-width="1" stroke-dasharray="2 9 1 3 1 16 1 5" stroke-dashoffset="12" d="M1249.83 237v154.5M1310.51 237v154.5M1332.06 237v154.5M1348.5 237v154.5M1381.39 237v154.5M1405.77 237v154.5M1410.88 237v154.5M1469.85 237v154.5M1543 237v154.5M1675.69 237v154.5M1853.74 237v154.5M1870.75 237v154.5M1871.32 237v154.5"/>
<path fill="none" stroke="#fbae25" stroke-width="1" stroke-dasharray="1.5 6 1 11 2 4 1 17" stroke-dashoffset="4" d="M1250.97 237v154.5M1302.57 237v154.5M1313.34 237v154.5M1375.15 237v154.5M1379.12 237v154.5M1490.83 237v154.5M1561.14 237v154.5M1572.48 237v154.5M1580.99 237v154.5M1633.16 237v154.5M1634.86 237v154.5M1650.17 237v154.5M1757.34 237v154.5M1807.81 237v154.5M1819.72 237v154.5M1827.65 237v154.5M1884.93 237v154.5"/>
<path fill="none" stroke="#fbae25" stroke-width="1" stroke-dasharray="2 9 1 3 1 16 1 5" stroke-dashoffset="27" d="M1252.1 237v154.5M1428.45 237v154.5M1438.09 237v154.5M1496.5 237v154.5M1680.22 237v154.5M1695.53 237v154.5M1764.71 237v154.5M1866.21 237v154.5"/>
<path fill="none" stroke="#2d77be" stroke-width="1" stroke-dasharray="1 3 1 8 3 11 1 6" stroke-dashoffset="20" d="M1275.35 237v154.5M1334.89 237v154.5M1471.55 237v154.5M1490.26 237v154.5M1503.87 237v154.5M1589.5 237v154.5M1624.65 237v154.5M1650.74 237v154.5M1735.79 237v154.5M1783.99 237v154.5M1797.03 237v154.5M1822.55 237v154.5M1870.18 237v154.5"/>
<path fill="none" stroke="#4db65a" stroke-width="1" stroke-dasharray="1 3 1 8 3 11 1 6" stroke-dashoffset="15" d="M1275.92 237v154.5M1290.1 237v154.5M1354.74 237v154.5M1360.98 237v154.5M1414.28 237v154.5M1426.75 237v154.5M1470.98 237v154.5M1580.42 237v154.5M1628.62 237v154.5M1657.54 237v154.5M1669.45 237v154.5M1684.76 237v154.5M1724.45 237v154.5"/>
<path fill="none" stroke="#2d77be" stroke-width="1" stroke-dasharray="1.5 12 1 5 1 21 2 7" stroke-dashoffset="17" d="M1280.46 237v154.5M1317.31 237v154.5M1369.48 237v154.5M1423.35 237v154.5M1439.8 237v154.5M1448.3 237v154.5M1450.57 237v154.5M1523.15 237v154.5M1568.51 237v154.5M1640.53 237v154.5M1700.07 237v154.5M1732.39 237v154.5M1736.36 237v154.5M1757.91 237v154.5M1777.19 237v154.5M1780.02 237v154.5M1841.26 237v154.5M1873.59 237v154.5M1887.76 237v154.5"/>
<path fill="none" stroke="#fbae25" stroke-width="1" stroke-dasharray="1.5 12 1 5 1 21 2 7" stroke-dashoffset="25" d="M1368.91 237v154.5M1469.28 237v154.5M1581.56 237v154.5M1697.8 237v154.5M1714.25 237v154.5M1771.52 237v154.5M1787.39 237v154.5M1794.2 237v154.5M1835.03 237v154.5"/>
<path fill="none" stroke="#c9c4b8" stroke-width="1" stroke-dasharray="1.5 6 1 11 2 4 1 17" stroke-dashoffset="28" d="M1370.62 237v154.5M1442.06 237v154.5M1442.63 237v154.5M1478.35 237v154.5M1601.97 237v154.5M1607.64 237v154.5M1753.94 237v154.5M1861.68 237v154.5"/>
</g>
</g>
<path d="M1173 391.2H1919.3V28.8" fill="none" stroke="#8b8d8d" stroke-width="1.1"/>
<rect x="1829.5" y="347" width="89.6" height="44.3" fill="none" stroke="#e8333a" stroke-width="1.3"/>
<rect x="669" y="17.2" width="145.8" height="9.3" fill="#10a955"/>
<rect x="814.5" y="17.2" width="145.8" height="9.3" fill="#633f93"/>
<rect x="661.7" y="391.7" width="145.5" height="9.3" fill="#10a955"/>
<rect x="806.9" y="391.7" width="145.5" height="9.3" fill="#633f93"/>
<rect x="1287.9" y="18.3" width="78" height="9.3" fill="#10a955"/>
<rect x="1365.5" y="18.3" width="78" height="9.3" fill="#633f93"/>
<rect x="1443.2" y="18.3" width="78" height="9.3" fill="#10a955"/>
<rect x="1520.8" y="18.3" width="78" height="9.3" fill="#633f93"/>
<rect x="1598.5" y="18.3" width="78" height="9.3" fill="#10a955"/>
<rect x="1676.1" y="18.3" width="78" height="9.3" fill="#633f93"/>
<rect x="1297.9" y="393.6" width="78" height="9.3" fill="#10a955"/>
<rect x="1375.6" y="393.6" width="78" height="9.3" fill="#633f93"/>
<rect x="1453.2" y="393.6" width="78" height="9.3" fill="#10a955"/>
<rect x="1530.9" y="393.6" width="78" height="9.3" fill="#633f93"/>
<rect x="1608.5" y="393.6" width="78" height="9.3" fill="#10a955"/>
<rect x="1686.2" y="393.6" width="78" height="9.3" fill="#633f93"/>
<rect x="1920" y="30" width="38.2" height="207" fill="#92c5e0"/>
<rect x="1920" y="236.5" width="38.2" height="153.5" fill="#0e76b6"/>
<text x="1928.3" y="134.6" font-size="29.3" text-anchor="middle" fill="#fff" stroke="#fff" transform="rotate(90 1928.3 134.6)">Type I</text>
<text x="1928.3" y="313.8" font-size="29.3" text-anchor="middle" fill="#fff" stroke="#fff" transform="rotate(90 1928.3 313.8)">Type II</text>
<text x="2013" y="209.6" font-size="29.2" text-anchor="middle" stroke="#000" transform="rotate(90 2013 209.6)">Satellite repeat type</text>
<path d="M83.3 26V388.2M95 415.9H437M485 416.2H1118.5M1173 418L1919.5 415.4" stroke="#000" stroke-width="2.4" fill="none"/>
<text x="63" y="210" font-size="35" text-anchor="middle" stroke="#000" transform="rotate(-90 63 210)">525 repeats</text>
<text x="268.4" y="451.8" font-size="32.5" text-anchor="middle" stroke="#000" textLength="345.5" lengthAdjust="spacingAndGlyphs">1 * repeat unit (137 bp)</text>
<text x="803.5" y="451.8" font-size="32.5" text-anchor="middle" stroke="#000" textLength="345.5" lengthAdjust="spacingAndGlyphs">3 * repeat unit (137 bp)</text>
<text x="1551" y="453" font-size="32.5" text-anchor="middle" stroke="#000" textLength="345.5" lengthAdjust="spacingAndGlyphs">8 * repeat unit (137 bp)</text>
<text x="-1.3" y="30.9" font-size="61" stroke="#000">a</text>
<text x="-1" y="541" font-size="61" stroke="#000">b</text>
<path d="M168.5 596.1L138.7 535.7M168.5 596.1L164.1 549.2M168.5 596.1L130 565.7M168.5 596.1L132.6 564.4M168.5 596.1L119 578.4M168.5 596.1L120.3 582.6M168.5 596.1L119.9 586.8M168.5 596.1L120.3 590.6M168.5 596.1L135.5 594M168.5 596.1L114 608.8M168.5 596.1L122 610.9M168.5 596.1L142.3 612.2M168.5 596.1L136.4 609.7M168.5 596.1L150.8 618.1M168.5 596.1L160.1 624.9M168.5 596.1L168.1 620.3M168.5 596.1L176.1 603.8M168.5 596.1L152.5 571.6M168.5 596.1L157.5 566.5M168.5 596.1L153.3 577.5M168.5 596.1L161.3 560.6M168.5 596.1L150.8 586M168.5 596.1L127.9 607.1M168.5 596.1L164.3 619.8" stroke="#1267b0" stroke-width="3.4" stroke-linecap="round" fill="none"/>
<path d="M178.2 602.6L167.6 621M173.5 600L163.5 618" stroke="#1267b0" stroke-width="3.4" stroke-linecap="round" fill="none"/>
<path d="M168.5 596.1L119 578.4L120.3 591.1L135.5 594.5z" fill="#1267b0"/>
<path d="M168.5 596.1L151.6 570.8L158.4 564.8L163.5 567.4z" fill="#1267b0"/>
<path d="M168.5 596.1L121.2 605.4L122.8 610.9L143.1 612.2L152.5 616.4z" fill="#1267b0"/>
<path d="M163.3 561L166.8 593.6" stroke="#000" stroke-width="3.8" stroke-linecap="butt" fill="none"/>
<path d="M150.1 561.2L154.1 569.9M135.7 567.5L139.6 570.6M150.1 581.1L155.8 585.6M125.5 581.5L129.6 583.3M145.7 591.2L150.8 593.6M139.1 604.6L143.3 604.1M167.7 601.4L172.6 608M163.6 613.1L166 615.6M157.7 601.4L160.7 604.4M160.9 587.7L166.8 594.5" stroke="#000" stroke-width="2.6" stroke-linecap="butt" fill="none"/>
<path d="M139.8 570.8L159.2 587.7M140.6 586.8L166 594.9M145.7 594.6L160.9 595.5M138.1 603.8L164.3 598.3M118.2 608.2L120.7 608.8M126.2 609L131.5 608.4M154.1 569.9L159.2 579.2" stroke="#000" stroke-width="1.3" stroke-linecap="butt" fill="none"/>
<path d="M166.3 589L166.9 593.5Q167.8 598.6 175 600.7L1070 809.8L1079.6 810.1" stroke="#000" stroke-width="3.5" fill="none" stroke-linecap="round" stroke-linejoin="round"/>
<path d="M1079.6 810.1L1122.3 758.5M1079.6 810.1L1110.9 782.6M1079.6 810.1L1092.7 779.6M1079.6 810.1L1078.3 792.3M1079.6 810.1L1097.4 785.5M1079.6 810.1L1103.3 803.7M1079.6 810.1L1112.2 810.5M1079.6 810.1L1057.6 833.3M1079.6 810.1L1078.3 835.9M1079.6 810.1L1070.3 828.3M1079.6 810.1L1059.3 810.9M1079.6 810.1L1059.3 817.7M1079.6 810.1L1068.2 824.5M1079.6 810.1L1088.9 790.6M1079.6 810.1L1099.9 794M1079.6 810.1L1075.4 826.1M1079.6 810.1L1063.5 822.8" stroke="#7dbad9" stroke-width="3.4" stroke-linecap="round" fill="none"/>
<path d="M1109.2 824.5L1139.7 824M1109.2 824.5L1132.9 829.5M1109.2 824.5L1143.9 842.6M1109.2 824.5L1141.4 838.8M1109.2 824.5L1126.1 847.3M1109.2 824.5L1126.6 857M1109.2 824.5L1110.5 861.7M1109.2 824.5L1109.2 851.5M1109.2 824.5L1120.2 843.1M1109.2 824.5L1116 854.1M1109.2 824.5L1134.6 834.6M1109.2 824.5L1121.1 820.2M1109.2 824.5L1104.1 815.1" stroke="#7dbad9" stroke-width="3.4" stroke-linecap="round" fill="none"/>
<path d="M1105.8 826.1L1108.4 860L1112.6 860L1114.3 847.3L1126.1 847.3L1116 831.2z" fill="#7dbad9"/>
<path d="M1082.1 809.2L1104.1 803.3L1112.6 810.5L1121.1 820.2L1109.2 824.5L1097.4 817.7z" fill="#7dbad9"/>
<path d="M1061 809.6L1079.2 808.4L1079.6 834.6L1070.3 828.7L1059.3 817.7z" fill="#7dbad9"/>
<path d="M1080.5 808.4L1086.4 790.6L1094 783.8L1100.8 794L1089.8 804.1z" fill="#7dbad9"/>
<path d="M1066.9 807.5L1079.6 810.1" stroke="#000" stroke-width="1.6" fill="none"/>
<path d="M1079.6 810.1Q1100.8 818.1 1104.1 829.5" stroke="#000" stroke-width="2" fill="none"/>
<path d="M1104.1 829.5L1107.5 847.3" stroke="#000" stroke-width="1.2" fill="none"/>
<path d="M1079.6 810.1L1100.8 796.1" stroke="#000" stroke-width="1.3" stroke-linecap="butt" fill="none"/>
<path d="M1086.4 812.4L1099.9 819.8M1108.4 822.3L1115.1 825.3M1121.9 830.4L1132.5 837M1104.6 829.1L1110.5 833.6M1116.2 836.5L1119.4 841.9" stroke="#000" stroke-width="3.4" stroke-linecap="butt" fill="none"/>
<path d="M1104.1 782.6L1099.9 789.8M1073.3 813.9L1073.5 817.7M1062.7 809.2L1066.5 812.2M1077.1 805.8L1077.9 809.2M1089.8 797.4L1093.6 799.5" stroke="#000" stroke-width="3" stroke-linecap="butt" fill="none"/>
<path d="M1099.9 819.8L1108.4 822.3M1115.1 825.3L1121.9 830.4" stroke="#000" stroke-width="1.5" stroke-linecap="butt" fill="none"/>
<text x="192.2" y="577" font-size="29.2" stroke="#000">224 repeats</text>
<text x="864.8" y="839.7" font-size="29.2" stroke="#000">301 repeats</text>
<text x="127" y="783.4" font-size="29.2" stroke="#000">Tree scale</text>
<path d="M276.2 773.3H397.1" stroke="#000" stroke-width="5" fill="none"/>
<text x="334.6" y="766" font-size="28" text-anchor="middle" stroke="#000">1</text>
<path d="M916 576.7H988.8" stroke="#92c5e0" stroke-width="4.5" fill="none"/>
<path d="M916 613.6H988.8" stroke="#0e76b6" stroke-width="4.5" fill="none"/>
<text x="1009" y="588" font-size="29.2" stroke="#000">Type I</text>
<text x="1009" y="622.6" font-size="29.2" stroke="#000">Type II</text>
<text x="1279" y="533.3" font-size="61.5" stroke="#000">c</text>
<path d="M1444.2 519.2V903M1475.4 519.2V903M1506.6 519.2V903M1537.8 519.2V903M1569 519.2V903M1600.2 519.2V903M1631.4 519.2V903M1662.6 519.2V903M1693.8 519.2V903M1725 519.2V903M1756.2 519.2V903M1787.4 519.2V903M1818.6 519.2V903M1849.8 519.2V903M1881 519.2V903M1912.2 519.2V903M1943.4 519.2V903M1974.6 519.2V903M2005.8 519.2V903M1425.6 885.8H2024.8M1425.6 790.4H2024.8M1425.6 694.9H2024.8M1425.6 599.5H2024.8" stroke="#e6e6e6" stroke-width="1.4" fill="none"/>
<path d="M1425.6 838.1H2024.8M1425.6 742.6H2024.8M1425.6 647.2H2024.8M1425.6 551.8H2024.8" stroke="#e6e6e6" stroke-width="0.9" fill="none"/>
<path d="M1430.2 781.5h28.1V843.1h-28.1zM1461.4 537h28.1V553.5h-28.1zM1492.6 785.2h28.1V855.5h-28.1zM1523.8 864.9h28.1V875h-28.1zM1555 811.5h28.1V860h-28.1zM1586.2 830.3h28.1V842.7h-28.1zM1617.4 749.9h28.1V867.1h-28.1zM1648.6 831.1h28.1V876.9h-28.1zM1679.8 801.8h28.1V880.6h-28.1zM1711 847.2h28.1V867.1h-28.1zM1742.2 786.4h28.1V794.6h-28.1zM1773.4 783.7h28.1V884.8h-28.1zM1804.5 789h28.1V851h-28.1zM1835.8 794.2h28.1V866h-28.1zM1867 852.1h28.1V872.7h-28.1zM1898.2 822h28.1V874.6h-28.1zM1929.4 833.7h28.1V861.9h-28.1zM1960.5 825.8h28.1V842.7h-28.1z" fill="#92c5e0"/>
<path d="M1430.2 843.1h28.1V885.8h-28.1zM1461.4 553.5h28.1V885.8h-28.1zM1492.6 855.5h28.1V885.8h-28.1zM1523.8 875h28.1V885.8h-28.1zM1555 860h28.1V885.8h-28.1zM1586.2 842.7h28.1V885.8h-28.1zM1617.4 867.1h28.1V885.8h-28.1zM1648.6 876.9h28.1V885.8h-28.1zM1679.8 880.6h28.1V885.8h-28.1zM1711 867.1h28.1V885.8h-28.1zM1742.2 794.6h28.1V885.8h-28.1zM1773.4 884.8h28.1V885.8h-28.1zM1804.5 851h28.1V885.8h-28.1zM1835.8 866h28.1V885.8h-28.1zM1867 872.7h28.1V885.8h-28.1zM1898.2 874.6h28.1V885.8h-28.1zM1929.4 861.9h28.1V885.8h-28.1zM1960.5 842.7h28.1V885.8h-28.1zM1991.8 855.8h28.1V885.8h-28.1z" fill="#0e76b6"/>
<text x="1417.6" y="893.1" font-size="20.3" text-anchor="end" stroke="#000">0</text>
<text x="1417.6" y="797.7" font-size="20.3" text-anchor="end" stroke="#000">2000</text>
<text x="1417.6" y="702.2" font-size="20.3" text-anchor="end" stroke="#000">4000</text>
<text x="1417.6" y="606.8" font-size="20.3" text-anchor="end" stroke="#000">6000</text>
<text x="1364.6" y="710.5" font-size="23.4" text-anchor="middle" stroke="#000" transform="rotate(-90 1364.6 710.5)">Number of satellite repeat</text>
<text x="1470.2" y="903.4" font-size="18" text-anchor="end" stroke="#000" transform="rotate(-45 1470.2 903.4)">Chr01</text>
<text x="1501.4" y="903.4" font-size="18" text-anchor="end" stroke="#000" transform="rotate(-45 1501.4 903.4)">Chr02</text>
<text x="1532.6" y="903.4" font-size="18" text-anchor="end" stroke="#000" transform="rotate(-45 1532.6 903.4)">Chr03</text>
<text x="1563.8" y="903.4" font-size="18" text-anchor="end" stroke="#000" transform="rotate(-45 1563.8 903.4)">Chr04</text>
<text x="1595" y="903.4" font-size="18" text-anchor="end" stroke="#000" transform="rotate(-45 1595 903.4)">Chr05</text>
<text x="1626.2" y="903.4" font-size="18" text-anchor="end" stroke="#000" transform="rotate(-45 1626.2 903.4)">Chr06</text>
<text x="1657.4" y="903.4" font-size="18" text-anchor="end" stroke="#000" transform="rotate(-45 1657.4 903.4)">Chr07</text>
<text x="1688.6" y="903.4" font-size="18" text-anchor="end" stroke="#000" transform="rotate(-45 1688.6 903.4)">Chr08</text>
<text x="1719.8" y="903.4" font-size="18" text-anchor="end" stroke="#000" transform="rotate(-45 1719.8 903.4)">Chr09</text>
<text x="1751" y="903.4" font-size="18" text-anchor="end" stroke="#000" transform="rotate(-45 1751 903.4)">Chr10</text>
<text x="1782.2" y="903.4" font-size="18" text-anchor="end" stroke="#000" transform="rotate(-45 1782.2 903.4)">Chr11</text>
<text x="1813.4" y="903.4" font-size="18" text-anchor="end" stroke="#000" transform="rotate(-45 1813.4 903.4)">Chr12</text>
<text x="1844.6" y="903.4" font-size="18" text-anchor="end" stroke="#000" transform="rotate(-45 1844.6 903.4)">Chr13</text>
<text x="1875.8" y="903.4" font-size="18" text-anchor="end" stroke="#000" transform="rotate(-45 1875.8 903.4)">Chr14</text>
<text x="1907" y="903.4" font-size="18" text-anchor="end" stroke="#000" transform="rotate(-45 1907 903.4)">Chr15</text>
<text x="1938.2" y="903.4" font-size="18" text-anchor="end" stroke="#000" transform="rotate(-45 1938.2 903.4)">Chr16</text>
<text x="1969.4" y="903.4" font-size="18" text-anchor="end" stroke="#000" transform="rotate(-45 1969.4 903.4)">Chr17</text>
<text x="2000.6" y="903.4" font-size="18" text-anchor="end" stroke="#000" transform="rotate(-45 2000.6 903.4)">Chr18</text>
<text x="2031.8" y="903.4" font-size="18" text-anchor="end" stroke="#000" transform="rotate(-45 2031.8 903.4)">Chr19</text>
<text x="1930.6" y="539.8" font-size="29" stroke="#000">Type</text>
<rect x="1943.3" y="553" width="42.3" height="37.2" fill="#92c5e0"/>
<rect x="1943.3" y="593.9" width="42.3" height="37.2" fill="#0e76b6"/>
<text x="1997.5" y="586.3" font-size="28.5" stroke="#000">I</text>
<text x="1996" y="625.4" font-size="28.5" stroke="#000">II</text>
<path d="M1441 979.1V1374.4M1473.4 979.1V1374.4M1505.9 979.1V1374.4M1538.3 979.1V1374.4M1570.8 979.1V1374.4M1603.2 979.1V1374.4M1635.6 979.1V1374.4M1668.1 979.1V1374.4M1700.5 979.1V1374.4M1733 979.1V1374.4M1765.4 979.1V1374.4M1797.8 979.1V1374.4M1830.3 979.1V1374.4M1862.7 979.1V1374.4M1895.2 979.1V1374.4M1927.6 979.1V1374.4M1960 979.1V1374.4M1992.5 979.1V1374.4M2024.9 979.1V1374.4M1421.5 1356.4H2045.5M1421.5 1266.6H2045.5M1421.5 1176.7H2045.5M1421.5 1086.8H2045.5M1421.5 997H2045.5" stroke="#e6e6e6" stroke-width="1.4" fill="none"/>
<path d="M1421.5 1311.5H2045.5M1421.5 1221.6H2045.5M1421.5 1131.8H2045.5M1421.5 1041.9H2045.5" stroke="#e6e6e6" stroke-width="0.9" fill="none"/>
<path d="M1426.3 997h29.3V1209.2h-29.3zM1458.8 997h29.3V1014.3h-29.3zM1491.2 997h29.3V1248.9h-29.3zM1523.7 997h29.3V1174.9h-29.3zM1556.1 997h29.3V1233.1h-29.3zM1588.5 997h29.3V1077.9h-29.3zM1621 997h29.3V1308.2h-29.3zM1653.4 997h29.3V1300.7h-29.3zM1685.9 997h29.3V1336.3h-29.3zM1718.3 997h29.3V1185.7h-29.3zM1750.8 997h29.3V1027.5h-29.3zM1783.2 997h29.3V1354.2h-29.3zM1815.6 997h29.3V1227h-29.3zM1848.1 997h29.3V1280.6h-29.3zM1880.5 997h29.3V1223.8h-29.3zM1912.9 997h29.3V1297.1h-29.3zM1945.4 997h29.3V1194.7h-29.3zM1977.8 997h29.3V1098.4h-29.3z" fill="#92c5e0"/>
<path d="M1426.3 1209.2h29.3V1356.4h-29.3zM1458.8 1014.3h29.3V1356.4h-29.3zM1491.2 1248.9h29.3V1356.4h-29.3zM1523.7 1174.9h29.3V1356.4h-29.3zM1556.1 1233.1h29.3V1356.4h-29.3zM1588.5 1077.9h29.3V1356.4h-29.3zM1621 1308.2h29.3V1356.4h-29.3zM1653.4 1300.7h29.3V1356.4h-29.3zM1685.9 1336.3h29.3V1356.4h-29.3zM1718.3 1185.7h29.3V1356.4h-29.3zM1750.8 1027.5h29.3V1356.4h-29.3zM1783.2 1354.2h29.3V1356.4h-29.3zM1815.6 1227h29.3V1356.4h-29.3zM1848.1 1280.6h29.3V1356.4h-29.3zM1880.5 1223.8h29.3V1356.4h-29.3zM1912.9 1297.1h29.3V1356.4h-29.3zM1945.4 1194.7h29.3V1356.4h-29.3zM1977.8 1098.4h29.3V1356.4h-29.3zM2010.3 997h29.3V1356.4h-29.3z" fill="#0e76b6"/>
<text x="1412.8" y="1364.1" font-size="20.3" text-anchor="end" stroke="#000">0.00</text>
<text x="1412.8" y="1274.3" font-size="20.3" text-anchor="end" stroke="#000">0.25</text>
<text x="1412.8" y="1184.4" font-size="20.3" text-anchor="end" stroke="#000">0.50</text>
<text x="1412.8" y="1094.5" font-size="20.3" text-anchor="end" stroke="#000">0.75</text>
<text x="1412.8" y="1004.7" font-size="20.3" text-anchor="end" stroke="#000">1.00</text>
<text x="1364" y="1175" font-size="23.8" text-anchor="middle" stroke="#000" transform="rotate(-90 1364 1175)">Proportion of satellite repeat types</text>
<text x="1467.5" y="1374.4" font-size="18.5" text-anchor="end" stroke="#000" transform="rotate(-45 1467.5 1374.4)">Chr01</text>
<text x="1499.9" y="1374.4" font-size="18.5" text-anchor="end" stroke="#000" transform="rotate(-45 1499.9 1374.4)">Chr02</text>
<text x="1532.4" y="1374.4" font-size="18.5" text-anchor="end" stroke="#000" transform="rotate(-45 1532.4 1374.4)">Chr03</text>
<text x="1564.8" y="1374.4" font-size="18.5" text-anchor="end" stroke="#000" transform="rotate(-45 1564.8 1374.4)">Chr04</text>
<text x="1597.3" y="1374.4" font-size="18.5" text-anchor="end" stroke="#000" transform="rotate(-45 1597.3 1374.4)">Chr05</text>
<text x="1629.7" y="1374.4" font-size="18.5" text-anchor="end" stroke="#000" transform="rotate(-45 1629.7 1374.4)">Chr06</text>
<text x="1662.1" y="1374.4" font-size="18.5" text-anchor="end" stroke="#000" transform="rotate(-45 1662.1 1374.4)">Chr07</text>
<text x="1694.6" y="1374.4" font-size="18.5" text-anchor="end" stroke="#000" transform="rotate(-45 1694.6 1374.4)">Chr08</text>
<text x="1727" y="1374.4" font-size="18.5" text-anchor="end" stroke="#000" transform="rotate(-45 1727 1374.4)">Chr09</text>
<text x="1759.5" y="1374.4" font-size="18.5" text-anchor="end" stroke="#000" transform="rotate(-45 1759.5 1374.4)">Chr10</text>
<text x="1791.9" y="1374.4" font-size="18.5" text-anchor="end" stroke="#000" transform="rotate(-45 1791.9 1374.4)">Chr11</text>
<text x="1824.3" y="1374.4" font-size="18.5" text-anchor="end" stroke="#000" transform="rotate(-45 1824.3 1374.4)">Chr12</text>
<text x="1856.8" y="1374.4" font-size="18.5" text-anchor="end" stroke="#000" transform="rotate(-45 1856.8 1374.4)">Chr13</text>
<text x="1889.2" y="1374.4" font-size="18.5" text-anchor="end" stroke="#000" transform="rotate(-45 1889.2 1374.4)">Chr14</text>
<text x="1921.7" y="1374.4" font-size="18.5" text-anchor="end" stroke="#000" transform="rotate(-45 1921.7 1374.4)">Chr15</text>
<text x="1954.1" y="1374.4" font-size="18.5" text-anchor="end" stroke="#000" transform="rotate(-45 1954.1 1374.4)">Chr16</text>
<text x="1986.5" y="1374.4" font-size="18.5" text-anchor="end" stroke="#000" transform="rotate(-45 1986.5 1374.4)">Chr17</text>
<text x="2019" y="1374.4" font-size="18.5" text-anchor="end" stroke="#000" transform="rotate(-45 2019 1374.4)">Chr18</text>
<text x="2051.4" y="1374.4" font-size="18.5" text-anchor="end" stroke="#000" transform="rotate(-45 2051.4 1374.4)">Chr19</text>
<text x="-2.8" y="930.5" font-size="61" stroke="#000">d</text>
<path d="M134.5 1359.3H1294.3M134.5 1218H1294.3M134.5 1076.7H1294.3" stroke="#e6e6e6" stroke-width="1.4" fill="none"/>
<path d="M134.5 1288.6H1294.3M134.5 1147.3H1294.3M134.5 1006H1294.3M161.6 949.4V1383.2M200.8 949.4V1383.2M279.1 949.4V1383.2M358.4 949.4V1383.2M415.8 949.4V1383.2M447 949.4V1383.2M490.2 949.4V1383.2M572.8 949.4V1383.2M651.2 949.4V1383.2M702.2 949.4V1383.2M742.5 949.4V1383.2M780.9 949.4V1383.2M845.3 949.4V1383.2M936.9 949.4V1383.2M1026.2 949.4V1383.2M1081.3 949.4V1383.2M1110.6 949.4V1383.2M1136.7 949.4V1383.2M1184.9 949.4V1383.2M1230.2 949.4V1383.2M1280.5 949.4V1383.2" stroke="#e6e6e6" stroke-width="0.9" fill="none"/>
<path d="M220.9 1345.4h2.2V1360h-2.2zM222.9 1345.4h2.2V1360h-2.2zM224.9 1250.3h2.2V1360h-2.2zM226.9 1109.9h2.2V1360h-2.2zM228.9 1079.2h2.2V1360h-2.2zM230.9 1340.3h2.2V1360h-2.2zM232.9 1344.7h2.2V1360h-2.2zM234.9 1347h2.2V1360h-2.2zM236.9 1345.9h2.2V1360h-2.2zM265.1 1257h2.2V1360h-2.2zM267.1 1261h2.2V1360h-2.2zM327.4 1345.4h2.2V1360h-2.2zM329.5 1349.9h2.2V1360h-2.2zM331.5 1351.7h2.2V1360h-2.2zM333.5 1351.9h2.2V1360h-2.2zM335.5 1352.1h2.2V1360h-2.2zM337.5 1352.4h2.2V1360h-2.2zM339.5 1351.9h2.2V1360h-2.2zM341.5 1352.3h2.2V1360h-2.2zM343.5 1350.4h2.2V1360h-2.2zM345.5 1351.3h2.2V1360h-2.2zM347.5 1352.4h2.2V1360h-2.2zM349.6 1335.4h2.2V1360h-2.2zM351.6 1349.2h2.2V1360h-2.2zM353.6 1201.9h2.2V1360h-2.2zM355.6 1348.1h2.2V1360h-2.2zM357.6 1336.5h2.2V1360h-2.2zM359.6 1196.5h2.2V1360h-2.2zM361.6 1345.4h2.2V1360h-2.2zM363.6 1350.3h2.2V1360h-2.2zM391.8 1153.6h2.2V1360h-2.2zM393.8 1258.5h2.2V1360h-2.2zM395.8 1343.2h2.2V1360h-2.2zM397.8 1343.6h2.2V1360h-2.2zM399.8 1344.7h2.2V1360h-2.2zM401.8 1350.3h2.2V1360h-2.2zM403.9 1350.8h2.2V1360h-2.2zM405.9 1350.9h2.2V1360h-2.2zM407.9 1337.6h2.2V1360h-2.2zM409.9 1337.6h2.2V1360h-2.2zM411.9 1350.3h2.2V1360h-2.2zM413.9 1346.5h2.2V1360h-2.2zM415.9 1352.3h2.2V1360h-2.2zM417.9 1352h2.2V1360h-2.2zM419.9 1349.2h2.2V1360h-2.2zM438 1337h2.2V1360h-2.2zM440.1 1331.4h2.2V1360h-2.2zM442.1 1325.9h2.2V1360h-2.2zM444.1 1273.6h2.2V1360h-2.2zM446.1 1327h2.2V1360h-2.2zM448.1 1325.2h2.2V1360h-2.2zM458.2 1244.7h2.2V1360h-2.2zM492.3 1347.4h2.2V1360h-2.2zM494.4 1348.5h2.2V1360h-2.2zM496.4 1352.1h2.2V1360h-2.2zM498.4 1345.9h2.2V1360h-2.2zM500.4 1352.1h2.2V1360h-2.2zM502.4 1350.7h2.2V1360h-2.2zM504.4 1352.1h2.2V1360h-2.2zM506.4 1350.6h2.2V1360h-2.2zM508.4 1351.7h2.2V1360h-2.2zM510.4 1348.7h2.2V1360h-2.2zM512.5 1352.1h2.2V1360h-2.2zM514.5 1319.9h2.2V1360h-2.2zM516.5 1351.4h2.2V1360h-2.2zM518.5 1317h2.2V1360h-2.2zM520.5 1278.1h2.2V1360h-2.2zM522.5 1335.2h2.2V1360h-2.2zM524.5 1345h2.2V1360h-2.2zM526.5 1327h2.2V1360h-2.2zM528.5 1340.3h2.2V1360h-2.2zM530.6 1289.6h2.2V1360h-2.2zM532.6 1277.4h2.2V1360h-2.2zM534.6 1325.4h2.2V1360h-2.2zM536.6 1338.5h2.2V1360h-2.2zM538.6 1351.4h2.2V1360h-2.2zM540.6 1339.9h2.2V1360h-2.2zM542.6 1216.1h2.2V1360h-2.2zM544.6 1275.9h2.2V1360h-2.2zM546.6 1314.3h2.2V1360h-2.2zM548.6 1348.1h2.2V1360h-2.2zM550.7 1353h2.2V1360h-2.2zM552.7 1330.3h2.2V1360h-2.2zM554.7 1348.1h2.2V1360h-2.2zM556.7 1353h2.2V1360h-2.2zM558.7 1341.9h2.2V1360h-2.2zM560.7 1353h2.2V1360h-2.2zM562.7 1343.2h2.2V1360h-2.2zM564.7 1345.9h2.2V1360h-2.2zM566.7 1337h2.2V1360h-2.2zM568.8 1347.6h2.2V1360h-2.2zM570.8 1353h2.2V1360h-2.2zM572.8 1344.3h2.2V1360h-2.2zM574.8 1321.4h2.2V1360h-2.2zM576.8 1344.7h2.2V1360h-2.2zM578.8 1353.6h2.2V1360h-2.2zM580.8 1283.6h2.2V1360h-2.2zM582.8 1308.7h2.2V1360h-2.2zM584.8 1340.7h2.2V1360h-2.2zM586.9 1255.4h2.2V1360h-2.2zM588.9 1336.5h2.2V1360h-2.2zM590.9 1252.5h2.2V1360h-2.2zM592.9 1348.1h2.2V1360h-2.2zM594.9 1350.3h2.2V1360h-2.2zM613 1327.6h2.2V1360h-2.2zM615 1353h2.2V1360h-2.2zM617 1345.4h2.2V1360h-2.2zM619 1353h2.2V1360h-2.2zM621 1348.1h2.2V1360h-2.2zM623.1 1349.2h2.2V1360h-2.2zM625.1 1334.7h2.2V1360h-2.2zM627.1 1339.2h2.2V1360h-2.2zM629.1 1290.3h2.2V1360h-2.2zM647.2 1282.5h2.2V1360h-2.2zM649.2 1315.2h2.2V1360h-2.2zM651.2 1350.7h2.2V1360h-2.2zM653.2 1351.4h2.2V1360h-2.2zM655.2 1342.5h2.2V1360h-2.2zM657.2 1350.3h2.2V1360h-2.2zM659.3 1249.6h2.2V1360h-2.2zM661.3 1314.3h2.2V1360h-2.2zM663.3 1350.3h2.2V1360h-2.2zM665.3 1319.9h2.2V1360h-2.2zM667.3 1316.5h2.2V1360h-2.2zM669.3 1324.3h2.2V1360h-2.2zM671.3 1348.1h2.2V1360h-2.2zM677.4 1346.3h2.2V1360h-2.2zM679.4 1352.5h2.2V1360h-2.2zM681.4 1351.9h2.2V1360h-2.2zM683.4 1351.9h2.2V1360h-2.2zM685.4 1351.9h2.2V1360h-2.2zM687.4 1350.3h2.2V1360h-2.2zM689.4 1353h2.2V1360h-2.2zM691.4 1349.2h2.2V1360h-2.2zM693.4 949.7h2.2V1360h-2.2zM695.5 1345.9h2.2V1360h-2.2zM697.5 1335.9h2.2V1360h-2.2zM699.5 1325.2h2.2V1360h-2.2zM701.5 1349.2h2.2V1360h-2.2zM703.5 1353h2.2V1360h-2.2zM705.5 1346.3h2.2V1360h-2.2zM707.5 1352.1h2.2V1360h-2.2zM709.5 1331.4h2.2V1360h-2.2zM711.5 1317h2.2V1360h-2.2zM713.6 1337h2.2V1360h-2.2zM715.6 1344.1h2.2V1360h-2.2zM717.6 1301.4h2.2V1360h-2.2zM725.6 1238.1h2.2V1360h-2.2zM741.6 1287h2.2V1360h-2.2zM743.6 1327.4h2.2V1360h-2.2zM745.6 1225.9h2.2V1360h-2.2zM757.6 1347h2.2V1360h-2.2zM759.6 1308.1h2.2V1360h-2.2zM761.6 1350.3h2.2V1360h-2.2zM763.6 1344.7h2.2V1360h-2.2zM765.6 1345.4h2.2V1360h-2.2zM805.6 1339.2h2.2V1360h-2.2zM807.6 1015.4h2.2V1360h-2.2zM809.6 1351.4h2.2V1360h-2.2zM811.6 1329.6h2.2V1360h-2.2zM813.6 1343.6h2.2V1360h-2.2zM815.6 1350.3h2.2V1360h-2.2zM817.6 1338.7h2.2V1360h-2.2zM819.6 1343.2h2.2V1360h-2.2zM821.6 1334.7h2.2V1360h-2.2zM823.6 1221.4h2.2V1360h-2.2zM825.6 1350.3h2.2V1360h-2.2zM827.6 1290.3h2.2V1360h-2.2zM829.6 1339.2h2.2V1360h-2.2zM831.6 1330.7h2.2V1360h-2.2zM833.6 1350.3h2.2V1360h-2.2zM837.6 1348.1h2.2V1360h-2.2zM839.6 1347.6h2.2V1360h-2.2zM841.6 1321.4h2.2V1360h-2.2zM843.6 1343.6h2.2V1360h-2.2zM845.6 1351.4h2.2V1360h-2.2zM847.6 1352.1h2.2V1360h-2.2zM849.6 1351.4h2.2V1360h-2.2zM851.6 1352.1h2.2V1360h-2.2zM853.6 1249.9h2.2V1360h-2.2zM855.6 1330.3h2.2V1360h-2.2zM857.6 1353h2.2V1360h-2.2zM859.6 1348.1h2.2V1360h-2.2zM861.6 1345.9h2.2V1360h-2.2zM863.6 1310.3h2.2V1360h-2.2zM865.6 1345.4h2.2V1360h-2.2zM867.6 1335.9h2.2V1360h-2.2zM869.6 1352.5h2.2V1360h-2.2zM871.6 1349.9h2.2V1360h-2.2zM873.6 1352.1h2.2V1360h-2.2zM875.6 1350.6h2.2V1360h-2.2zM877.6 1350.3h2.2V1360h-2.2zM879.6 1352.2h2.2V1360h-2.2zM881.6 1344.7h2.2V1360h-2.2zM883.6 1333.6h2.2V1360h-2.2zM924.2 1341.9h2.2V1360h-2.2zM926.2 1301.4h2.2V1360h-2.2zM928.2 1316.3h2.2V1360h-2.2zM930.2 1339.2h2.2V1360h-2.2zM932.2 1321.4h2.2V1360h-2.2zM934.2 1339.9h2.2V1360h-2.2zM936.2 1341.4h2.2V1360h-2.2zM938.2 1176.5h2.2V1360h-2.2zM940.2 1348.1h2.2V1360h-2.2zM942.2 1352.5h2.2V1360h-2.2zM944.2 1352.2h2.2V1360h-2.2zM946.2 1350.9h2.2V1360h-2.2zM948.2 1352.4h2.2V1360h-2.2zM950.2 1349.2h2.2V1360h-2.2zM952.2 1352.1h2.2V1360h-2.2zM954.2 1351.5h2.2V1360h-2.2zM956.2 1324.7h2.2V1360h-2.2zM958.2 1352.1h2.2V1360h-2.2zM960.2 1297h2.2V1360h-2.2zM962.2 1348.1h2.2V1360h-2.2zM964.2 1352.1h2.2V1360h-2.2zM966.2 1337.6h2.2V1360h-2.2zM968.2 1350.3h2.2V1360h-2.2zM970.2 1331.4h2.2V1360h-2.2zM972.2 1352.1h2.2V1360h-2.2zM974.2 1351.8h2.2V1360h-2.2zM976.2 1350.8h2.2V1360h-2.2zM978.2 1352.4h2.2V1360h-2.2zM980.2 1350.7h2.2V1360h-2.2zM982.2 1349.2h2.2V1360h-2.2zM984.2 1347.6h2.2V1360h-2.2zM986.2 1347h2.2V1360h-2.2zM988.9 1347h2.2V1360h-2.2zM992.9 1352.1h2.2V1360h-2.2zM994.9 1351.4h2.2V1360h-2.2zM996.9 1347h2.2V1360h-2.2zM998.9 1343h2.2V1360h-2.2zM1000.9 1350.3h2.2V1360h-2.2zM1002.9 1340.7h2.2V1360h-2.2zM1004.9 1339.2h2.2V1360h-2.2zM1006.9 1350.3h2.2V1360h-2.2zM1008.9 1353h2.2V1360h-2.2zM1010 1351.4h2.2V1360h-2.2zM1012 1350.3h2.2V1360h-2.2zM1014 1347.6h2.2V1360h-2.2zM1016 1352.1h2.2V1360h-2.2zM1018 1351.8h2.2V1360h-2.2zM1019.1 1227.4h2.2V1360h-2.2zM1021.1 1131.6h2.2V1360h-2.2zM1023.1 1351.4h2.2V1360h-2.2zM1025.1 1352.5h2.2V1360h-2.2zM1027.1 1344.7h2.2V1360h-2.2zM1029.1 1349.2h2.2V1360h-2.2zM1031.1 1289.9h2.2V1360h-2.2zM1033.1 1341.4h2.2V1360h-2.2zM1035.1 1352.5h2.2V1360h-2.2zM1037.1 1345.4h2.2V1360h-2.2zM1039.1 1254.3h2.2V1360h-2.2zM1041.1 1280.7h2.2V1360h-2.2zM1053.1 1343.6h2.2V1360h-2.2zM1077.1 1347h2.2V1360h-2.2zM1079.1 1312.1h2.2V1360h-2.2zM1081.1 1311.6h2.2V1360h-2.2zM1083.1 1317h2.2V1360h-2.2zM1085.1 1345.4h2.2V1360h-2.2zM1087.1 1344.7h2.2V1360h-2.2zM1089.1 1352.1h2.2V1360h-2.2zM1091.1 1344.7h2.2V1360h-2.2zM1093.1 1345.9h2.2V1360h-2.2zM1095.1 1343.6h2.2V1360h-2.2zM1097.1 1343.6h2.2V1360h-2.2zM1099.1 1352.5h2.2V1360h-2.2zM1105.1 1311.4h2.2V1360h-2.2zM1107.1 1348.1h2.2V1360h-2.2zM1109.1 1351.4h2.2V1360h-2.2zM1111.1 1338.1h2.2V1360h-2.2zM1113.1 1351.4h2.2V1360h-2.2zM1115.1 1323h2.2V1360h-2.2zM1117.1 1339.2h2.2V1360h-2.2zM1119.1 1353h2.2V1360h-2.2zM1121.1 1351.4h2.2V1360h-2.2zM1131.3 1348.7h2.2V1360h-2.2zM1133.3 1351.4h2.2V1360h-2.2zM1135.3 1350.7h2.2V1360h-2.2zM1137.3 1344.7h2.2V1360h-2.2zM1139.3 1351.4h2.2V1360h-2.2zM1141.3 1076.5h2.2V1360h-2.2zM1143.3 1351.4h2.2V1360h-2.2zM1152.2 1352.5h2.2V1360h-2.2zM1154.2 1346.5h2.2V1360h-2.2zM1156.2 1332.5h2.2V1360h-2.2zM1158.2 1349.2h2.2V1360h-2.2zM1160.2 1353h2.2V1360h-2.2zM1162.2 1351.4h2.2V1360h-2.2zM1164.2 1352.1h2.2V1360h-2.2zM1166.2 1349.9h2.2V1360h-2.2zM1168.2 1352.4h2.2V1360h-2.2zM1170.2 1352.3h2.2V1360h-2.2zM1172.2 1351h2.2V1360h-2.2zM1174.2 1351.1h2.2V1360h-2.2zM1176.2 1349.9h2.2V1360h-2.2zM1178.2 1337.6h2.2V1360h-2.2zM1180.2 1350.3h2.2V1360h-2.2zM1182.2 1317h2.2V1360h-2.2z" fill="#92c5e0"/>
<path d="M186.7 1335.4h2.2V1360h-2.2zM188.7 1284.7h2.2V1360h-2.2zM190.7 1351.4h2.2V1360h-2.2zM192.7 1332.5h2.2V1360h-2.2zM194.7 1325.4h2.2V1360h-2.2zM196.7 1347h2.2V1360h-2.2zM198.7 1330.7h2.2V1360h-2.2zM200.7 1246.5h2.2V1360h-2.2zM202.8 1330.7h2.2V1360h-2.2zM204.8 1335.9h2.2V1360h-2.2zM206.8 1327.6h2.2V1360h-2.2zM208.8 1345.9h2.2V1360h-2.2zM210.8 1302.1h2.2V1360h-2.2zM212.8 1349.2h2.2V1360h-2.2zM214.8 1352.1h2.2V1360h-2.2zM216.8 1352.5h2.2V1360h-2.2zM218.8 1347h2.2V1360h-2.2zM239 1275.2h2.2V1360h-2.2zM241 1275.2h2.2V1360h-2.2zM243 1186.7h2.2V1360h-2.2zM245 1213h2.2V1360h-2.2zM247 1299.2h2.2V1360h-2.2zM249 1228.1h2.2V1360h-2.2zM251 1292.5h2.2V1360h-2.2zM253 1210.3h2.2V1360h-2.2zM255 1258.1h2.2V1360h-2.2zM257.1 1217.4h2.2V1360h-2.2zM259.1 1188.1h2.2V1360h-2.2zM261.1 1269.2h2.2V1360h-2.2zM263.1 1225.4h2.2V1360h-2.2zM269.1 1299.2h2.2V1360h-2.2zM271.1 1212.1h2.2V1360h-2.2zM273.1 1281.4h2.2V1360h-2.2zM275.2 1283.6h2.2V1360h-2.2zM277.2 1277.6h2.2V1360h-2.2zM279.2 1291.4h2.2V1360h-2.2zM281.2 1287h2.2V1360h-2.2zM283.2 1273.2h2.2V1360h-2.2zM285.2 1277h2.2V1360h-2.2zM287.2 1275.9h2.2V1360h-2.2zM289.2 1265.2h2.2V1360h-2.2zM291.2 1132.5h2.2V1360h-2.2zM293.3 1212.5h2.2V1360h-2.2zM295.3 1169.6h2.2V1360h-2.2zM297.3 1239.2h2.2V1360h-2.2zM299.3 1249.9h2.2V1360h-2.2zM301.3 1297h2.2V1360h-2.2zM303.3 1284.3h2.2V1360h-2.2zM305.3 1287h2.2V1360h-2.2zM307.3 1242.5h2.2V1360h-2.2zM309.3 1295.9h2.2V1360h-2.2zM311.4 1292.1h2.2V1360h-2.2zM313.4 1195.4h2.2V1360h-2.2zM315.4 1286.3h2.2V1360h-2.2zM317.4 1275.9h2.2V1360h-2.2zM319.4 1297.4h2.2V1360h-2.2zM321.4 1341.4h2.2V1360h-2.2zM323.4 1302.5h2.2V1360h-2.2zM325.4 1353h2.2V1360h-2.2zM365.6 1327.2h2.2V1360h-2.2zM367.7 1351.9h2.2V1360h-2.2zM369.7 1351.7h2.2V1360h-2.2zM371.7 1352.3h2.2V1360h-2.2zM373.7 1350.6h2.2V1360h-2.2zM375.7 1351.3h2.2V1360h-2.2zM377.7 1350.8h2.2V1360h-2.2zM379.7 1351.5h2.2V1360h-2.2zM381.7 1288.1h2.2V1360h-2.2zM383.7 1352.1h2.2V1360h-2.2zM385.8 1351.6h2.2V1360h-2.2zM387.8 1350.3h2.2V1360h-2.2zM389.8 1319.6h2.2V1360h-2.2zM422 1350.3h2.2V1360h-2.2zM424 1346.5h2.2V1360h-2.2zM426 1349.2h2.2V1360h-2.2zM428 1334.1h2.2V1360h-2.2zM430 1314.3h2.2V1360h-2.2zM432 1314.3h2.2V1360h-2.2zM434 1313.9h2.2V1360h-2.2zM436 1324.7h2.2V1360h-2.2zM450.1 1238.7h2.2V1360h-2.2zM452.1 1331.4h2.2V1360h-2.2zM454.1 1312.1h2.2V1360h-2.2zM456.1 1332.5h2.2V1360h-2.2zM460.2 1349.2h2.2V1360h-2.2zM462.2 1347h2.2V1360h-2.2zM464.2 1351.4h2.2V1360h-2.2zM466.2 1328.1h2.2V1360h-2.2zM468.2 1333h2.2V1360h-2.2zM470.2 1316.3h2.2V1360h-2.2zM472.2 1349.2h2.2V1360h-2.2zM474.2 1340.3h2.2V1360h-2.2zM476.3 1352.5h2.2V1360h-2.2zM478.3 1309.9h2.2V1360h-2.2zM480.3 1339.9h2.2V1360h-2.2zM482.3 1344.1h2.2V1360h-2.2zM484.3 1336.5h2.2V1360h-2.2zM486.3 1331.9h2.2V1360h-2.2zM488.3 1341h2.2V1360h-2.2zM490.3 1154.3h2.2V1360h-2.2zM596.9 1321.4h2.2V1360h-2.2zM598.9 1338.5h2.2V1360h-2.2zM600.9 1352.5h2.2V1360h-2.2zM602.9 1332.5h2.2V1360h-2.2zM605 1351.4h2.2V1360h-2.2zM607 1346.3h2.2V1360h-2.2zM609 1292.5h2.2V1360h-2.2zM611 1319.9h2.2V1360h-2.2zM631.1 1343.6h2.2V1360h-2.2zM633.1 1348.1h2.2V1360h-2.2zM635.1 1351.4h2.2V1360h-2.2zM637.1 1348.7h2.2V1360h-2.2zM639.1 1352.1h2.2V1360h-2.2zM641.2 1349.2h2.2V1360h-2.2zM643.2 1348.7h2.2V1360h-2.2zM645.2 1352.1h2.2V1360h-2.2zM673.3 1343.2h2.2V1360h-2.2zM675.3 1343.6h2.2V1360h-2.2zM719.6 1330.3h2.2V1360h-2.2zM721.6 1351.9h2.2V1360h-2.2zM723.6 1338.5h2.2V1360h-2.2zM727.6 1350.7h2.2V1360h-2.2zM729.6 1350.7h2.2V1360h-2.2zM732 1333h2.2V1360h-2.2zM734 1343.6h2.2V1360h-2.2zM736 1347h2.2V1360h-2.2zM738 1350.3h2.2V1360h-2.2zM739.6 1350.3h2.2V1360h-2.2zM747.6 1344.7h2.2V1360h-2.2zM749.6 1299.6h2.2V1360h-2.2zM751.6 1347h2.2V1360h-2.2zM753.6 1351.4h2.2V1360h-2.2zM755.6 1314.7h2.2V1360h-2.2zM767.6 1338.7h2.2V1360h-2.2zM769.6 1277h2.2V1360h-2.2zM771.6 1352.1h2.2V1360h-2.2zM773.6 1247.6h2.2V1360h-2.2zM775.6 1343.2h2.2V1360h-2.2zM777.6 1239.6h2.2V1360h-2.2zM779.6 1263.6h2.2V1360h-2.2zM781.6 1323.6h2.2V1360h-2.2zM783.6 1347.6h2.2V1360h-2.2zM785.6 1349.2h2.2V1360h-2.2zM787.6 1340.3h2.2V1360h-2.2zM789.6 1277h2.2V1360h-2.2zM791.6 1295.4h2.2V1360h-2.2zM793.6 1237.6h2.2V1360h-2.2zM795.6 1314.7h2.2V1360h-2.2zM797.6 1293.2h2.2V1360h-2.2zM799.6 1299.2h2.2V1360h-2.2zM801.6 1312.5h2.2V1360h-2.2zM803.6 1290.3h2.2V1360h-2.2zM835.6 1350.3h2.2V1360h-2.2zM886.2 1351.9h2.2V1360h-2.2zM888.2 1350.8h2.2V1360h-2.2zM890.2 1350.8h2.2V1360h-2.2zM892.2 1352.5h2.2V1360h-2.2zM894.2 1350.7h2.2V1360h-2.2zM896.2 1351.9h2.2V1360h-2.2zM898.2 1351.4h2.2V1360h-2.2zM900.2 1349.2h2.2V1360h-2.2zM902.2 1278.7h2.2V1360h-2.2zM904.2 1328.1h2.2V1360h-2.2zM906.2 1321.4h2.2V1360h-2.2zM908.2 1343.2h2.2V1360h-2.2zM910.2 1268.7h2.2V1360h-2.2zM912.2 1345.9h2.2V1360h-2.2zM914.2 1353h2.2V1360h-2.2zM916.2 1323.2h2.2V1360h-2.2zM918.2 1345.4h2.2V1360h-2.2zM920.2 1338.5h2.2V1360h-2.2zM922.2 1350.3h2.2V1360h-2.2zM990.9 1344.7h2.2V1360h-2.2zM1043.1 1336.3h2.2V1360h-2.2zM1045.1 1289.2h2.2V1360h-2.2zM1047.1 1332.5h2.2V1360h-2.2zM1049.1 1351.4h2.2V1360h-2.2zM1051.1 1345.2h2.2V1360h-2.2zM1055.1 1320.7h2.2V1360h-2.2zM1057.1 1352.1h2.2V1360h-2.2zM1059.1 1347.4h2.2V1360h-2.2zM1061.1 1351.4h2.2V1360h-2.2zM1063.1 1350.3h2.2V1360h-2.2zM1065.1 1340.3h2.2V1360h-2.2zM1067.1 1339.2h2.2V1360h-2.2zM1069.1 1315.4h2.2V1360h-2.2zM1071.1 1306.5h2.2V1360h-2.2zM1073.1 1338.5h2.2V1360h-2.2zM1075.1 1350.3h2.2V1360h-2.2zM1101.1 1345.9h2.2V1360h-2.2zM1103.1 1247.6h2.2V1360h-2.2zM1123.3 1289.2h2.2V1360h-2.2zM1125.3 1325.4h2.2V1360h-2.2zM1127.3 1325.4h2.2V1360h-2.2zM1129.3 1340.7h2.2V1360h-2.2zM1145.3 1325.9h2.2V1360h-2.2zM1147.3 1348.1h2.2V1360h-2.2zM1149.3 1281.4h2.2V1360h-2.2zM1184.2 1241.4h2.2V1360h-2.2zM1186.2 1292.1h2.2V1360h-2.2zM1188.2 1334.7h2.2V1360h-2.2zM1190.2 1287h2.2V1360h-2.2zM1192.2 1349.2h2.2V1360h-2.2zM1194.2 1352.5h2.2V1360h-2.2zM1196.2 1344.7h2.2V1360h-2.2zM1198.2 1307.6h2.2V1360h-2.2zM1200.2 1343.2h2.2V1360h-2.2zM1202.2 1351.4h2.2V1360h-2.2zM1204.2 1347.4h2.2V1360h-2.2zM1206.2 1351.4h2.2V1360h-2.2zM1208.2 1347h2.2V1360h-2.2zM1210.2 1351.9h2.2V1360h-2.2zM1212.2 1352.1h2.2V1360h-2.2zM1214.2 1352.5h2.2V1360h-2.2zM1216.2 1294.3h2.2V1360h-2.2zM1218.2 1350.7h2.2V1360h-2.2zM1219.6 1327.4h2.2V1360h-2.2zM1221.6 1334.1h2.2V1360h-2.2zM1223.6 1294.3h2.2V1360h-2.2zM1225.6 1351.4h2.2V1360h-2.2zM1227.6 1243.2h2.2V1360h-2.2zM1229.6 1350.7h2.2V1360h-2.2zM1231.6 1352.1h2.2V1360h-2.2zM1233.6 1351.4h2.2V1360h-2.2zM1235.6 1351.9h2.2V1360h-2.2zM1237.6 1288.7h2.2V1360h-2.2zM1239.6 1351.4h2.2V1360h-2.2z" fill="#0e76b6"/>
<rect x="1133" y="940" width="101" height="136" fill="#fff"/>
<path d="M240 949.4V1387.8M318.3 949.4V1387.8M398.5 949.4V1387.8M433 949.4V1387.8M461 949.4V1387.8M519.4 949.4V1387.8M626.1 949.4V1387.8M676.2 949.4V1387.8M728.2 949.4V1387.8M756.7 949.4V1387.8M805.1 949.4V1387.8M885.5 949.4V1387.8M988.2 949.4V1387.8M1064.3 949.4V1387.8M1098.4 949.4V1387.8M1122.8 949.4V1387.8M1150.6 1076V1387.8M1219.3 1076V1387.8M1241 949.4V1387.8" stroke="#000" stroke-width="1.7" fill="none"/>
<text x="1146.3" y="974.9" font-size="29" stroke="#000">Type</text>
<rect x="1158.8" y="989" width="42.3" height="37.2" fill="#92c5e0"/>
<rect x="1158.8" y="1029.4" width="42.3" height="37.4" fill="#0e76b6"/>
<text x="1213.2" y="1022.5" font-size="28.5" stroke="#000">I</text>
<text x="1211.5" y="1060.8" font-size="28.5" stroke="#000">II</text>
<text x="125.7" y="1366.9" font-size="20.8" text-anchor="end" stroke="#000">0</text>
<text x="125.7" y="1225.6" font-size="20.8" text-anchor="end" stroke="#000">250</text>
<text x="125.7" y="1084.3" font-size="20.8" text-anchor="end" stroke="#000">500</text>
<text x="81.3" y="1117.3" font-size="26.5" text-anchor="middle" stroke="#000" transform="rotate(-90 81.3 1117.3)">Number of satellite repeat</text>
<text x="266.7" y="1383.4" font-size="18.2" text-anchor="end" stroke="#000" transform="rotate(-45 266.7 1383.4)">Chr01</text>
<text x="345" y="1383.4" font-size="18.2" text-anchor="end" stroke="#000" transform="rotate(-45 345 1383.4)">Chr02</text>
<text x="425.2" y="1383.4" font-size="18.2" text-anchor="end" stroke="#000" transform="rotate(-45 425.2 1383.4)">Chr03</text>
<text x="459.7" y="1383.4" font-size="18.2" text-anchor="end" stroke="#000" transform="rotate(-45 459.7 1383.4)">Chr04</text>
<text x="487.7" y="1383.4" font-size="18.2" text-anchor="end" stroke="#000" transform="rotate(-45 487.7 1383.4)">Chr05</text>
<text x="546.1" y="1383.4" font-size="18.2" text-anchor="end" stroke="#000" transform="rotate(-45 546.1 1383.4)">Chr06</text>
<text x="652.8" y="1383.4" font-size="18.2" text-anchor="end" stroke="#000" transform="rotate(-45 652.8 1383.4)">Chr07</text>
<text x="702.9" y="1383.4" font-size="18.2" text-anchor="end" stroke="#000" transform="rotate(-45 702.9 1383.4)">Chr08</text>
<text x="754.9" y="1383.4" font-size="18.2" text-anchor="end" stroke="#000" transform="rotate(-45 754.9 1383.4)">Chr09</text>
<text x="783.4" y="1383.4" font-size="18.2" text-anchor="end" stroke="#000" transform="rotate(-45 783.4 1383.4)">Chr10</text>
<text x="831.8" y="1383.4" font-size="18.2" text-anchor="end" stroke="#000" transform="rotate(-45 831.8 1383.4)">Chr11</text>
<text x="912.2" y="1383.4" font-size="18.2" text-anchor="end" stroke="#000" transform="rotate(-45 912.2 1383.4)">Chr12</text>
<text x="1014.9" y="1383.4" font-size="18.2" text-anchor="end" stroke="#000" transform="rotate(-45 1014.9 1383.4)">Chr13</text>
<text x="1091" y="1383.4" font-size="18.2" text-anchor="end" stroke="#000" transform="rotate(-45 1091 1383.4)">Chr14</text>
<text x="1125.1" y="1383.4" font-size="18.2" text-anchor="end" stroke="#000" transform="rotate(-45 1125.1 1383.4)">Chr15</text>
<text x="1149.5" y="1383.4" font-size="18.2" text-anchor="end" stroke="#000" transform="rotate(-45 1149.5 1383.4)">Chr16</text>
<text x="1177.3" y="1383.4" font-size="18.2" text-anchor="end" stroke="#000" transform="rotate(-45 1177.3 1383.4)">Chr17</text>
<text x="1246" y="1383.4" font-size="18.2" text-anchor="end" stroke="#000" transform="rotate(-45 1246 1383.4)">Chr18</text>
<text x="1267.7" y="1383.4" font-size="18.2" text-anchor="end" stroke="#000" transform="rotate(-45 1267.7 1383.4)">Chr19</text>
</svg>
</body>
</html>
